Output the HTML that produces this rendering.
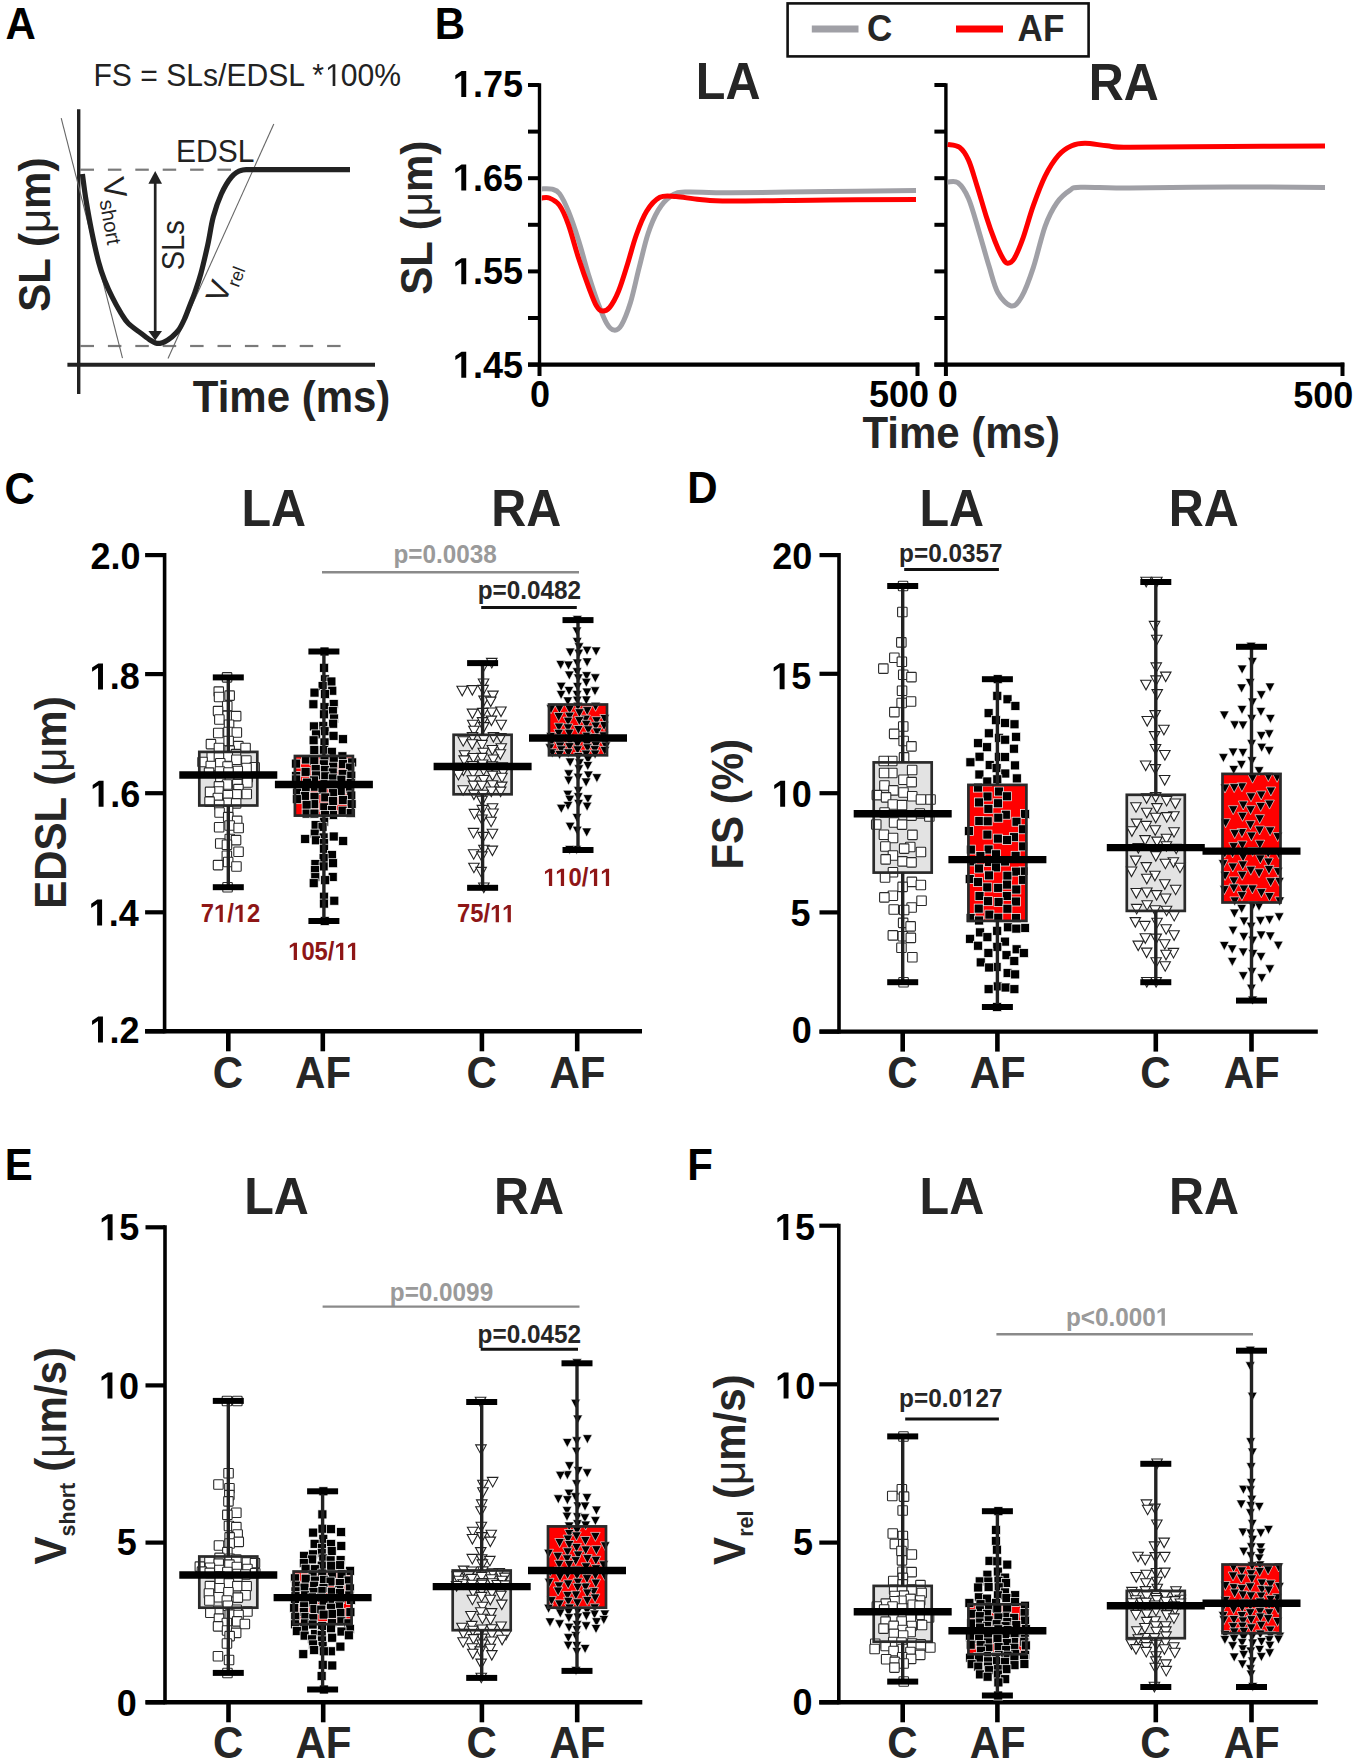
<!DOCTYPE html>
<html><head><meta charset="utf-8"><style>
html,body{margin:0;padding:0;background:#fff;width:1355px;height:1762px;overflow:hidden}
svg{display:block;font-family:"Liberation Sans", sans-serif}
</style></head><body>
<svg width="1355" height="1762" viewBox="0 0 1355 1762">
<g transform="translate(5.45,39.00) scale(1,1.05)"><text font-size="42" font-weight="bold" fill="#000" >A</text></g>
<g transform="translate(434.77,39.30) scale(1,1.05)"><text font-size="42" font-weight="bold" fill="#000" >B</text></g>
<g transform="translate(4.62,503.90) scale(1,1.05)"><text font-size="42" font-weight="bold" fill="#000" >C</text></g>
<g transform="translate(687.27,503.30) scale(1,1.05)"><text font-size="42" font-weight="bold" fill="#000" >D</text></g>
<g transform="translate(4.77,1180.20) scale(1,1.05)"><text font-size="42" font-weight="bold" fill="#000" >E</text></g>
<g transform="translate(687.27,1179.80) scale(1,1.05)"><text font-size="42" font-weight="bold" fill="#000" >F</text></g>
<g transform="translate(93.39,85.90) scale(1,1.05)"><text font-size="30.1" font-weight="normal" fill="#222" >FS = SLs/EDSL * 00%</text><path transform="translate(231.70,0) scale(0.01470,-0.01470)" d="M515 0V1237L197 1010V1180L530 1409H696V0Z" fill="#222"/></g>
<line x1="80.5" y1="169.7" x2="94.0" y2="169.7" stroke="#7a7a7a" stroke-width="2.2" />
<line x1="107.9" y1="169.7" x2="121.4" y2="169.7" stroke="#7a7a7a" stroke-width="2.2" />
<line x1="135.3" y1="169.7" x2="148.8" y2="169.7" stroke="#7a7a7a" stroke-width="2.2" />
<line x1="162.7" y1="169.7" x2="176.2" y2="169.7" stroke="#7a7a7a" stroke-width="2.2" />
<line x1="190.1" y1="169.7" x2="203.6" y2="169.7" stroke="#7a7a7a" stroke-width="2.2" />
<line x1="217.5" y1="169.7" x2="231.0" y2="169.7" stroke="#7a7a7a" stroke-width="2.2" />
<line x1="80.5" y1="346.0" x2="94.0" y2="346.0" stroke="#7a7a7a" stroke-width="2.2" />
<line x1="107.9" y1="346.0" x2="121.4" y2="346.0" stroke="#7a7a7a" stroke-width="2.2" />
<line x1="135.3" y1="346.0" x2="148.8" y2="346.0" stroke="#7a7a7a" stroke-width="2.2" />
<line x1="162.7" y1="346.0" x2="176.2" y2="346.0" stroke="#7a7a7a" stroke-width="2.2" />
<line x1="190.1" y1="346.0" x2="203.6" y2="346.0" stroke="#7a7a7a" stroke-width="2.2" />
<line x1="217.5" y1="346.0" x2="231.0" y2="346.0" stroke="#7a7a7a" stroke-width="2.2" />
<line x1="244.9" y1="346.0" x2="258.4" y2="346.0" stroke="#7a7a7a" stroke-width="2.2" />
<line x1="272.3" y1="346.0" x2="285.8" y2="346.0" stroke="#7a7a7a" stroke-width="2.2" />
<line x1="299.7" y1="346.0" x2="313.2" y2="346.0" stroke="#7a7a7a" stroke-width="2.2" />
<line x1="327.1" y1="346.0" x2="340.6" y2="346.0" stroke="#7a7a7a" stroke-width="2.2" />
<line x1="78.7" y1="109.3" x2="78.7" y2="394.0" stroke="#222" stroke-width="3.4" />
<line x1="67.4" y1="364.8" x2="375.0" y2="364.8" stroke="#222" stroke-width="4" />
<line x1="61.2" y1="118.2" x2="122.5" y2="358.2" stroke="#666" stroke-width="1.1" />
<line x1="273.8" y1="124.0" x2="168.0" y2="358.6" stroke="#666" stroke-width="1.1" />
<path d="M82.4,174.0 C83.0,178.3 84.4,190.3 86.0,200.0 C87.6,209.7 89.7,221.7 91.8,232.0 C93.9,242.3 96.5,254.0 98.6,262.0 C100.7,270.0 102.2,274.2 104.5,280.0 C106.8,285.8 109.3,291.4 112.1,296.9 C114.8,302.4 118.3,308.7 121.0,313.1 C123.7,317.5 125.0,320.1 128.4,323.5 C131.8,326.9 138.0,331.0 141.7,333.8 C145.4,336.6 148.2,338.8 150.5,340.3 C152.8,341.8 153.9,342.4 155.5,342.9 C157.1,343.4 158.5,343.5 160.0,343.3 C161.5,343.1 162.6,342.9 164.5,341.9 C166.4,340.9 168.8,339.5 171.2,337.5 C173.5,335.5 176.4,333.2 178.6,330.1 C180.8,327.0 182.6,323.2 184.5,319.0 C186.4,314.8 188.2,309.5 190.0,305.0 C191.8,300.5 193.2,297.2 195.0,292.0 C196.8,286.8 198.8,281.3 200.9,273.5 C203.0,265.7 205.6,254.5 207.7,245.1 C209.8,235.7 211.0,225.3 213.3,216.8 C215.6,208.3 218.3,200.6 221.3,194.0 C224.3,187.4 228.1,181.0 231.5,177.0 C234.9,173.0 237.0,171.4 241.7,170.2 C246.4,169.0 241.8,169.8 259.9,169.7 C277.9,169.6 335.0,169.7 350.0,169.7" fill="none" stroke="#222" stroke-width="5.2"/>
<line x1="155.2" y1="180.0" x2="155.2" y2="333.0" stroke="#222" stroke-width="2.7" />
<path d="M155.2,171 L148.4,183.8 L162,183.8 Z" fill="#222"/>
<path d="M155.2,340.6 L148.4,331 L162,331 Z" fill="#222"/>
<g transform="translate(176.00,162.40) scale(1,1.05)"><text font-size="30" font-weight="normal" fill="#222" >EDSL</text></g>
<g transform="translate(184.30,270.31) rotate(-90) scale(1,1.05)"><text font-size="29" font-weight="normal" fill="#222">SLs</text></g>
<text transform="translate(102.40,179.42) rotate(80)" font-size="31" fill="#222">V<tspan font-size="20.4" dy="6.5">short</tspan></text>
<text transform="translate(224.75,304.70) rotate(-69)" font-size="30.5" fill="#222">V<tspan font-size="18" dy="7">rel</tspan></text>
<g transform="translate(50.30,311.66) rotate(-90) scale(1,1.05)"><text font-size="42" font-weight="bold" fill="#222">SL (<tspan font-weight="normal">μ</tspan>m)</text></g>
<g transform="translate(192.78,412.30) scale(1,1.05)"><text font-size="42" font-weight="bold" fill="#222" >Time (ms)</text></g>
<rect x="787.6" y="3.4" width="301" height="53" fill="none" stroke="#111" stroke-width="2.6"/>
<line x1="811.8" y1="28.9" x2="858.5" y2="28.9" stroke="#a0a0a6" stroke-width="7" />
<g transform="translate(866.90,41.20) scale(1,1.05)"><text font-size="35" font-weight="bold" fill="#262626" >C</text></g>
<line x1="956.0" y1="28.9" x2="1003.0" y2="28.9" stroke="#ff0000" stroke-width="7" />
<g transform="translate(1017.62,41.20) scale(1,1.05)"><text font-size="35" font-weight="bold" fill="#262626" >AF</text></g>
<line x1="539.5" y1="83.2" x2="539.5" y2="366.1" stroke="#000" stroke-width="3.4" />
<line x1="528.0" y1="364.6" x2="919.2" y2="364.6" stroke="#000" stroke-width="4.2" />
<line x1="528.0" y1="85.0" x2="539.5" y2="85.0" stroke="#000" stroke-width="4" />
<line x1="528.0" y1="131.6" x2="539.5" y2="131.6" stroke="#000" stroke-width="4" />
<line x1="528.0" y1="178.2" x2="539.5" y2="178.2" stroke="#000" stroke-width="4" />
<line x1="528.0" y1="224.8" x2="539.5" y2="224.8" stroke="#000" stroke-width="4" />
<line x1="528.0" y1="271.4" x2="539.5" y2="271.4" stroke="#000" stroke-width="4" />
<line x1="528.0" y1="318.0" x2="539.5" y2="318.0" stroke="#000" stroke-width="4" />
<line x1="528.0" y1="364.6" x2="539.5" y2="364.6" stroke="#000" stroke-width="4" />
<line x1="539.5" y1="364.6" x2="539.5" y2="376.0" stroke="#000" stroke-width="4" />
<line x1="917.5" y1="362.6" x2="917.5" y2="376.0" stroke="#000" stroke-width="4" />
<line x1="945.9" y1="83.2" x2="945.9" y2="366.1" stroke="#000" stroke-width="3.4" />
<line x1="934.4" y1="364.6" x2="1344.2" y2="364.6" stroke="#000" stroke-width="4.2" />
<line x1="934.4" y1="85.0" x2="945.9" y2="85.0" stroke="#000" stroke-width="4" />
<line x1="934.4" y1="131.6" x2="945.9" y2="131.6" stroke="#000" stroke-width="4" />
<line x1="934.4" y1="178.2" x2="945.9" y2="178.2" stroke="#000" stroke-width="4" />
<line x1="934.4" y1="224.8" x2="945.9" y2="224.8" stroke="#000" stroke-width="4" />
<line x1="934.4" y1="271.4" x2="945.9" y2="271.4" stroke="#000" stroke-width="4" />
<line x1="934.4" y1="318.0" x2="945.9" y2="318.0" stroke="#000" stroke-width="4" />
<line x1="934.4" y1="364.6" x2="945.9" y2="364.6" stroke="#000" stroke-width="4" />
<line x1="945.9" y1="364.6" x2="945.9" y2="376.0" stroke="#000" stroke-width="4" />
<line x1="1342.5" y1="362.6" x2="1342.5" y2="376.0" stroke="#000" stroke-width="4" />
<g transform="translate(452.88,97.00) scale(1,1.05)"><text font-size="36" font-weight="bold" fill="#000" > .75</text><path transform="translate(0.00,0) scale(0.01758,-0.01758)" d="M478 0V1170L140 959V1180L493 1409H759V0Z" fill="#000"/></g>
<g transform="translate(452.88,190.60) scale(1,1.05)"><text font-size="36" font-weight="bold" fill="#000" > .65</text><path transform="translate(0.00,0) scale(0.01758,-0.01758)" d="M478 0V1170L140 959V1180L493 1409H759V0Z" fill="#000"/></g>
<g transform="translate(452.88,284.20) scale(1,1.05)"><text font-size="36" font-weight="bold" fill="#000" > .55</text><path transform="translate(0.00,0) scale(0.01758,-0.01758)" d="M478 0V1170L140 959V1180L493 1409H759V0Z" fill="#000"/></g>
<g transform="translate(452.88,377.80) scale(1,1.05)"><text font-size="36" font-weight="bold" fill="#000" > .45</text><path transform="translate(0.00,0) scale(0.01758,-0.01758)" d="M478 0V1170L140 959V1180L493 1409H759V0Z" fill="#000"/></g>
<g transform="translate(530.01,407.00) scale(1,1.05)"><text font-size="36" font-weight="bold" fill="#000" >0</text></g>
<g transform="translate(868.90,407.00) scale(1,1.05)"><text font-size="36" font-weight="bold" fill="#000" >500</text></g>
<g transform="translate(937.71,407.00) scale(1,1.05)"><text font-size="36" font-weight="bold" fill="#000" >0</text></g>
<g transform="translate(1293.20,408.00) scale(1,1.05)"><text font-size="36" font-weight="bold" fill="#000" >500</text></g>
<g transform="translate(695.85,99.20) scale(1,1.05)"><text font-size="48.5" font-weight="bold" fill="#262626" >LA</text></g>
<g transform="translate(1088.85,99.70) scale(1,1.05)"><text font-size="48.5" font-weight="bold" fill="#262626" >RA</text></g>
<g transform="translate(431.70,294.76) rotate(-90) scale(1,1.05)"><text font-size="42" font-weight="bold" fill="#262626">SL (<tspan font-weight="normal">μ</tspan>m)</text></g>
<g transform="translate(862.38,448.10) scale(1,1.05)"><text font-size="42" font-weight="bold" fill="#262626" >Time (ms)</text></g>
<path d="M541.8,188.9 C543.5,188.9 549.1,188.4 552.1,189.2 C555.1,190.0 556.8,189.9 559.5,193.6 C562.2,197.3 565.2,203.4 568.4,211.3 C571.6,219.2 575.3,230.0 578.7,240.8 C582.1,251.6 585.8,266.0 589.0,276.3 C592.2,286.6 594.9,294.9 597.9,302.8 C600.9,310.7 604.1,318.9 606.8,323.5 C609.5,328.1 611.6,329.9 614.1,330.1 C616.6,330.4 618.8,329.6 621.5,325.0 C624.2,320.4 627.4,312.4 630.4,302.8 C633.4,293.2 636.2,278.9 639.2,267.4 C642.2,255.8 644.9,243.1 648.1,233.5 C651.3,223.9 654.7,216.1 658.4,209.9 C662.1,203.8 665.8,199.6 670.2,196.6 C674.6,193.6 675.0,192.7 685.0,192.1 C695.0,191.5 705.8,192.9 730.0,192.8 C754.2,192.7 799.0,191.9 830.0,191.5 C861.0,191.1 901.7,190.7 916.0,190.5" fill="none" stroke="#a0a0a6" stroke-width="5"/>
<path d="M541.8,198.0 C543.0,198.0 546.2,196.8 549.2,198.0 C552.2,199.2 556.3,201.0 559.5,205.4 C562.7,209.8 565.2,215.7 568.4,224.6 C571.6,233.5 575.3,248.0 578.7,258.6 C582.1,269.2 586.0,280.1 589.0,288.0 C592.0,295.9 594.2,302.0 596.4,305.8 C598.6,309.6 600.1,310.8 602.3,311.0 C604.5,311.2 607.0,310.6 609.7,307.3 C612.4,304.0 615.7,298.1 618.6,291.0 C621.5,283.9 624.5,273.8 627.4,264.5 C630.3,255.2 633.1,243.9 636.3,235.0 C639.5,226.1 642.7,217.6 646.6,211.3 C650.5,205.0 655.0,199.8 659.9,197.3 C664.8,194.9 669.5,196.2 676.1,196.6 C682.7,197.0 690.7,198.8 699.7,199.5 C708.7,200.2 708.3,200.9 730.0,201.0 C751.7,201.1 799.0,200.2 830.0,200.0 C861.0,199.8 901.7,199.6 916.0,199.5" fill="none" stroke="#ff0000" stroke-width="5"/>
<path d="M947.7,182.0 C949.4,182.1 954.5,180.0 958.0,182.7 C961.5,185.4 964.9,190.2 968.4,198.2 C971.9,206.2 975.3,219.4 978.7,230.7 C982.1,242.0 985.8,255.8 989.0,266.1 C992.2,276.4 994.2,286.1 997.9,292.7 C1001.6,299.3 1007.3,305.3 1011.2,306.0 C1015.1,306.7 1017.8,303.5 1021.5,297.1 C1025.2,290.7 1029.4,279.4 1033.3,267.6 C1037.2,255.8 1041.2,237.1 1045.1,226.3 C1049.0,215.5 1052.7,208.7 1056.9,202.7 C1061.1,196.7 1066.2,192.7 1070.2,190.1 C1074.2,187.5 1070.6,187.6 1080.6,187.2 C1090.6,186.8 1105.1,187.9 1130.0,187.9 C1154.9,187.9 1197.5,187.1 1230.0,187.0 C1262.5,186.9 1309.2,187.4 1325.0,187.5" fill="none" stroke="#a0a0a6" stroke-width="5"/>
<path d="M947.7,144.4 C949.7,144.9 956.0,144.7 959.5,147.3 C963.0,149.9 965.4,153.4 968.4,159.9 C971.4,166.4 974.2,177.1 977.2,186.4 C980.2,195.7 983.2,206.8 986.1,215.9 C989.0,225.0 992.2,234.1 994.9,241.0 C997.6,247.9 1000.2,253.6 1002.3,257.3 C1004.4,261.0 1005.5,263.0 1007.5,263.2 C1009.5,263.4 1011.5,262.9 1014.1,258.7 C1016.7,254.5 1019.8,246.9 1023.0,238.1 C1026.2,229.2 1029.6,215.9 1033.3,205.6 C1037.0,195.3 1040.9,184.5 1045.1,176.1 C1049.3,167.7 1054.0,160.4 1058.4,155.4 C1062.8,150.4 1067.3,147.8 1071.7,145.8 C1076.1,143.8 1079.1,143.3 1085.0,143.3 C1090.9,143.3 1099.6,145.1 1107.1,145.8 C1114.6,146.5 1109.5,147.2 1130.0,147.3 C1150.5,147.4 1197.5,146.7 1230.0,146.5 C1262.5,146.3 1309.2,146.1 1325.0,146.0" fill="none" stroke="#ff0000" stroke-width="5"/>
<line x1="164.6" y1="553.1" x2="164.6" y2="1033.3" stroke="#000" stroke-width="3.6" />
<line x1="145.1" y1="1031.3" x2="642.0" y2="1031.3" stroke="#000" stroke-width="4.4" />
<line x1="145.1" y1="555.1" x2="164.6" y2="555.1" stroke="#000" stroke-width="4.2" />
<g transform="translate(90.60,569.30) scale(1,1.05)"><text font-size="36" font-weight="bold" fill="#000" >2.0</text></g>
<line x1="145.1" y1="674.1" x2="164.6" y2="674.1" stroke="#000" stroke-width="4.2" />
<g transform="translate(89.64,689.40) scale(1,1.05)"><text font-size="36" font-weight="bold" fill="#000" > .8</text><path transform="translate(0.00,0) scale(0.01758,-0.01758)" d="M478 0V1170L140 959V1180L493 1409H759V0Z" fill="#000"/></g>
<line x1="145.1" y1="793.2" x2="164.6" y2="793.2" stroke="#000" stroke-width="4.2" />
<g transform="translate(90.22,806.80) scale(1,1.05)"><text font-size="36" font-weight="bold" fill="#000" > .6</text><path transform="translate(0.00,0) scale(0.01758,-0.01758)" d="M478 0V1170L140 959V1180L493 1409H759V0Z" fill="#000"/></g>
<line x1="145.1" y1="912.3" x2="164.6" y2="912.3" stroke="#000" stroke-width="4.2" />
<g transform="translate(88.74,925.60) scale(1,1.05)"><text font-size="36" font-weight="bold" fill="#000" > .4</text><path transform="translate(0.00,0) scale(0.01758,-0.01758)" d="M478 0V1170L140 959V1180L493 1409H759V0Z" fill="#000"/></g>
<line x1="145.1" y1="1031.3" x2="164.6" y2="1031.3" stroke="#000" stroke-width="4.2" />
<g transform="translate(89.60,1042.60) scale(1,1.05)"><text font-size="36" font-weight="bold" fill="#000" > .2</text><path transform="translate(0.00,0) scale(0.01758,-0.01758)" d="M478 0V1170L140 959V1180L493 1409H759V0Z" fill="#000"/></g>
<line x1="228.3" y1="1031.3" x2="228.3" y2="1051.3" stroke="#000" stroke-width="4.6" />
<g transform="translate(212.87,1088.30) scale(1,1.05)"><text font-size="42" font-weight="bold" fill="#262626" >C</text></g>
<line x1="322.8" y1="1031.3" x2="322.8" y2="1051.3" stroke="#000" stroke-width="4.6" />
<g transform="translate(295.08,1088.30) scale(1,1.05)"><text font-size="42" font-weight="bold" fill="#262626" >AF</text></g>
<line x1="481.9" y1="1031.3" x2="481.9" y2="1051.3" stroke="#000" stroke-width="4.6" />
<g transform="translate(466.46,1088.30) scale(1,1.05)"><text font-size="42" font-weight="bold" fill="#262626" >C</text></g>
<line x1="577.2" y1="1031.3" x2="577.2" y2="1051.3" stroke="#000" stroke-width="4.6" />
<g transform="translate(549.48,1088.30) scale(1,1.05)"><text font-size="42" font-weight="bold" fill="#262626" >AF</text></g>
<g transform="translate(241.45,525.80) scale(1,1.05)"><text font-size="48.5" font-weight="bold" fill="#262626" >LA</text></g>
<g transform="translate(491.25,525.80) scale(1,1.05)"><text font-size="48.5" font-weight="bold" fill="#262626" >RA</text></g>
<g transform="translate(66.30,908.73) rotate(-90) scale(1,1.05)"><text font-size="42" font-weight="bold" fill="#262626">EDSL (<tspan font-weight="normal">μ</tspan>m)</text></g>
<rect x="199.3" y="751.9" width="58.0" height="53.6" fill="#e3e3e3" stroke="none" stroke-width="0"/>
<rect x="222.8" y="882.5" width="9.5" height="9.5" rx="0.8" fill="#fff" stroke="#2a2a2a" stroke-width="1.1"/>
<rect x="214.0" y="686.9" width="9.5" height="9.5" rx="0.8" fill="#fff" stroke="#2a2a2a" stroke-width="1.1"/>
<rect x="224.9" y="690.9" width="9.5" height="9.5" rx="0.8" fill="#fff" stroke="#2a2a2a" stroke-width="1.1"/>
<rect x="214.3" y="692.2" width="9.5" height="9.5" rx="0.8" fill="#fff" stroke="#2a2a2a" stroke-width="1.1"/>
<rect x="222.5" y="701.2" width="9.5" height="9.5" rx="0.8" fill="#fff" stroke="#2a2a2a" stroke-width="1.1"/>
<rect x="213.3" y="706.4" width="9.5" height="9.5" rx="0.8" fill="#fff" stroke="#2a2a2a" stroke-width="1.1"/>
<rect x="222.9" y="711.1" width="9.5" height="9.5" rx="0.8" fill="#fff" stroke="#2a2a2a" stroke-width="1.1"/>
<rect x="231.4" y="711.4" width="9.5" height="9.5" rx="0.8" fill="#fff" stroke="#2a2a2a" stroke-width="1.1"/>
<rect x="214.6" y="714.8" width="9.5" height="9.5" rx="0.8" fill="#fff" stroke="#2a2a2a" stroke-width="1.1"/>
<rect x="224.3" y="720.0" width="9.5" height="9.5" rx="0.8" fill="#fff" stroke="#2a2a2a" stroke-width="1.1"/>
<rect x="223.7" y="727.3" width="9.5" height="9.5" rx="0.8" fill="#fff" stroke="#2a2a2a" stroke-width="1.1"/>
<rect x="232.1" y="727.7" width="9.5" height="9.5" rx="0.8" fill="#fff" stroke="#2a2a2a" stroke-width="1.1"/>
<rect x="213.5" y="728.2" width="9.5" height="9.5" rx="0.8" fill="#fff" stroke="#2a2a2a" stroke-width="1.1"/>
<rect x="223.9" y="736.3" width="9.5" height="9.5" rx="0.8" fill="#fff" stroke="#2a2a2a" stroke-width="1.1"/>
<rect x="206.2" y="739.4" width="9.5" height="9.5" rx="0.8" fill="#fff" stroke="#2a2a2a" stroke-width="1.1"/>
<rect x="233.6" y="741.4" width="9.5" height="9.5" rx="0.8" fill="#fff" stroke="#2a2a2a" stroke-width="1.1"/>
<rect x="214.2" y="743.2" width="9.5" height="9.5" rx="0.8" fill="#fff" stroke="#2a2a2a" stroke-width="1.1"/>
<rect x="240.8" y="743.3" width="9.5" height="9.5" rx="0.8" fill="#fff" stroke="#2a2a2a" stroke-width="1.1"/>
<rect x="224.9" y="745.9" width="9.5" height="9.5" rx="0.8" fill="#fff" stroke="#2a2a2a" stroke-width="1.1"/>
<rect x="231.2" y="749.4" width="9.5" height="9.5" rx="0.8" fill="#fff" stroke="#2a2a2a" stroke-width="1.1"/>
<rect x="223.0" y="751.9" width="9.5" height="9.5" rx="0.8" fill="#fff" stroke="#2a2a2a" stroke-width="1.1"/>
<rect x="207.0" y="752.1" width="9.5" height="9.5" rx="0.8" fill="#fff" stroke="#2a2a2a" stroke-width="1.1"/>
<rect x="214.2" y="752.6" width="9.5" height="9.5" rx="0.8" fill="#fff" stroke="#2a2a2a" stroke-width="1.1"/>
<rect x="231.6" y="755.0" width="9.5" height="9.5" rx="0.8" fill="#fff" stroke="#2a2a2a" stroke-width="1.1"/>
<rect x="241.6" y="755.7" width="9.5" height="9.5" rx="0.8" fill="#fff" stroke="#2a2a2a" stroke-width="1.1"/>
<rect x="197.8" y="757.2" width="9.5" height="9.5" rx="0.8" fill="#fff" stroke="#2a2a2a" stroke-width="1.1"/>
<rect x="215.5" y="758.5" width="9.5" height="9.5" rx="0.8" fill="#fff" stroke="#2a2a2a" stroke-width="1.1"/>
<rect x="206.0" y="761.2" width="9.5" height="9.5" rx="0.8" fill="#fff" stroke="#2a2a2a" stroke-width="1.1"/>
<rect x="222.8" y="761.8" width="9.5" height="9.5" rx="0.8" fill="#fff" stroke="#2a2a2a" stroke-width="1.1"/>
<rect x="249.9" y="762.5" width="9.5" height="9.5" rx="0.8" fill="#fff" stroke="#2a2a2a" stroke-width="1.1"/>
<rect x="241.8" y="763.3" width="9.5" height="9.5" rx="0.8" fill="#fff" stroke="#2a2a2a" stroke-width="1.1"/>
<rect x="233.0" y="766.2" width="9.5" height="9.5" rx="0.8" fill="#fff" stroke="#2a2a2a" stroke-width="1.1"/>
<rect x="215.2" y="766.7" width="9.5" height="9.5" rx="0.8" fill="#fff" stroke="#2a2a2a" stroke-width="1.1"/>
<rect x="223.7" y="767.7" width="9.5" height="9.5" rx="0.8" fill="#fff" stroke="#2a2a2a" stroke-width="1.1"/>
<rect x="204.3" y="767.9" width="9.5" height="9.5" rx="0.8" fill="#fff" stroke="#2a2a2a" stroke-width="1.1"/>
<rect x="243.0" y="772.5" width="9.5" height="9.5" rx="0.8" fill="#fff" stroke="#2a2a2a" stroke-width="1.1"/>
<rect x="232.8" y="772.8" width="9.5" height="9.5" rx="0.8" fill="#fff" stroke="#2a2a2a" stroke-width="1.1"/>
<rect x="224.4" y="773.5" width="9.5" height="9.5" rx="0.8" fill="#fff" stroke="#2a2a2a" stroke-width="1.1"/>
<rect x="215.6" y="776.2" width="9.5" height="9.5" rx="0.8" fill="#fff" stroke="#2a2a2a" stroke-width="1.1"/>
<rect x="242.6" y="777.8" width="9.5" height="9.5" rx="0.8" fill="#fff" stroke="#2a2a2a" stroke-width="1.1"/>
<rect x="232.6" y="779.4" width="9.5" height="9.5" rx="0.8" fill="#fff" stroke="#2a2a2a" stroke-width="1.1"/>
<rect x="222.3" y="779.7" width="9.5" height="9.5" rx="0.8" fill="#fff" stroke="#2a2a2a" stroke-width="1.1"/>
<rect x="214.2" y="781.6" width="9.5" height="9.5" rx="0.8" fill="#fff" stroke="#2a2a2a" stroke-width="1.1"/>
<rect x="233.7" y="784.4" width="9.5" height="9.5" rx="0.8" fill="#fff" stroke="#2a2a2a" stroke-width="1.1"/>
<rect x="213.7" y="786.8" width="9.5" height="9.5" rx="0.8" fill="#fff" stroke="#2a2a2a" stroke-width="1.1"/>
<rect x="205.3" y="787.1" width="9.5" height="9.5" rx="0.8" fill="#fff" stroke="#2a2a2a" stroke-width="1.1"/>
<rect x="242.0" y="789.3" width="9.5" height="9.5" rx="0.8" fill="#fff" stroke="#2a2a2a" stroke-width="1.1"/>
<rect x="231.9" y="789.6" width="9.5" height="9.5" rx="0.8" fill="#fff" stroke="#2a2a2a" stroke-width="1.1"/>
<rect x="223.1" y="790.5" width="9.5" height="9.5" rx="0.8" fill="#fff" stroke="#2a2a2a" stroke-width="1.1"/>
<rect x="213.1" y="793.3" width="9.5" height="9.5" rx="0.8" fill="#fff" stroke="#2a2a2a" stroke-width="1.1"/>
<rect x="204.8" y="796.9" width="9.5" height="9.5" rx="0.8" fill="#fff" stroke="#2a2a2a" stroke-width="1.1"/>
<rect x="223.4" y="798.1" width="9.5" height="9.5" rx="0.8" fill="#fff" stroke="#2a2a2a" stroke-width="1.1"/>
<rect x="231.4" y="798.6" width="9.5" height="9.5" rx="0.8" fill="#fff" stroke="#2a2a2a" stroke-width="1.1"/>
<rect x="214.5" y="800.1" width="9.5" height="9.5" rx="0.8" fill="#fff" stroke="#2a2a2a" stroke-width="1.1"/>
<rect x="223.3" y="806.1" width="9.5" height="9.5" rx="0.8" fill="#fff" stroke="#2a2a2a" stroke-width="1.1"/>
<rect x="214.8" y="807.7" width="9.5" height="9.5" rx="0.8" fill="#fff" stroke="#2a2a2a" stroke-width="1.1"/>
<rect x="223.5" y="812.4" width="9.5" height="9.5" rx="0.8" fill="#fff" stroke="#2a2a2a" stroke-width="1.1"/>
<rect x="232.4" y="816.1" width="9.5" height="9.5" rx="0.8" fill="#fff" stroke="#2a2a2a" stroke-width="1.1"/>
<rect x="224.9" y="820.7" width="9.5" height="9.5" rx="0.8" fill="#fff" stroke="#2a2a2a" stroke-width="1.1"/>
<rect x="214.4" y="822.5" width="9.5" height="9.5" rx="0.8" fill="#fff" stroke="#2a2a2a" stroke-width="1.1"/>
<rect x="233.9" y="823.2" width="9.5" height="9.5" rx="0.8" fill="#fff" stroke="#2a2a2a" stroke-width="1.1"/>
<rect x="225.0" y="834.3" width="9.5" height="9.5" rx="0.8" fill="#fff" stroke="#2a2a2a" stroke-width="1.1"/>
<rect x="231.3" y="835.4" width="9.5" height="9.5" rx="0.8" fill="#fff" stroke="#2a2a2a" stroke-width="1.1"/>
<rect x="215.5" y="838.7" width="9.5" height="9.5" rx="0.8" fill="#fff" stroke="#2a2a2a" stroke-width="1.1"/>
<rect x="222.2" y="840.0" width="9.5" height="9.5" rx="0.8" fill="#fff" stroke="#2a2a2a" stroke-width="1.1"/>
<rect x="233.8" y="847.0" width="9.5" height="9.5" rx="0.8" fill="#fff" stroke="#2a2a2a" stroke-width="1.1"/>
<rect x="222.1" y="851.0" width="9.5" height="9.5" rx="0.8" fill="#fff" stroke="#2a2a2a" stroke-width="1.1"/>
<rect x="223.4" y="857.3" width="9.5" height="9.5" rx="0.8" fill="#fff" stroke="#2a2a2a" stroke-width="1.1"/>
<rect x="213.3" y="860.4" width="9.5" height="9.5" rx="0.8" fill="#fff" stroke="#2a2a2a" stroke-width="1.1"/>
<rect x="231.7" y="861.8" width="9.5" height="9.5" rx="0.8" fill="#fff" stroke="#2a2a2a" stroke-width="1.1"/>
<rect x="222.3" y="672.6" width="9.5" height="9.5" rx="0.8" fill="#fff" stroke="#2a2a2a" stroke-width="1.1"/>
<rect x="199.3" y="751.9" width="58.0" height="53.6" fill="none" stroke="#2a2a2a" stroke-width="2.7"/>
<line x1="228.3" y1="677.4" x2="228.3" y2="751.9" stroke="#222" stroke-width="3.4" />
<line x1="228.3" y1="805.5" x2="228.3" y2="887.2" stroke="#222" stroke-width="3.4" />
<line x1="212.8" y1="677.4" x2="243.8" y2="677.4" stroke="#000" stroke-width="6" />
<line x1="212.8" y1="887.2" x2="243.8" y2="887.2" stroke="#000" stroke-width="6" />
<line x1="179.3" y1="775.0" x2="277.3" y2="775.0" stroke="#000" stroke-width="7.4" />
<rect x="294.9" y="756.0" width="58.0" height="59.6" fill="#ff0000" stroke="none" stroke-width="0"/>
<rect x="320.2" y="916.5" width="9.0" height="9.0" fill="#000" stroke="#fff" stroke-width="0.7"/>
<rect x="319.6" y="663.3" width="9.0" height="9.0" fill="#000" stroke="#fff" stroke-width="0.7"/>
<rect x="320.4" y="674.8" width="9.0" height="9.0" fill="#000" stroke="#fff" stroke-width="0.7"/>
<rect x="326.9" y="677.0" width="9.0" height="9.0" fill="#000" stroke="#fff" stroke-width="0.7"/>
<rect x="318.1" y="681.6" width="9.0" height="9.0" fill="#000" stroke="#fff" stroke-width="0.7"/>
<rect x="327.8" y="686.2" width="9.0" height="9.0" fill="#000" stroke="#fff" stroke-width="0.7"/>
<rect x="310.0" y="688.1" width="9.0" height="9.0" fill="#000" stroke="#fff" stroke-width="0.7"/>
<rect x="320.4" y="689.6" width="9.0" height="9.0" fill="#000" stroke="#fff" stroke-width="0.7"/>
<rect x="329.2" y="699.5" width="9.0" height="9.0" fill="#000" stroke="#fff" stroke-width="0.7"/>
<rect x="308.9" y="699.8" width="9.0" height="9.0" fill="#000" stroke="#fff" stroke-width="0.7"/>
<rect x="320.0" y="702.7" width="9.0" height="9.0" fill="#000" stroke="#fff" stroke-width="0.7"/>
<rect x="328.3" y="706.6" width="9.0" height="9.0" fill="#000" stroke="#fff" stroke-width="0.7"/>
<rect x="319.5" y="709.8" width="9.0" height="9.0" fill="#000" stroke="#fff" stroke-width="0.7"/>
<rect x="329.5" y="714.0" width="9.0" height="9.0" fill="#000" stroke="#fff" stroke-width="0.7"/>
<rect x="328.7" y="719.2" width="9.0" height="9.0" fill="#000" stroke="#fff" stroke-width="0.7"/>
<rect x="318.8" y="721.4" width="9.0" height="9.0" fill="#000" stroke="#fff" stroke-width="0.7"/>
<rect x="309.4" y="721.9" width="9.0" height="9.0" fill="#000" stroke="#fff" stroke-width="0.7"/>
<rect x="320.1" y="726.7" width="9.0" height="9.0" fill="#000" stroke="#fff" stroke-width="0.7"/>
<rect x="311.6" y="729.9" width="9.0" height="9.0" fill="#000" stroke="#fff" stroke-width="0.7"/>
<rect x="329.0" y="731.3" width="9.0" height="9.0" fill="#000" stroke="#fff" stroke-width="0.7"/>
<rect x="338.4" y="734.7" width="9.0" height="9.0" fill="#000" stroke="#fff" stroke-width="0.7"/>
<rect x="309.1" y="735.8" width="9.0" height="9.0" fill="#000" stroke="#fff" stroke-width="0.7"/>
<rect x="320.0" y="737.9" width="9.0" height="9.0" fill="#000" stroke="#fff" stroke-width="0.7"/>
<rect x="309.8" y="745.4" width="9.0" height="9.0" fill="#000" stroke="#fff" stroke-width="0.7"/>
<rect x="319.4" y="745.6" width="9.0" height="9.0" fill="#000" stroke="#fff" stroke-width="0.7"/>
<rect x="327.3" y="747.3" width="9.0" height="9.0" fill="#000" stroke="#fff" stroke-width="0.7"/>
<rect x="337.9" y="751.8" width="9.0" height="9.0" fill="#000" stroke="#fff" stroke-width="0.7"/>
<rect x="320.0" y="754.2" width="9.0" height="9.0" fill="#000" stroke="#fff" stroke-width="0.7"/>
<rect x="301.5" y="755.0" width="9.0" height="9.0" fill="#000" stroke="#fff" stroke-width="0.7"/>
<rect x="329.2" y="755.2" width="9.0" height="9.0" fill="#000" stroke="#fff" stroke-width="0.7"/>
<rect x="309.8" y="756.2" width="9.0" height="9.0" fill="#000" stroke="#fff" stroke-width="0.7"/>
<rect x="347.7" y="757.9" width="9.0" height="9.0" fill="#000" stroke="#fff" stroke-width="0.7"/>
<rect x="291.4" y="759.1" width="9.0" height="9.0" fill="#000" stroke="#fff" stroke-width="0.7"/>
<rect x="338.4" y="759.5" width="9.0" height="9.0" fill="#000" stroke="#fff" stroke-width="0.7"/>
<rect x="319.3" y="759.8" width="9.0" height="9.0" fill="#000" stroke="#fff" stroke-width="0.7"/>
<rect x="328.7" y="762.2" width="9.0" height="9.0" fill="#000" stroke="#fff" stroke-width="0.7"/>
<rect x="345.7" y="763.1" width="9.0" height="9.0" fill="#000" stroke="#fff" stroke-width="0.7"/>
<rect x="311.2" y="764.5" width="9.0" height="9.0" fill="#000" stroke="#fff" stroke-width="0.7"/>
<rect x="320.5" y="765.5" width="9.0" height="9.0" fill="#000" stroke="#fff" stroke-width="0.7"/>
<rect x="301.1" y="767.3" width="9.0" height="9.0" fill="#000" stroke="#fff" stroke-width="0.7"/>
<rect x="328.2" y="767.9" width="9.0" height="9.0" fill="#000" stroke="#fff" stroke-width="0.7"/>
<rect x="338.2" y="769.5" width="9.0" height="9.0" fill="#000" stroke="#fff" stroke-width="0.7"/>
<rect x="311.6" y="770.9" width="9.0" height="9.0" fill="#000" stroke="#fff" stroke-width="0.7"/>
<rect x="346.8" y="771.1" width="9.0" height="9.0" fill="#000" stroke="#fff" stroke-width="0.7"/>
<rect x="291.6" y="771.4" width="9.0" height="9.0" fill="#000" stroke="#fff" stroke-width="0.7"/>
<rect x="320.8" y="771.8" width="9.0" height="9.0" fill="#000" stroke="#fff" stroke-width="0.7"/>
<rect x="328.3" y="773.9" width="9.0" height="9.0" fill="#000" stroke="#fff" stroke-width="0.7"/>
<rect x="291.7" y="774.9" width="9.0" height="9.0" fill="#000" stroke="#fff" stroke-width="0.7"/>
<rect x="336.9" y="775.2" width="9.0" height="9.0" fill="#000" stroke="#fff" stroke-width="0.7"/>
<rect x="309.4" y="775.9" width="9.0" height="9.0" fill="#000" stroke="#fff" stroke-width="0.7"/>
<rect x="302.4" y="778.1" width="9.0" height="9.0" fill="#000" stroke="#fff" stroke-width="0.7"/>
<rect x="346.2" y="778.5" width="9.0" height="9.0" fill="#000" stroke="#fff" stroke-width="0.7"/>
<rect x="320.0" y="779.7" width="9.0" height="9.0" fill="#000" stroke="#fff" stroke-width="0.7"/>
<rect x="328.0" y="780.0" width="9.0" height="9.0" fill="#000" stroke="#fff" stroke-width="0.7"/>
<rect x="310.4" y="782.2" width="9.0" height="9.0" fill="#000" stroke="#fff" stroke-width="0.7"/>
<rect x="293.0" y="783.1" width="9.0" height="9.0" fill="#000" stroke="#fff" stroke-width="0.7"/>
<rect x="301.1" y="784.4" width="9.0" height="9.0" fill="#000" stroke="#fff" stroke-width="0.7"/>
<rect x="345.6" y="784.6" width="9.0" height="9.0" fill="#000" stroke="#fff" stroke-width="0.7"/>
<rect x="318.0" y="785.6" width="9.0" height="9.0" fill="#000" stroke="#fff" stroke-width="0.7"/>
<rect x="336.2" y="787.1" width="9.0" height="9.0" fill="#000" stroke="#fff" stroke-width="0.7"/>
<rect x="292.5" y="788.2" width="9.0" height="9.0" fill="#000" stroke="#fff" stroke-width="0.7"/>
<rect x="328.6" y="788.7" width="9.0" height="9.0" fill="#000" stroke="#fff" stroke-width="0.7"/>
<rect x="346.8" y="791.0" width="9.0" height="9.0" fill="#000" stroke="#fff" stroke-width="0.7"/>
<rect x="300.5" y="791.4" width="9.0" height="9.0" fill="#000" stroke="#fff" stroke-width="0.7"/>
<rect x="310.0" y="792.3" width="9.0" height="9.0" fill="#000" stroke="#fff" stroke-width="0.7"/>
<rect x="320.8" y="792.9" width="9.0" height="9.0" fill="#000" stroke="#fff" stroke-width="0.7"/>
<rect x="292.3" y="794.7" width="9.0" height="9.0" fill="#000" stroke="#fff" stroke-width="0.7"/>
<rect x="338.5" y="795.6" width="9.0" height="9.0" fill="#000" stroke="#fff" stroke-width="0.7"/>
<rect x="328.5" y="796.5" width="9.0" height="9.0" fill="#000" stroke="#fff" stroke-width="0.7"/>
<rect x="309.7" y="799.7" width="9.0" height="9.0" fill="#000" stroke="#fff" stroke-width="0.7"/>
<rect x="347.1" y="799.7" width="9.0" height="9.0" fill="#000" stroke="#fff" stroke-width="0.7"/>
<rect x="302.1" y="800.3" width="9.0" height="9.0" fill="#000" stroke="#fff" stroke-width="0.7"/>
<rect x="319.8" y="802.8" width="9.0" height="9.0" fill="#000" stroke="#fff" stroke-width="0.7"/>
<rect x="327.5" y="805.5" width="9.0" height="9.0" fill="#000" stroke="#fff" stroke-width="0.7"/>
<rect x="338.1" y="806.1" width="9.0" height="9.0" fill="#000" stroke="#fff" stroke-width="0.7"/>
<rect x="346.2" y="808.6" width="9.0" height="9.0" fill="#000" stroke="#fff" stroke-width="0.7"/>
<rect x="302.1" y="809.1" width="9.0" height="9.0" fill="#000" stroke="#fff" stroke-width="0.7"/>
<rect x="309.9" y="809.1" width="9.0" height="9.0" fill="#000" stroke="#fff" stroke-width="0.7"/>
<rect x="328.5" y="810.5" width="9.0" height="9.0" fill="#000" stroke="#fff" stroke-width="0.7"/>
<rect x="320.5" y="810.6" width="9.0" height="9.0" fill="#000" stroke="#fff" stroke-width="0.7"/>
<rect x="319.7" y="817.2" width="9.0" height="9.0" fill="#000" stroke="#fff" stroke-width="0.7"/>
<rect x="311.1" y="820.6" width="9.0" height="9.0" fill="#000" stroke="#fff" stroke-width="0.7"/>
<rect x="318.0" y="822.3" width="9.0" height="9.0" fill="#000" stroke="#fff" stroke-width="0.7"/>
<rect x="310.2" y="829.1" width="9.0" height="9.0" fill="#000" stroke="#fff" stroke-width="0.7"/>
<rect x="329.2" y="832.0" width="9.0" height="9.0" fill="#000" stroke="#fff" stroke-width="0.7"/>
<rect x="319.1" y="832.9" width="9.0" height="9.0" fill="#000" stroke="#fff" stroke-width="0.7"/>
<rect x="300.7" y="834.4" width="9.0" height="9.0" fill="#000" stroke="#fff" stroke-width="0.7"/>
<rect x="311.4" y="835.8" width="9.0" height="9.0" fill="#000" stroke="#fff" stroke-width="0.7"/>
<rect x="338.7" y="836.5" width="9.0" height="9.0" fill="#000" stroke="#fff" stroke-width="0.7"/>
<rect x="319.5" y="838.5" width="9.0" height="9.0" fill="#000" stroke="#fff" stroke-width="0.7"/>
<rect x="319.4" y="844.2" width="9.0" height="9.0" fill="#000" stroke="#fff" stroke-width="0.7"/>
<rect x="327.4" y="850.5" width="9.0" height="9.0" fill="#000" stroke="#fff" stroke-width="0.7"/>
<rect x="319.1" y="853.5" width="9.0" height="9.0" fill="#000" stroke="#fff" stroke-width="0.7"/>
<rect x="328.5" y="858.7" width="9.0" height="9.0" fill="#000" stroke="#fff" stroke-width="0.7"/>
<rect x="310.9" y="859.6" width="9.0" height="9.0" fill="#000" stroke="#fff" stroke-width="0.7"/>
<rect x="319.1" y="861.9" width="9.0" height="9.0" fill="#000" stroke="#fff" stroke-width="0.7"/>
<rect x="310.5" y="865.5" width="9.0" height="9.0" fill="#000" stroke="#fff" stroke-width="0.7"/>
<rect x="328.2" y="872.4" width="9.0" height="9.0" fill="#000" stroke="#fff" stroke-width="0.7"/>
<rect x="310.8" y="872.7" width="9.0" height="9.0" fill="#000" stroke="#fff" stroke-width="0.7"/>
<rect x="320.7" y="875.7" width="9.0" height="9.0" fill="#000" stroke="#fff" stroke-width="0.7"/>
<rect x="309.2" y="878.7" width="9.0" height="9.0" fill="#000" stroke="#fff" stroke-width="0.7"/>
<rect x="319.5" y="892.2" width="9.0" height="9.0" fill="#000" stroke="#fff" stroke-width="0.7"/>
<rect x="329.8" y="896.2" width="9.0" height="9.0" fill="#000" stroke="#fff" stroke-width="0.7"/>
<rect x="319.4" y="899.1" width="9.0" height="9.0" fill="#000" stroke="#fff" stroke-width="0.7"/>
<rect x="320.0" y="647.0" width="9.0" height="9.0" fill="#000" stroke="#fff" stroke-width="0.7"/>
<rect x="294.9" y="756.0" width="58.0" height="59.6" fill="none" stroke="#2a2a2a" stroke-width="2.7"/>
<line x1="323.9" y1="651.5" x2="323.9" y2="756.0" stroke="#222" stroke-width="3.4" />
<line x1="323.9" y1="815.6" x2="323.9" y2="921.0" stroke="#222" stroke-width="3.4" />
<line x1="308.4" y1="651.5" x2="339.4" y2="651.5" stroke="#000" stroke-width="6" />
<line x1="308.4" y1="921.0" x2="339.4" y2="921.0" stroke="#000" stroke-width="6" />
<line x1="274.9" y1="784.5" x2="372.9" y2="784.5" stroke="#000" stroke-width="7.4" />
<rect x="453.6" y="734.8" width="58.0" height="59.5" fill="#e3e3e3" stroke="none" stroke-width="0"/>
<path d="M478.6,883.0H489.1L483.8,892.5Z" fill="#fff" stroke="#222" stroke-width="1.1" stroke-linejoin="miter"/>
<path d="M478.6,661.4H489.1L483.9,670.9Z" fill="#fff" stroke="#222" stroke-width="1.1" stroke-linejoin="miter"/>
<path d="M478.3,679.0H488.8L483.5,688.5Z" fill="#fff" stroke="#222" stroke-width="1.1" stroke-linejoin="miter"/>
<path d="M477.9,685.4H488.4L483.2,694.9Z" fill="#fff" stroke="#222" stroke-width="1.1" stroke-linejoin="miter"/>
<path d="M467.1,685.6H477.6L472.3,695.1Z" fill="#fff" stroke="#222" stroke-width="1.1" stroke-linejoin="miter"/>
<path d="M456.9,686.3H467.4L462.2,695.8Z" fill="#fff" stroke="#222" stroke-width="1.1" stroke-linejoin="miter"/>
<path d="M487.7,691.1H498.2L493.0,700.6Z" fill="#fff" stroke="#222" stroke-width="1.1" stroke-linejoin="miter"/>
<path d="M478.8,696.1H489.3L484.0,705.6Z" fill="#fff" stroke="#222" stroke-width="1.1" stroke-linejoin="miter"/>
<path d="M485.5,697.1H496.0L490.7,706.6Z" fill="#fff" stroke="#222" stroke-width="1.1" stroke-linejoin="miter"/>
<path d="M495.7,707.0H506.2L501.0,716.5Z" fill="#fff" stroke="#222" stroke-width="1.1" stroke-linejoin="miter"/>
<path d="M486.3,708.0H496.8L491.6,717.5Z" fill="#fff" stroke="#222" stroke-width="1.1" stroke-linejoin="miter"/>
<path d="M477.6,708.4H488.1L482.8,717.9Z" fill="#fff" stroke="#222" stroke-width="1.1" stroke-linejoin="miter"/>
<path d="M467.2,709.1H477.7L472.4,718.6Z" fill="#fff" stroke="#222" stroke-width="1.1" stroke-linejoin="miter"/>
<path d="M486.2,716.1H496.7L491.4,725.6Z" fill="#fff" stroke="#222" stroke-width="1.1" stroke-linejoin="miter"/>
<path d="M477.3,717.6H487.8L482.5,727.1Z" fill="#fff" stroke="#222" stroke-width="1.1" stroke-linejoin="miter"/>
<path d="M467.5,720.3H478.0L472.7,729.8Z" fill="#fff" stroke="#222" stroke-width="1.1" stroke-linejoin="miter"/>
<path d="M496.0,720.3H506.5L501.2,729.8Z" fill="#fff" stroke="#222" stroke-width="1.1" stroke-linejoin="miter"/>
<path d="M478.5,722.6H489.0L483.8,732.1Z" fill="#fff" stroke="#222" stroke-width="1.1" stroke-linejoin="miter"/>
<path d="M468.7,726.3H479.2L473.9,735.8Z" fill="#fff" stroke="#222" stroke-width="1.1" stroke-linejoin="miter"/>
<path d="M488.2,732.5H498.7L493.4,742.0Z" fill="#fff" stroke="#222" stroke-width="1.1" stroke-linejoin="miter"/>
<path d="M467.3,732.6H477.8L472.6,742.1Z" fill="#fff" stroke="#222" stroke-width="1.1" stroke-linejoin="miter"/>
<path d="M495.6,733.5H506.1L500.9,743.0Z" fill="#fff" stroke="#222" stroke-width="1.1" stroke-linejoin="miter"/>
<path d="M478.5,735.2H489.0L483.8,744.7Z" fill="#fff" stroke="#222" stroke-width="1.1" stroke-linejoin="miter"/>
<path d="M458.0,736.7H468.5L463.2,746.2Z" fill="#fff" stroke="#222" stroke-width="1.1" stroke-linejoin="miter"/>
<path d="M466.9,739.8H477.4L472.1,749.3Z" fill="#fff" stroke="#222" stroke-width="1.1" stroke-linejoin="miter"/>
<path d="M476.8,740.4H487.3L482.1,749.9Z" fill="#fff" stroke="#222" stroke-width="1.1" stroke-linejoin="miter"/>
<path d="M496.0,743.8H506.5L501.3,753.3Z" fill="#fff" stroke="#222" stroke-width="1.1" stroke-linejoin="miter"/>
<path d="M487.1,745.5H497.6L492.3,755.0Z" fill="#fff" stroke="#222" stroke-width="1.1" stroke-linejoin="miter"/>
<path d="M478.0,748.3H488.5L483.3,757.8Z" fill="#fff" stroke="#222" stroke-width="1.1" stroke-linejoin="miter"/>
<path d="M495.1,749.8H505.6L500.3,759.3Z" fill="#fff" stroke="#222" stroke-width="1.1" stroke-linejoin="miter"/>
<path d="M459.3,750.8H469.8L464.5,760.3Z" fill="#fff" stroke="#222" stroke-width="1.1" stroke-linejoin="miter"/>
<path d="M476.7,753.4H487.2L482.0,762.9Z" fill="#fff" stroke="#222" stroke-width="1.1" stroke-linejoin="miter"/>
<path d="M468.1,753.5H478.6L473.4,763.0Z" fill="#fff" stroke="#222" stroke-width="1.1" stroke-linejoin="miter"/>
<path d="M488.0,755.0H498.5L493.2,764.5Z" fill="#fff" stroke="#222" stroke-width="1.1" stroke-linejoin="miter"/>
<path d="M458.9,755.9H469.4L464.1,765.4Z" fill="#fff" stroke="#222" stroke-width="1.1" stroke-linejoin="miter"/>
<path d="M477.4,760.0H487.9L482.6,769.5Z" fill="#fff" stroke="#222" stroke-width="1.1" stroke-linejoin="miter"/>
<path d="M467.5,761.5H478.0L472.8,771.0Z" fill="#fff" stroke="#222" stroke-width="1.1" stroke-linejoin="miter"/>
<path d="M487.0,761.9H497.5L492.2,771.4Z" fill="#fff" stroke="#222" stroke-width="1.1" stroke-linejoin="miter"/>
<path d="M496.9,762.7H507.4L502.1,772.2Z" fill="#fff" stroke="#222" stroke-width="1.1" stroke-linejoin="miter"/>
<path d="M454.1,763.3H464.6L459.4,772.8Z" fill="#fff" stroke="#222" stroke-width="1.1" stroke-linejoin="miter"/>
<path d="M478.4,765.9H488.9L483.6,775.4Z" fill="#fff" stroke="#222" stroke-width="1.1" stroke-linejoin="miter"/>
<path d="M458.1,766.0H468.6L463.4,775.5Z" fill="#fff" stroke="#222" stroke-width="1.1" stroke-linejoin="miter"/>
<path d="M497.8,768.1H508.3L503.1,777.6Z" fill="#fff" stroke="#222" stroke-width="1.1" stroke-linejoin="miter"/>
<path d="M467.9,768.9H478.4L473.1,778.4Z" fill="#fff" stroke="#222" stroke-width="1.1" stroke-linejoin="miter"/>
<path d="M453.1,770.4H463.6L458.4,779.9Z" fill="#fff" stroke="#222" stroke-width="1.1" stroke-linejoin="miter"/>
<path d="M487.3,771.1H497.8L492.6,780.6Z" fill="#fff" stroke="#222" stroke-width="1.1" stroke-linejoin="miter"/>
<path d="M496.7,773.2H507.2L502.0,782.7Z" fill="#fff" stroke="#222" stroke-width="1.1" stroke-linejoin="miter"/>
<path d="M478.4,775.5H488.9L483.6,785.0Z" fill="#fff" stroke="#222" stroke-width="1.1" stroke-linejoin="miter"/>
<path d="M467.0,775.7H477.5L472.3,785.2Z" fill="#fff" stroke="#222" stroke-width="1.1" stroke-linejoin="miter"/>
<path d="M487.2,780.8H497.7L492.5,790.3Z" fill="#fff" stroke="#222" stroke-width="1.1" stroke-linejoin="miter"/>
<path d="M468.3,781.1H478.8L473.5,790.6Z" fill="#fff" stroke="#222" stroke-width="1.1" stroke-linejoin="miter"/>
<path d="M476.5,781.3H487.0L481.8,790.8Z" fill="#fff" stroke="#222" stroke-width="1.1" stroke-linejoin="miter"/>
<path d="M496.5,782.1H507.0L501.7,791.6Z" fill="#fff" stroke="#222" stroke-width="1.1" stroke-linejoin="miter"/>
<path d="M457.9,785.7H468.4L463.1,795.2Z" fill="#fff" stroke="#222" stroke-width="1.1" stroke-linejoin="miter"/>
<path d="M486.1,787.0H496.6L491.3,796.5Z" fill="#fff" stroke="#222" stroke-width="1.1" stroke-linejoin="miter"/>
<path d="M495.4,787.1H505.9L500.6,796.6Z" fill="#fff" stroke="#222" stroke-width="1.1" stroke-linejoin="miter"/>
<path d="M468.6,790.1H479.1L473.9,799.6Z" fill="#fff" stroke="#222" stroke-width="1.1" stroke-linejoin="miter"/>
<path d="M478.0,790.2H488.5L483.3,799.7Z" fill="#fff" stroke="#222" stroke-width="1.1" stroke-linejoin="miter"/>
<path d="M476.8,796.3H487.3L482.0,805.8Z" fill="#fff" stroke="#222" stroke-width="1.1" stroke-linejoin="miter"/>
<path d="M487.3,803.7H497.8L492.6,813.2Z" fill="#fff" stroke="#222" stroke-width="1.1" stroke-linejoin="miter"/>
<path d="M477.1,805.4H487.6L482.4,814.9Z" fill="#fff" stroke="#222" stroke-width="1.1" stroke-linejoin="miter"/>
<path d="M487.8,809.0H498.3L493.0,818.5Z" fill="#fff" stroke="#222" stroke-width="1.1" stroke-linejoin="miter"/>
<path d="M469.2,809.4H479.7L474.4,818.9Z" fill="#fff" stroke="#222" stroke-width="1.1" stroke-linejoin="miter"/>
<path d="M476.7,815.0H487.2L482.0,824.5Z" fill="#fff" stroke="#222" stroke-width="1.1" stroke-linejoin="miter"/>
<path d="M485.8,817.2H496.3L491.1,826.7Z" fill="#fff" stroke="#222" stroke-width="1.1" stroke-linejoin="miter"/>
<path d="M468.3,828.4H478.8L473.5,837.9Z" fill="#fff" stroke="#222" stroke-width="1.1" stroke-linejoin="miter"/>
<path d="M487.2,829.2H497.7L492.5,838.7Z" fill="#fff" stroke="#222" stroke-width="1.1" stroke-linejoin="miter"/>
<path d="M477.9,832.4H488.4L483.1,841.9Z" fill="#fff" stroke="#222" stroke-width="1.1" stroke-linejoin="miter"/>
<path d="M478.7,845.3H489.2L483.9,854.8Z" fill="#fff" stroke="#222" stroke-width="1.1" stroke-linejoin="miter"/>
<path d="M487.1,846.1H497.6L492.4,855.6Z" fill="#fff" stroke="#222" stroke-width="1.1" stroke-linejoin="miter"/>
<path d="M468.4,849.7H478.9L473.7,859.2Z" fill="#fff" stroke="#222" stroke-width="1.1" stroke-linejoin="miter"/>
<path d="M476.6,851.9H487.1L481.8,861.4Z" fill="#fff" stroke="#222" stroke-width="1.1" stroke-linejoin="miter"/>
<path d="M468.7,863.2H479.2L473.9,872.7Z" fill="#fff" stroke="#222" stroke-width="1.1" stroke-linejoin="miter"/>
<path d="M475.9,867.4H486.4L481.2,876.9Z" fill="#fff" stroke="#222" stroke-width="1.1" stroke-linejoin="miter"/>
<path d="M486.5,658.4H497.0L491.8,667.9Z" fill="#fff" stroke="#222" stroke-width="1.1" stroke-linejoin="miter"/>
<rect x="453.6" y="734.8" width="58.0" height="59.5" fill="none" stroke="#2a2a2a" stroke-width="2.7"/>
<line x1="482.6" y1="663.1" x2="482.6" y2="734.8" stroke="#222" stroke-width="3.4" />
<line x1="482.6" y1="794.3" x2="482.6" y2="887.8" stroke="#222" stroke-width="3.4" />
<line x1="467.1" y1="663.1" x2="498.1" y2="663.1" stroke="#000" stroke-width="6" />
<line x1="467.1" y1="887.8" x2="498.1" y2="887.8" stroke="#000" stroke-width="6" />
<line x1="433.6" y1="766.5" x2="531.6" y2="766.5" stroke="#000" stroke-width="7.4" />
<rect x="549.0" y="704.5" width="58.0" height="50.8" fill="#ff0000" stroke="none" stroke-width="0"/>
<path d="M571.8,845.5H581.4L576.6,854.5Z" fill="#000" stroke="#fff" stroke-width="0.6"/>
<path d="M572.1,627.1H581.7L576.9,636.1Z" fill="#000" stroke="#fff" stroke-width="0.6"/>
<path d="M572.4,637.6H582.0L577.2,646.6Z" fill="#000" stroke="#fff" stroke-width="0.6"/>
<path d="M574.2,642.8H583.8L579.0,651.8Z" fill="#000" stroke="#fff" stroke-width="0.6"/>
<path d="M582.2,646.3H591.8L587.0,655.3Z" fill="#000" stroke="#fff" stroke-width="0.6"/>
<path d="M591.3,647.0H600.9L596.1,656.0Z" fill="#000" stroke="#fff" stroke-width="0.6"/>
<path d="M565.4,648.1H575.0L570.2,657.1Z" fill="#000" stroke="#fff" stroke-width="0.6"/>
<path d="M574.0,649.2H583.6L578.8,658.2Z" fill="#000" stroke="#fff" stroke-width="0.6"/>
<path d="M582.3,657.9H591.9L587.1,666.9Z" fill="#000" stroke="#fff" stroke-width="0.6"/>
<path d="M572.5,659.0H582.1L577.3,668.0Z" fill="#000" stroke="#fff" stroke-width="0.6"/>
<path d="M555.9,660.4H565.5L560.7,669.4Z" fill="#000" stroke="#fff" stroke-width="0.6"/>
<path d="M563.7,661.1H573.3L568.5,670.1Z" fill="#000" stroke="#fff" stroke-width="0.6"/>
<path d="M572.3,667.7H581.9L577.1,676.7Z" fill="#000" stroke="#fff" stroke-width="0.6"/>
<path d="M564.5,671.1H574.1L569.3,680.1Z" fill="#000" stroke="#fff" stroke-width="0.6"/>
<path d="M581.8,671.7H591.4L586.6,680.7Z" fill="#000" stroke="#fff" stroke-width="0.6"/>
<path d="M590.5,673.8H600.1L595.3,682.8Z" fill="#000" stroke="#fff" stroke-width="0.6"/>
<path d="M573.5,673.9H583.1L578.3,682.9Z" fill="#000" stroke="#fff" stroke-width="0.6"/>
<path d="M581.5,678.3H591.1L586.3,687.3Z" fill="#000" stroke="#fff" stroke-width="0.6"/>
<path d="M556.4,682.3H566.0L561.2,691.3Z" fill="#000" stroke="#fff" stroke-width="0.6"/>
<path d="M572.7,682.5H582.3L577.5,691.5Z" fill="#000" stroke="#fff" stroke-width="0.6"/>
<path d="M564.2,686.5H573.8L569.0,695.5Z" fill="#000" stroke="#fff" stroke-width="0.6"/>
<path d="M590.2,686.8H599.8L595.0,695.8Z" fill="#000" stroke="#fff" stroke-width="0.6"/>
<path d="M582.1,688.1H591.7L586.9,697.1Z" fill="#000" stroke="#fff" stroke-width="0.6"/>
<path d="M572.3,690.4H581.9L577.1,699.4Z" fill="#000" stroke="#fff" stroke-width="0.6"/>
<path d="M556.3,690.4H565.9L561.1,699.4Z" fill="#000" stroke="#fff" stroke-width="0.6"/>
<path d="M581.5,696.0H591.1L586.3,705.0Z" fill="#000" stroke="#fff" stroke-width="0.6"/>
<path d="M572.5,696.2H582.1L577.3,705.2Z" fill="#000" stroke="#fff" stroke-width="0.6"/>
<path d="M563.0,696.9H572.6L567.8,705.9Z" fill="#000" stroke="#fff" stroke-width="0.6"/>
<path d="M590.8,702.3H600.4L595.6,711.3Z" fill="#000" stroke="#fff" stroke-width="0.6"/>
<path d="M573.1,702.3H582.7L577.9,711.3Z" fill="#000" stroke="#fff" stroke-width="0.6"/>
<path d="M554.6,704.6H564.2L559.4,713.6Z" fill="#000" stroke="#fff" stroke-width="0.6"/>
<path d="M546.2,704.8H555.8L551.0,713.8Z" fill="#000" stroke="#fff" stroke-width="0.6"/>
<path d="M564.8,705.1H574.4L569.6,714.1Z" fill="#000" stroke="#fff" stroke-width="0.6"/>
<path d="M582.4,706.6H592.0L587.2,715.6Z" fill="#000" stroke="#fff" stroke-width="0.6"/>
<path d="M574.6,708.7H584.2L579.4,717.7Z" fill="#000" stroke="#fff" stroke-width="0.6"/>
<path d="M564.7,712.2H574.3L569.5,721.2Z" fill="#000" stroke="#fff" stroke-width="0.6"/>
<path d="M553.9,712.5H563.5L558.7,721.5Z" fill="#000" stroke="#fff" stroke-width="0.6"/>
<path d="M599.8,714.5H609.4L604.6,723.5Z" fill="#000" stroke="#fff" stroke-width="0.6"/>
<path d="M580.8,715.2H590.4L585.6,724.2Z" fill="#000" stroke="#fff" stroke-width="0.6"/>
<path d="M574.5,716.6H584.1L579.3,725.6Z" fill="#000" stroke="#fff" stroke-width="0.6"/>
<path d="M591.7,716.7H601.3L596.5,725.7Z" fill="#000" stroke="#fff" stroke-width="0.6"/>
<path d="M563.3,717.2H572.9L568.1,726.2Z" fill="#000" stroke="#fff" stroke-width="0.6"/>
<path d="M581.4,720.3H591.0L586.2,729.3Z" fill="#000" stroke="#fff" stroke-width="0.6"/>
<path d="M599.3,721.5H608.9L604.1,730.5Z" fill="#000" stroke="#fff" stroke-width="0.6"/>
<path d="M590.9,722.1H600.5L595.7,731.1Z" fill="#000" stroke="#fff" stroke-width="0.6"/>
<path d="M554.1,723.1H563.7L558.9,732.1Z" fill="#000" stroke="#fff" stroke-width="0.6"/>
<path d="M563.2,723.8H572.8L568.0,732.8Z" fill="#000" stroke="#fff" stroke-width="0.6"/>
<path d="M573.6,725.5H583.2L578.4,734.5Z" fill="#000" stroke="#fff" stroke-width="0.6"/>
<path d="M583.5,725.8H593.1L588.3,734.8Z" fill="#000" stroke="#fff" stroke-width="0.6"/>
<path d="M592.3,727.9H601.9L597.1,736.9Z" fill="#000" stroke="#fff" stroke-width="0.6"/>
<path d="M564.4,729.2H574.0L569.2,738.2Z" fill="#000" stroke="#fff" stroke-width="0.6"/>
<path d="M553.9,729.3H563.5L558.7,738.3Z" fill="#000" stroke="#fff" stroke-width="0.6"/>
<path d="M598.9,731.8H608.5L603.7,740.8Z" fill="#000" stroke="#fff" stroke-width="0.6"/>
<path d="M582.0,732.2H591.6L586.8,741.2Z" fill="#000" stroke="#fff" stroke-width="0.6"/>
<path d="M545.9,732.4H555.5L550.7,741.4Z" fill="#000" stroke="#fff" stroke-width="0.6"/>
<path d="M589.8,733.7H599.4L594.6,742.7Z" fill="#000" stroke="#fff" stroke-width="0.6"/>
<path d="M555.1,734.6H564.7L559.9,743.6Z" fill="#000" stroke="#fff" stroke-width="0.6"/>
<path d="M574.2,735.0H583.8L579.0,744.0Z" fill="#000" stroke="#fff" stroke-width="0.6"/>
<path d="M601.0,735.4H610.6L605.8,744.4Z" fill="#000" stroke="#fff" stroke-width="0.6"/>
<path d="M564.3,736.4H573.9L569.1,745.4Z" fill="#000" stroke="#fff" stroke-width="0.6"/>
<path d="M583.6,736.4H593.2L588.4,745.4Z" fill="#000" stroke="#fff" stroke-width="0.6"/>
<path d="M599.3,737.8H608.9L604.1,746.8Z" fill="#000" stroke="#fff" stroke-width="0.6"/>
<path d="M565.1,738.0H574.7L569.9,747.0Z" fill="#000" stroke="#fff" stroke-width="0.6"/>
<path d="M546.4,738.6H556.0L551.2,747.6Z" fill="#000" stroke="#fff" stroke-width="0.6"/>
<path d="M591.6,739.3H601.2L596.4,748.3Z" fill="#000" stroke="#fff" stroke-width="0.6"/>
<path d="M554.4,740.2H564.0L559.2,749.2Z" fill="#000" stroke="#fff" stroke-width="0.6"/>
<path d="M572.6,740.3H582.2L577.4,749.3Z" fill="#000" stroke="#fff" stroke-width="0.6"/>
<path d="M582.1,740.6H591.7L586.9,749.6Z" fill="#000" stroke="#fff" stroke-width="0.6"/>
<path d="M591.0,741.6H600.6L595.8,750.6Z" fill="#000" stroke="#fff" stroke-width="0.6"/>
<path d="M555.2,742.0H564.8L560.0,751.0Z" fill="#000" stroke="#fff" stroke-width="0.6"/>
<path d="M601.0,742.0H610.6L605.8,751.0Z" fill="#000" stroke="#fff" stroke-width="0.6"/>
<path d="M564.7,742.6H574.3L569.5,751.6Z" fill="#000" stroke="#fff" stroke-width="0.6"/>
<path d="M582.7,743.8H592.3L587.5,752.8Z" fill="#000" stroke="#fff" stroke-width="0.6"/>
<path d="M545.2,743.8H554.8L550.0,752.8Z" fill="#000" stroke="#fff" stroke-width="0.6"/>
<path d="M590.0,745.6H599.6L594.8,754.6Z" fill="#000" stroke="#fff" stroke-width="0.6"/>
<path d="M556.5,745.8H566.1L561.3,754.8Z" fill="#000" stroke="#fff" stroke-width="0.6"/>
<path d="M572.8,745.8H582.4L577.6,754.8Z" fill="#000" stroke="#fff" stroke-width="0.6"/>
<path d="M600.0,746.4H609.6L604.8,755.4Z" fill="#000" stroke="#fff" stroke-width="0.6"/>
<path d="M563.5,748.7H573.1L568.3,757.7Z" fill="#000" stroke="#fff" stroke-width="0.6"/>
<path d="M547.5,748.8H557.1L552.3,757.8Z" fill="#000" stroke="#fff" stroke-width="0.6"/>
<path d="M590.3,750.0H599.9L595.1,759.0Z" fill="#000" stroke="#fff" stroke-width="0.6"/>
<path d="M581.2,750.1H590.8L586.0,759.1Z" fill="#000" stroke="#fff" stroke-width="0.6"/>
<path d="M554.8,750.4H564.4L559.6,759.4Z" fill="#000" stroke="#fff" stroke-width="0.6"/>
<path d="M573.5,752.5H583.1L578.3,761.5Z" fill="#000" stroke="#fff" stroke-width="0.6"/>
<path d="M583.2,755.4H592.8L588.0,764.4Z" fill="#000" stroke="#fff" stroke-width="0.6"/>
<path d="M565.3,758.0H574.9L570.1,767.0Z" fill="#000" stroke="#fff" stroke-width="0.6"/>
<path d="M574.7,758.8H584.3L579.5,767.8Z" fill="#000" stroke="#fff" stroke-width="0.6"/>
<path d="M583.0,761.5H592.6L587.8,770.5Z" fill="#000" stroke="#fff" stroke-width="0.6"/>
<path d="M574.1,764.8H583.7L578.9,773.8Z" fill="#000" stroke="#fff" stroke-width="0.6"/>
<path d="M563.9,769.8H573.5L568.7,778.8Z" fill="#000" stroke="#fff" stroke-width="0.6"/>
<path d="M583.6,771.1H593.2L588.4,780.1Z" fill="#000" stroke="#fff" stroke-width="0.6"/>
<path d="M573.4,773.3H583.0L578.2,782.3Z" fill="#000" stroke="#fff" stroke-width="0.6"/>
<path d="M592.1,773.7H601.7L596.9,782.7Z" fill="#000" stroke="#fff" stroke-width="0.6"/>
<path d="M563.8,776.2H573.4L568.6,785.2Z" fill="#000" stroke="#fff" stroke-width="0.6"/>
<path d="M581.3,778.0H590.9L586.1,787.0Z" fill="#000" stroke="#fff" stroke-width="0.6"/>
<path d="M573.6,786.6H583.2L578.4,795.6Z" fill="#000" stroke="#fff" stroke-width="0.6"/>
<path d="M563.0,790.3H572.6L567.8,799.3Z" fill="#000" stroke="#fff" stroke-width="0.6"/>
<path d="M573.5,792.7H583.1L578.3,801.7Z" fill="#000" stroke="#fff" stroke-width="0.6"/>
<path d="M583.1,794.7H592.7L587.9,803.7Z" fill="#000" stroke="#fff" stroke-width="0.6"/>
<path d="M564.9,795.3H574.5L569.7,804.3Z" fill="#000" stroke="#fff" stroke-width="0.6"/>
<path d="M573.8,799.4H583.4L578.6,808.4Z" fill="#000" stroke="#fff" stroke-width="0.6"/>
<path d="M563.2,801.4H572.8L568.0,810.4Z" fill="#000" stroke="#fff" stroke-width="0.6"/>
<path d="M582.3,802.2H591.9L587.1,811.2Z" fill="#000" stroke="#fff" stroke-width="0.6"/>
<path d="M556.5,804.3H566.1L561.3,813.3Z" fill="#000" stroke="#fff" stroke-width="0.6"/>
<path d="M572.2,813.5H581.8L577.0,822.5Z" fill="#000" stroke="#fff" stroke-width="0.6"/>
<path d="M565.3,822.3H574.9L570.1,831.3Z" fill="#000" stroke="#fff" stroke-width="0.6"/>
<path d="M572.4,826.3H582.0L577.2,835.3Z" fill="#000" stroke="#fff" stroke-width="0.6"/>
<path d="M581.9,828.0H591.5L586.7,837.0Z" fill="#000" stroke="#fff" stroke-width="0.6"/>
<path d="M564.8,845.5H574.4L569.6,854.5Z" fill="#000" stroke="#fff" stroke-width="0.6"/>
<path d="M572.6,615.6H582.2L577.4,624.6Z" fill="#000" stroke="#fff" stroke-width="0.6"/>
<rect x="549.0" y="704.5" width="58.0" height="50.8" fill="none" stroke="#2a2a2a" stroke-width="2.7"/>
<line x1="578.0" y1="620.1" x2="578.0" y2="704.5" stroke="#222" stroke-width="3.4" />
<line x1="578.0" y1="755.3" x2="578.0" y2="850.0" stroke="#222" stroke-width="3.4" />
<line x1="562.5" y1="620.1" x2="593.5" y2="620.1" stroke="#000" stroke-width="6" />
<line x1="562.5" y1="850.0" x2="593.5" y2="850.0" stroke="#000" stroke-width="6" />
<line x1="529.0" y1="738.0" x2="627.0" y2="738.0" stroke="#000" stroke-width="7.4" />
<g transform="translate(200.73,922.00) scale(1,1.05)"><text font-size="23.8" font-weight="bold" fill="#8e1616" >7 / 2</text><path transform="translate(13.24,0) scale(0.01162,-0.01162)" d="M478 0V1170L140 959V1180L493 1409H759V0Z" fill="#8e1616"/><path transform="translate(33.09,0) scale(0.01162,-0.01162)" d="M478 0V1170L140 959V1180L493 1409H759V0Z" fill="#8e1616"/></g>
<g transform="translate(288.15,960.00) scale(1,1.05)"><text font-size="23.8" font-weight="bold" fill="#8e1616" > 05/ <tspan dx="-1.313"> </tspan></text><path transform="translate(0.00,0) scale(0.01162,-0.01162)" d="M478 0V1170L140 959V1180L493 1409H759V0Z" fill="#8e1616"/><path transform="translate(46.32,0) scale(0.01162,-0.01162)" d="M478 0V1170L140 959V1180L493 1409H759V0Z" fill="#8e1616"/><path transform="translate(58.24,0) scale(0.01162,-0.01162)" d="M478 0V1170L140 959V1180L493 1409H759V0Z" fill="#8e1616"/></g>
<g transform="translate(457.03,922.30) scale(1,1.05)"><text font-size="23.8" font-weight="bold" fill="#8e1616" >75/ <tspan dx="-1.313"> </tspan></text><path transform="translate(33.09,0) scale(0.01162,-0.01162)" d="M478 0V1170L140 959V1180L493 1409H759V0Z" fill="#8e1616"/><path transform="translate(45.01,0) scale(0.01162,-0.01162)" d="M478 0V1170L140 959V1180L493 1409H759V0Z" fill="#8e1616"/></g>
<g transform="translate(543.35,886.00) scale(1,1.05)"><text font-size="23.8" font-weight="bold" fill="#8e1616" > <tspan dx="-1.313"> </tspan>0/ <tspan dx="-1.313"> </tspan></text><path transform="translate(0.00,0) scale(0.01162,-0.01162)" d="M478 0V1170L140 959V1180L493 1409H759V0Z" fill="#8e1616"/><path transform="translate(11.92,0) scale(0.01162,-0.01162)" d="M478 0V1170L140 959V1180L493 1409H759V0Z" fill="#8e1616"/><path transform="translate(45.01,0) scale(0.01162,-0.01162)" d="M478 0V1170L140 959V1180L493 1409H759V0Z" fill="#8e1616"/><path transform="translate(56.93,0) scale(0.01162,-0.01162)" d="M478 0V1170L140 959V1180L493 1409H759V0Z" fill="#8e1616"/></g>
<g transform="translate(393.52,563.00) scale(1,1.05)"><text font-size="24.3" font-weight="bold" fill="#9a9a9a" >p=0.0038</text></g>
<line x1="322.0" y1="572.3" x2="579.0" y2="572.3" stroke="#8a8a8a" stroke-width="2.4" />
<g transform="translate(477.72,599.40) scale(1,1.05)"><text font-size="24.3" font-weight="bold" fill="#262626" >p=0.0482</text></g>
<line x1="481.2" y1="607.6" x2="576.8" y2="607.6" stroke="#111" stroke-width="3" />
<line x1="839.0" y1="553.1" x2="839.0" y2="1033.6" stroke="#000" stroke-width="3.6" />
<line x1="819.5" y1="1031.6" x2="1317.8" y2="1031.6" stroke="#000" stroke-width="4.4" />
<line x1="819.5" y1="555.1" x2="839.0" y2="555.1" stroke="#000" stroke-width="4.2" />
<g transform="translate(772.28,568.90) scale(1,1.05)"><text font-size="36" font-weight="bold" fill="#000" >20</text></g>
<line x1="819.5" y1="673.8" x2="839.0" y2="673.8" stroke="#000" stroke-width="4.2" />
<g transform="translate(771.24,689.20) scale(1,1.05)"><text font-size="36" font-weight="bold" fill="#000" > 5</text><path transform="translate(0.00,0) scale(0.01758,-0.01758)" d="M478 0V1170L140 959V1180L493 1409H759V0Z" fill="#000"/></g>
<line x1="819.5" y1="793.2" x2="839.0" y2="793.2" stroke="#000" stroke-width="4.2" />
<g transform="translate(771.78,806.80) scale(1,1.05)"><text font-size="36" font-weight="bold" fill="#000" > 0</text><path transform="translate(0.00,0) scale(0.01758,-0.01758)" d="M478 0V1170L140 959V1180L493 1409H759V0Z" fill="#000"/></g>
<line x1="819.5" y1="912.4" x2="839.0" y2="912.4" stroke="#000" stroke-width="4.2" />
<g transform="translate(790.42,925.50) scale(1,1.05)"><text font-size="36" font-weight="bold" fill="#000" >5</text></g>
<line x1="819.5" y1="1031.6" x2="839.0" y2="1031.6" stroke="#000" stroke-width="4.2" />
<g transform="translate(791.66,1042.50) scale(1,1.05)"><text font-size="36" font-weight="bold" fill="#000" >0</text></g>
<line x1="902.7" y1="1031.6" x2="902.7" y2="1051.6" stroke="#000" stroke-width="4.6" />
<g transform="translate(887.27,1088.30) scale(1,1.05)"><text font-size="42" font-weight="bold" fill="#262626" >C</text></g>
<line x1="997.4" y1="1031.6" x2="997.4" y2="1051.6" stroke="#000" stroke-width="4.6" />
<g transform="translate(969.68,1088.30) scale(1,1.05)"><text font-size="42" font-weight="bold" fill="#262626" >AF</text></g>
<line x1="1155.8" y1="1031.6" x2="1155.8" y2="1051.6" stroke="#000" stroke-width="4.6" />
<g transform="translate(1140.37,1088.30) scale(1,1.05)"><text font-size="42" font-weight="bold" fill="#262626" >C</text></g>
<line x1="1251.5" y1="1031.6" x2="1251.5" y2="1051.6" stroke="#000" stroke-width="4.6" />
<g transform="translate(1223.78,1088.30) scale(1,1.05)"><text font-size="42" font-weight="bold" fill="#262626" >AF</text></g>
<g transform="translate(919.45,526.20) scale(1,1.05)"><text font-size="48.5" font-weight="bold" fill="#262626" >LA</text></g>
<g transform="translate(1168.85,525.80) scale(1,1.05)"><text font-size="48.5" font-weight="bold" fill="#262626" >RA</text></g>
<g transform="translate(742.60,869.53) rotate(-90) scale(1,1.05)"><text font-size="42" font-weight="bold" fill="#262626">FS  (%)</text></g>
<rect x="873.7" y="762.4" width="58.0" height="110.2" fill="#e3e3e3" stroke="none" stroke-width="0"/>
<rect x="898.8" y="977.5" width="9.5" height="9.5" rx="0.8" fill="#fff" stroke="#2a2a2a" stroke-width="1.1"/>
<rect x="897.6" y="607.3" width="9.5" height="9.5" rx="0.8" fill="#fff" stroke="#2a2a2a" stroke-width="1.1"/>
<rect x="896.6" y="637.6" width="9.5" height="9.5" rx="0.8" fill="#fff" stroke="#2a2a2a" stroke-width="1.1"/>
<rect x="889.6" y="653.0" width="9.5" height="9.5" rx="0.8" fill="#fff" stroke="#2a2a2a" stroke-width="1.1"/>
<rect x="897.1" y="657.0" width="9.5" height="9.5" rx="0.8" fill="#fff" stroke="#2a2a2a" stroke-width="1.1"/>
<rect x="878.6" y="663.9" width="9.5" height="9.5" rx="0.8" fill="#fff" stroke="#2a2a2a" stroke-width="1.1"/>
<rect x="898.5" y="670.0" width="9.5" height="9.5" rx="0.8" fill="#fff" stroke="#2a2a2a" stroke-width="1.1"/>
<rect x="906.7" y="672.4" width="9.5" height="9.5" rx="0.8" fill="#fff" stroke="#2a2a2a" stroke-width="1.1"/>
<rect x="897.3" y="686.0" width="9.5" height="9.5" rx="0.8" fill="#fff" stroke="#2a2a2a" stroke-width="1.1"/>
<rect x="906.3" y="696.7" width="9.5" height="9.5" rx="0.8" fill="#fff" stroke="#2a2a2a" stroke-width="1.1"/>
<rect x="896.9" y="698.3" width="9.5" height="9.5" rx="0.8" fill="#fff" stroke="#2a2a2a" stroke-width="1.1"/>
<rect x="889.6" y="707.4" width="9.5" height="9.5" rx="0.8" fill="#fff" stroke="#2a2a2a" stroke-width="1.1"/>
<rect x="898.5" y="721.8" width="9.5" height="9.5" rx="0.8" fill="#fff" stroke="#2a2a2a" stroke-width="1.1"/>
<rect x="889.4" y="729.1" width="9.5" height="9.5" rx="0.8" fill="#fff" stroke="#2a2a2a" stroke-width="1.1"/>
<rect x="898.9" y="736.2" width="9.5" height="9.5" rx="0.8" fill="#fff" stroke="#2a2a2a" stroke-width="1.1"/>
<rect x="906.7" y="741.6" width="9.5" height="9.5" rx="0.8" fill="#fff" stroke="#2a2a2a" stroke-width="1.1"/>
<rect x="899.3" y="752.6" width="9.5" height="9.5" rx="0.8" fill="#fff" stroke="#2a2a2a" stroke-width="1.1"/>
<rect x="887.5" y="756.2" width="9.5" height="9.5" rx="0.8" fill="#fff" stroke="#2a2a2a" stroke-width="1.1"/>
<rect x="879.0" y="756.3" width="9.5" height="9.5" rx="0.8" fill="#fff" stroke="#2a2a2a" stroke-width="1.1"/>
<rect x="907.4" y="765.3" width="9.5" height="9.5" rx="0.8" fill="#fff" stroke="#2a2a2a" stroke-width="1.1"/>
<rect x="887.6" y="768.2" width="9.5" height="9.5" rx="0.8" fill="#fff" stroke="#2a2a2a" stroke-width="1.1"/>
<rect x="879.3" y="768.2" width="9.5" height="9.5" rx="0.8" fill="#fff" stroke="#2a2a2a" stroke-width="1.1"/>
<rect x="898.7" y="775.0" width="9.5" height="9.5" rx="0.8" fill="#fff" stroke="#2a2a2a" stroke-width="1.1"/>
<rect x="906.9" y="777.4" width="9.5" height="9.5" rx="0.8" fill="#fff" stroke="#2a2a2a" stroke-width="1.1"/>
<rect x="879.7" y="780.7" width="9.5" height="9.5" rx="0.8" fill="#fff" stroke="#2a2a2a" stroke-width="1.1"/>
<rect x="888.7" y="785.6" width="9.5" height="9.5" rx="0.8" fill="#fff" stroke="#2a2a2a" stroke-width="1.1"/>
<rect x="898.7" y="787.8" width="9.5" height="9.5" rx="0.8" fill="#fff" stroke="#2a2a2a" stroke-width="1.1"/>
<rect x="872.1" y="790.4" width="9.5" height="9.5" rx="0.8" fill="#fff" stroke="#2a2a2a" stroke-width="1.1"/>
<rect x="907.5" y="791.5" width="9.5" height="9.5" rx="0.8" fill="#fff" stroke="#2a2a2a" stroke-width="1.1"/>
<rect x="881.3" y="792.6" width="9.5" height="9.5" rx="0.8" fill="#fff" stroke="#2a2a2a" stroke-width="1.1"/>
<rect x="916.2" y="794.8" width="9.5" height="9.5" rx="0.8" fill="#fff" stroke="#2a2a2a" stroke-width="1.1"/>
<rect x="925.8" y="794.8" width="9.5" height="9.5" rx="0.8" fill="#fff" stroke="#2a2a2a" stroke-width="1.1"/>
<rect x="888.0" y="799.7" width="9.5" height="9.5" rx="0.8" fill="#fff" stroke="#2a2a2a" stroke-width="1.1"/>
<rect x="897.3" y="800.4" width="9.5" height="9.5" rx="0.8" fill="#fff" stroke="#2a2a2a" stroke-width="1.1"/>
<rect x="879.8" y="807.7" width="9.5" height="9.5" rx="0.8" fill="#fff" stroke="#2a2a2a" stroke-width="1.1"/>
<rect x="915.1" y="808.8" width="9.5" height="9.5" rx="0.8" fill="#fff" stroke="#2a2a2a" stroke-width="1.1"/>
<rect x="906.8" y="810.9" width="9.5" height="9.5" rx="0.8" fill="#fff" stroke="#2a2a2a" stroke-width="1.1"/>
<rect x="924.6" y="811.7" width="9.5" height="9.5" rx="0.8" fill="#fff" stroke="#2a2a2a" stroke-width="1.1"/>
<rect x="889.3" y="817.7" width="9.5" height="9.5" rx="0.8" fill="#fff" stroke="#2a2a2a" stroke-width="1.1"/>
<rect x="871.5" y="819.7" width="9.5" height="9.5" rx="0.8" fill="#fff" stroke="#2a2a2a" stroke-width="1.1"/>
<rect x="897.3" y="819.9" width="9.5" height="9.5" rx="0.8" fill="#fff" stroke="#2a2a2a" stroke-width="1.1"/>
<rect x="879.2" y="830.0" width="9.5" height="9.5" rx="0.8" fill="#fff" stroke="#2a2a2a" stroke-width="1.1"/>
<rect x="907.7" y="830.1" width="9.5" height="9.5" rx="0.8" fill="#fff" stroke="#2a2a2a" stroke-width="1.1"/>
<rect x="888.3" y="833.2" width="9.5" height="9.5" rx="0.8" fill="#fff" stroke="#2a2a2a" stroke-width="1.1"/>
<rect x="880.6" y="841.8" width="9.5" height="9.5" rx="0.8" fill="#fff" stroke="#2a2a2a" stroke-width="1.1"/>
<rect x="905.5" y="842.3" width="9.5" height="9.5" rx="0.8" fill="#fff" stroke="#2a2a2a" stroke-width="1.1"/>
<rect x="899.4" y="843.9" width="9.5" height="9.5" rx="0.8" fill="#fff" stroke="#2a2a2a" stroke-width="1.1"/>
<rect x="916.2" y="847.3" width="9.5" height="9.5" rx="0.8" fill="#fff" stroke="#2a2a2a" stroke-width="1.1"/>
<rect x="888.2" y="850.7" width="9.5" height="9.5" rx="0.8" fill="#fff" stroke="#2a2a2a" stroke-width="1.1"/>
<rect x="880.9" y="854.6" width="9.5" height="9.5" rx="0.8" fill="#fff" stroke="#2a2a2a" stroke-width="1.1"/>
<rect x="897.8" y="856.6" width="9.5" height="9.5" rx="0.8" fill="#fff" stroke="#2a2a2a" stroke-width="1.1"/>
<rect x="906.8" y="857.6" width="9.5" height="9.5" rx="0.8" fill="#fff" stroke="#2a2a2a" stroke-width="1.1"/>
<rect x="888.2" y="867.5" width="9.5" height="9.5" rx="0.8" fill="#fff" stroke="#2a2a2a" stroke-width="1.1"/>
<rect x="880.3" y="872.8" width="9.5" height="9.5" rx="0.8" fill="#fff" stroke="#2a2a2a" stroke-width="1.1"/>
<rect x="907.1" y="877.1" width="9.5" height="9.5" rx="0.8" fill="#fff" stroke="#2a2a2a" stroke-width="1.1"/>
<rect x="916.1" y="880.2" width="9.5" height="9.5" rx="0.8" fill="#fff" stroke="#2a2a2a" stroke-width="1.1"/>
<rect x="897.9" y="882.1" width="9.5" height="9.5" rx="0.8" fill="#fff" stroke="#2a2a2a" stroke-width="1.1"/>
<rect x="888.1" y="891.0" width="9.5" height="9.5" rx="0.8" fill="#fff" stroke="#2a2a2a" stroke-width="1.1"/>
<rect x="879.6" y="892.6" width="9.5" height="9.5" rx="0.8" fill="#fff" stroke="#2a2a2a" stroke-width="1.1"/>
<rect x="916.8" y="896.0" width="9.5" height="9.5" rx="0.8" fill="#fff" stroke="#2a2a2a" stroke-width="1.1"/>
<rect x="906.9" y="902.7" width="9.5" height="9.5" rx="0.8" fill="#fff" stroke="#2a2a2a" stroke-width="1.1"/>
<rect x="889.0" y="904.7" width="9.5" height="9.5" rx="0.8" fill="#fff" stroke="#2a2a2a" stroke-width="1.1"/>
<rect x="899.4" y="905.3" width="9.5" height="9.5" rx="0.8" fill="#fff" stroke="#2a2a2a" stroke-width="1.1"/>
<rect x="898.4" y="918.1" width="9.5" height="9.5" rx="0.8" fill="#fff" stroke="#2a2a2a" stroke-width="1.1"/>
<rect x="905.9" y="921.6" width="9.5" height="9.5" rx="0.8" fill="#fff" stroke="#2a2a2a" stroke-width="1.1"/>
<rect x="888.1" y="930.6" width="9.5" height="9.5" rx="0.8" fill="#fff" stroke="#2a2a2a" stroke-width="1.1"/>
<rect x="898.1" y="931.5" width="9.5" height="9.5" rx="0.8" fill="#fff" stroke="#2a2a2a" stroke-width="1.1"/>
<rect x="906.1" y="933.1" width="9.5" height="9.5" rx="0.8" fill="#fff" stroke="#2a2a2a" stroke-width="1.1"/>
<rect x="896.7" y="943.0" width="9.5" height="9.5" rx="0.8" fill="#fff" stroke="#2a2a2a" stroke-width="1.1"/>
<rect x="907.6" y="952.5" width="9.5" height="9.5" rx="0.8" fill="#fff" stroke="#2a2a2a" stroke-width="1.1"/>
<rect x="898.3" y="581.2" width="9.5" height="9.5" rx="0.8" fill="#fff" stroke="#2a2a2a" stroke-width="1.1"/>
<rect x="873.7" y="762.4" width="58.0" height="110.2" fill="none" stroke="#2a2a2a" stroke-width="2.7"/>
<line x1="902.7" y1="586.0" x2="902.7" y2="762.4" stroke="#222" stroke-width="3.4" />
<line x1="902.7" y1="872.6" x2="902.7" y2="982.2" stroke="#222" stroke-width="3.4" />
<line x1="887.2" y1="586.0" x2="918.2" y2="586.0" stroke="#000" stroke-width="6" />
<line x1="887.2" y1="982.2" x2="918.2" y2="982.2" stroke="#000" stroke-width="6" />
<line x1="853.7" y1="813.8" x2="951.7" y2="813.8" stroke="#000" stroke-width="7.4" />
<rect x="968.4" y="784.9" width="58.0" height="136.0" fill="#ff0000" stroke="none" stroke-width="0"/>
<rect x="992.6" y="1002.5" width="9.0" height="9.0" fill="#000" stroke="#fff" stroke-width="0.7"/>
<rect x="992.8" y="691.3" width="9.0" height="9.0" fill="#000" stroke="#fff" stroke-width="0.7"/>
<rect x="1003.0" y="694.8" width="9.0" height="9.0" fill="#000" stroke="#fff" stroke-width="0.7"/>
<rect x="1010.9" y="701.4" width="9.0" height="9.0" fill="#000" stroke="#fff" stroke-width="0.7"/>
<rect x="984.1" y="708.7" width="9.0" height="9.0" fill="#000" stroke="#fff" stroke-width="0.7"/>
<rect x="991.5" y="715.7" width="9.0" height="9.0" fill="#000" stroke="#fff" stroke-width="0.7"/>
<rect x="1000.6" y="718.5" width="9.0" height="9.0" fill="#000" stroke="#fff" stroke-width="0.7"/>
<rect x="1010.0" y="719.8" width="9.0" height="9.0" fill="#000" stroke="#fff" stroke-width="0.7"/>
<rect x="984.3" y="728.8" width="9.0" height="9.0" fill="#000" stroke="#fff" stroke-width="0.7"/>
<rect x="1011.6" y="732.3" width="9.0" height="9.0" fill="#000" stroke="#fff" stroke-width="0.7"/>
<rect x="994.4" y="733.3" width="9.0" height="9.0" fill="#000" stroke="#fff" stroke-width="0.7"/>
<rect x="1000.7" y="735.2" width="9.0" height="9.0" fill="#000" stroke="#fff" stroke-width="0.7"/>
<rect x="973.6" y="738.7" width="9.0" height="9.0" fill="#000" stroke="#fff" stroke-width="0.7"/>
<rect x="982.5" y="742.7" width="9.0" height="9.0" fill="#000" stroke="#fff" stroke-width="0.7"/>
<rect x="1009.4" y="744.2" width="9.0" height="9.0" fill="#000" stroke="#fff" stroke-width="0.7"/>
<rect x="975.0" y="752.2" width="9.0" height="9.0" fill="#000" stroke="#fff" stroke-width="0.7"/>
<rect x="994.3" y="752.3" width="9.0" height="9.0" fill="#000" stroke="#fff" stroke-width="0.7"/>
<rect x="1000.5" y="752.6" width="9.0" height="9.0" fill="#000" stroke="#fff" stroke-width="0.7"/>
<rect x="965.9" y="757.8" width="9.0" height="9.0" fill="#000" stroke="#fff" stroke-width="0.7"/>
<rect x="985.2" y="760.5" width="9.0" height="9.0" fill="#000" stroke="#fff" stroke-width="0.7"/>
<rect x="1010.5" y="760.9" width="9.0" height="9.0" fill="#000" stroke="#fff" stroke-width="0.7"/>
<rect x="992.1" y="763.6" width="9.0" height="9.0" fill="#000" stroke="#fff" stroke-width="0.7"/>
<rect x="1000.8" y="769.0" width="9.0" height="9.0" fill="#000" stroke="#fff" stroke-width="0.7"/>
<rect x="974.9" y="770.0" width="9.0" height="9.0" fill="#000" stroke="#fff" stroke-width="0.7"/>
<rect x="1012.3" y="773.9" width="9.0" height="9.0" fill="#000" stroke="#fff" stroke-width="0.7"/>
<rect x="992.8" y="774.8" width="9.0" height="9.0" fill="#000" stroke="#fff" stroke-width="0.7"/>
<rect x="982.8" y="777.0" width="9.0" height="9.0" fill="#000" stroke="#fff" stroke-width="0.7"/>
<rect x="973.6" y="783.1" width="9.0" height="9.0" fill="#000" stroke="#fff" stroke-width="0.7"/>
<rect x="994.4" y="787.0" width="9.0" height="9.0" fill="#000" stroke="#fff" stroke-width="0.7"/>
<rect x="1002.5" y="791.8" width="9.0" height="9.0" fill="#000" stroke="#fff" stroke-width="0.7"/>
<rect x="983.0" y="792.0" width="9.0" height="9.0" fill="#000" stroke="#fff" stroke-width="0.7"/>
<rect x="974.6" y="797.9" width="9.0" height="9.0" fill="#000" stroke="#fff" stroke-width="0.7"/>
<rect x="993.5" y="798.8" width="9.0" height="9.0" fill="#000" stroke="#fff" stroke-width="0.7"/>
<rect x="983.9" y="804.3" width="9.0" height="9.0" fill="#000" stroke="#fff" stroke-width="0.7"/>
<rect x="1020.6" y="809.6" width="9.0" height="9.0" fill="#000" stroke="#fff" stroke-width="0.7"/>
<rect x="1001.3" y="810.2" width="9.0" height="9.0" fill="#000" stroke="#fff" stroke-width="0.7"/>
<rect x="993.8" y="813.2" width="9.0" height="9.0" fill="#000" stroke="#fff" stroke-width="0.7"/>
<rect x="974.8" y="816.6" width="9.0" height="9.0" fill="#000" stroke="#fff" stroke-width="0.7"/>
<rect x="983.2" y="816.8" width="9.0" height="9.0" fill="#000" stroke="#fff" stroke-width="0.7"/>
<rect x="1012.0" y="817.2" width="9.0" height="9.0" fill="#000" stroke="#fff" stroke-width="0.7"/>
<rect x="1018.5" y="824.8" width="9.0" height="9.0" fill="#000" stroke="#fff" stroke-width="0.7"/>
<rect x="964.4" y="826.6" width="9.0" height="9.0" fill="#000" stroke="#fff" stroke-width="0.7"/>
<rect x="982.9" y="830.1" width="9.0" height="9.0" fill="#000" stroke="#fff" stroke-width="0.7"/>
<rect x="1009.4" y="832.7" width="9.0" height="9.0" fill="#000" stroke="#fff" stroke-width="0.7"/>
<rect x="993.3" y="834.1" width="9.0" height="9.0" fill="#000" stroke="#fff" stroke-width="0.7"/>
<rect x="1002.6" y="835.5" width="9.0" height="9.0" fill="#000" stroke="#fff" stroke-width="0.7"/>
<rect x="1018.7" y="841.9" width="9.0" height="9.0" fill="#000" stroke="#fff" stroke-width="0.7"/>
<rect x="984.1" y="845.0" width="9.0" height="9.0" fill="#000" stroke="#fff" stroke-width="0.7"/>
<rect x="966.3" y="845.1" width="9.0" height="9.0" fill="#000" stroke="#fff" stroke-width="0.7"/>
<rect x="991.6" y="849.8" width="9.0" height="9.0" fill="#000" stroke="#fff" stroke-width="0.7"/>
<rect x="1011.1" y="851.3" width="9.0" height="9.0" fill="#000" stroke="#fff" stroke-width="0.7"/>
<rect x="975.9" y="851.5" width="9.0" height="9.0" fill="#000" stroke="#fff" stroke-width="0.7"/>
<rect x="967.1" y="856.9" width="9.0" height="9.0" fill="#000" stroke="#fff" stroke-width="0.7"/>
<rect x="1000.4" y="857.0" width="9.0" height="9.0" fill="#000" stroke="#fff" stroke-width="0.7"/>
<rect x="984.6" y="857.5" width="9.0" height="9.0" fill="#000" stroke="#fff" stroke-width="0.7"/>
<rect x="991.5" y="862.9" width="9.0" height="9.0" fill="#000" stroke="#fff" stroke-width="0.7"/>
<rect x="974.4" y="864.0" width="9.0" height="9.0" fill="#000" stroke="#fff" stroke-width="0.7"/>
<rect x="1019.0" y="866.9" width="9.0" height="9.0" fill="#000" stroke="#fff" stroke-width="0.7"/>
<rect x="1011.6" y="867.1" width="9.0" height="9.0" fill="#000" stroke="#fff" stroke-width="0.7"/>
<rect x="984.5" y="870.9" width="9.0" height="9.0" fill="#000" stroke="#fff" stroke-width="0.7"/>
<rect x="1002.9" y="871.2" width="9.0" height="9.0" fill="#000" stroke="#fff" stroke-width="0.7"/>
<rect x="965.2" y="874.5" width="9.0" height="9.0" fill="#000" stroke="#fff" stroke-width="0.7"/>
<rect x="1018.4" y="875.3" width="9.0" height="9.0" fill="#000" stroke="#fff" stroke-width="0.7"/>
<rect x="973.5" y="877.5" width="9.0" height="9.0" fill="#000" stroke="#fff" stroke-width="0.7"/>
<rect x="1002.6" y="880.1" width="9.0" height="9.0" fill="#000" stroke="#fff" stroke-width="0.7"/>
<rect x="982.8" y="882.9" width="9.0" height="9.0" fill="#000" stroke="#fff" stroke-width="0.7"/>
<rect x="993.7" y="883.3" width="9.0" height="9.0" fill="#000" stroke="#fff" stroke-width="0.7"/>
<rect x="1011.8" y="885.0" width="9.0" height="9.0" fill="#000" stroke="#fff" stroke-width="0.7"/>
<rect x="1002.3" y="891.4" width="9.0" height="9.0" fill="#000" stroke="#fff" stroke-width="0.7"/>
<rect x="975.0" y="891.6" width="9.0" height="9.0" fill="#000" stroke="#fff" stroke-width="0.7"/>
<rect x="983.4" y="896.7" width="9.0" height="9.0" fill="#000" stroke="#fff" stroke-width="0.7"/>
<rect x="1011.4" y="897.0" width="9.0" height="9.0" fill="#000" stroke="#fff" stroke-width="0.7"/>
<rect x="994.1" y="897.4" width="9.0" height="9.0" fill="#000" stroke="#fff" stroke-width="0.7"/>
<rect x="974.2" y="904.1" width="9.0" height="9.0" fill="#000" stroke="#fff" stroke-width="0.7"/>
<rect x="1002.9" y="904.2" width="9.0" height="9.0" fill="#000" stroke="#fff" stroke-width="0.7"/>
<rect x="984.9" y="910.1" width="9.0" height="9.0" fill="#000" stroke="#fff" stroke-width="0.7"/>
<rect x="993.8" y="913.2" width="9.0" height="9.0" fill="#000" stroke="#fff" stroke-width="0.7"/>
<rect x="966.1" y="913.4" width="9.0" height="9.0" fill="#000" stroke="#fff" stroke-width="0.7"/>
<rect x="1011.6" y="913.6" width="9.0" height="9.0" fill="#000" stroke="#fff" stroke-width="0.7"/>
<rect x="974.6" y="916.0" width="9.0" height="9.0" fill="#000" stroke="#fff" stroke-width="0.7"/>
<rect x="1003.4" y="922.8" width="9.0" height="9.0" fill="#000" stroke="#fff" stroke-width="0.7"/>
<rect x="1020.4" y="923.4" width="9.0" height="9.0" fill="#000" stroke="#fff" stroke-width="0.7"/>
<rect x="1011.8" y="924.1" width="9.0" height="9.0" fill="#000" stroke="#fff" stroke-width="0.7"/>
<rect x="992.7" y="926.3" width="9.0" height="9.0" fill="#000" stroke="#fff" stroke-width="0.7"/>
<rect x="975.5" y="927.9" width="9.0" height="9.0" fill="#000" stroke="#fff" stroke-width="0.7"/>
<rect x="982.9" y="932.7" width="9.0" height="9.0" fill="#000" stroke="#fff" stroke-width="0.7"/>
<rect x="965.6" y="934.3" width="9.0" height="9.0" fill="#000" stroke="#fff" stroke-width="0.7"/>
<rect x="1000.4" y="937.1" width="9.0" height="9.0" fill="#000" stroke="#fff" stroke-width="0.7"/>
<rect x="973.6" y="941.2" width="9.0" height="9.0" fill="#000" stroke="#fff" stroke-width="0.7"/>
<rect x="992.8" y="942.3" width="9.0" height="9.0" fill="#000" stroke="#fff" stroke-width="0.7"/>
<rect x="1012.1" y="944.8" width="9.0" height="9.0" fill="#000" stroke="#fff" stroke-width="0.7"/>
<rect x="983.9" y="948.4" width="9.0" height="9.0" fill="#000" stroke="#fff" stroke-width="0.7"/>
<rect x="1019.3" y="948.6" width="9.0" height="9.0" fill="#000" stroke="#fff" stroke-width="0.7"/>
<rect x="1002.0" y="950.7" width="9.0" height="9.0" fill="#000" stroke="#fff" stroke-width="0.7"/>
<rect x="1009.8" y="956.5" width="9.0" height="9.0" fill="#000" stroke="#fff" stroke-width="0.7"/>
<rect x="976.2" y="957.9" width="9.0" height="9.0" fill="#000" stroke="#fff" stroke-width="0.7"/>
<rect x="992.1" y="962.5" width="9.0" height="9.0" fill="#000" stroke="#fff" stroke-width="0.7"/>
<rect x="984.7" y="963.0" width="9.0" height="9.0" fill="#000" stroke="#fff" stroke-width="0.7"/>
<rect x="1003.1" y="968.5" width="9.0" height="9.0" fill="#000" stroke="#fff" stroke-width="0.7"/>
<rect x="1010.7" y="969.9" width="9.0" height="9.0" fill="#000" stroke="#fff" stroke-width="0.7"/>
<rect x="993.2" y="981.9" width="9.0" height="9.0" fill="#000" stroke="#fff" stroke-width="0.7"/>
<rect x="1001.1" y="983.0" width="9.0" height="9.0" fill="#000" stroke="#fff" stroke-width="0.7"/>
<rect x="984.1" y="984.7" width="9.0" height="9.0" fill="#000" stroke="#fff" stroke-width="0.7"/>
<rect x="1009.9" y="984.7" width="9.0" height="9.0" fill="#000" stroke="#fff" stroke-width="0.7"/>
<rect x="993.2" y="674.7" width="9.0" height="9.0" fill="#000" stroke="#fff" stroke-width="0.7"/>
<rect x="968.4" y="784.9" width="58.0" height="136.0" fill="none" stroke="#2a2a2a" stroke-width="2.7"/>
<line x1="997.4" y1="679.2" x2="997.4" y2="784.9" stroke="#222" stroke-width="3.4" />
<line x1="997.4" y1="920.9" x2="997.4" y2="1007.0" stroke="#222" stroke-width="3.4" />
<line x1="981.9" y1="679.2" x2="1012.9" y2="679.2" stroke="#000" stroke-width="6" />
<line x1="981.9" y1="1007.0" x2="1012.9" y2="1007.0" stroke="#000" stroke-width="6" />
<line x1="948.4" y1="859.6" x2="1046.4" y2="859.6" stroke="#000" stroke-width="7.4" />
<rect x="1126.8" y="794.8" width="58.0" height="116.1" fill="#e3e3e3" stroke="none" stroke-width="0"/>
<path d="M1141.6,977.5H1152.1L1146.8,987.0Z" fill="#fff" stroke="#222" stroke-width="1.1" stroke-linejoin="miter"/>
<path d="M1151.6,577.2H1162.1L1156.8,586.8Z" fill="#fff" stroke="#222" stroke-width="1.1" stroke-linejoin="miter"/>
<path d="M1149.3,621.4H1159.8L1154.5,630.9Z" fill="#fff" stroke="#222" stroke-width="1.1" stroke-linejoin="miter"/>
<path d="M1151.5,635.3H1162.0L1156.7,644.8Z" fill="#fff" stroke="#222" stroke-width="1.1" stroke-linejoin="miter"/>
<path d="M1151.0,662.9H1161.5L1156.2,672.4Z" fill="#fff" stroke="#222" stroke-width="1.1" stroke-linejoin="miter"/>
<path d="M1160.5,672.1H1171.0L1165.7,681.6Z" fill="#fff" stroke="#222" stroke-width="1.1" stroke-linejoin="miter"/>
<path d="M1150.8,675.9H1161.3L1156.1,685.4Z" fill="#fff" stroke="#222" stroke-width="1.1" stroke-linejoin="miter"/>
<path d="M1140.7,680.3H1151.2L1146.0,689.8Z" fill="#fff" stroke="#222" stroke-width="1.1" stroke-linejoin="miter"/>
<path d="M1152.0,689.6H1162.5L1157.2,699.1Z" fill="#fff" stroke="#222" stroke-width="1.1" stroke-linejoin="miter"/>
<path d="M1149.9,710.6H1160.4L1155.1,720.1Z" fill="#fff" stroke="#222" stroke-width="1.1" stroke-linejoin="miter"/>
<path d="M1142.0,716.5H1152.5L1147.2,726.0Z" fill="#fff" stroke="#222" stroke-width="1.1" stroke-linejoin="miter"/>
<path d="M1158.7,725.3H1169.2L1163.9,734.8Z" fill="#fff" stroke="#222" stroke-width="1.1" stroke-linejoin="miter"/>
<path d="M1149.4,731.6H1159.9L1154.6,741.1Z" fill="#fff" stroke="#222" stroke-width="1.1" stroke-linejoin="miter"/>
<path d="M1150.3,744.5H1160.8L1155.6,754.0Z" fill="#fff" stroke="#222" stroke-width="1.1" stroke-linejoin="miter"/>
<path d="M1159.6,750.5H1170.1L1164.9,760.0Z" fill="#fff" stroke="#222" stroke-width="1.1" stroke-linejoin="miter"/>
<path d="M1140.4,761.0H1150.9L1145.7,770.5Z" fill="#fff" stroke="#222" stroke-width="1.1" stroke-linejoin="miter"/>
<path d="M1150.1,764.6H1160.6L1155.3,774.1Z" fill="#fff" stroke="#222" stroke-width="1.1" stroke-linejoin="miter"/>
<path d="M1159.4,775.5H1169.9L1164.7,785.0Z" fill="#fff" stroke="#222" stroke-width="1.1" stroke-linejoin="miter"/>
<path d="M1150.4,792.6H1160.9L1155.7,802.1Z" fill="#fff" stroke="#222" stroke-width="1.1" stroke-linejoin="miter"/>
<path d="M1141.4,793.8H1151.9L1146.6,803.3Z" fill="#fff" stroke="#222" stroke-width="1.1" stroke-linejoin="miter"/>
<path d="M1161.4,796.4H1171.9L1166.6,805.9Z" fill="#fff" stroke="#222" stroke-width="1.1" stroke-linejoin="miter"/>
<path d="M1170.1,799.0H1180.6L1175.3,808.5Z" fill="#fff" stroke="#222" stroke-width="1.1" stroke-linejoin="miter"/>
<path d="M1130.7,802.7H1141.2L1136.0,812.2Z" fill="#fff" stroke="#222" stroke-width="1.1" stroke-linejoin="miter"/>
<path d="M1151.7,803.6H1162.2L1157.0,813.1Z" fill="#fff" stroke="#222" stroke-width="1.1" stroke-linejoin="miter"/>
<path d="M1141.5,808.3H1152.0L1146.8,817.8Z" fill="#fff" stroke="#222" stroke-width="1.1" stroke-linejoin="miter"/>
<path d="M1168.7,811.7H1179.2L1174.0,821.2Z" fill="#fff" stroke="#222" stroke-width="1.1" stroke-linejoin="miter"/>
<path d="M1161.5,812.6H1172.0L1166.7,822.1Z" fill="#fff" stroke="#222" stroke-width="1.1" stroke-linejoin="miter"/>
<path d="M1150.5,813.3H1161.0L1155.7,822.8Z" fill="#fff" stroke="#222" stroke-width="1.1" stroke-linejoin="miter"/>
<path d="M1131.3,819.1H1141.8L1136.6,828.6Z" fill="#fff" stroke="#222" stroke-width="1.1" stroke-linejoin="miter"/>
<path d="M1141.0,821.4H1151.5L1146.2,830.9Z" fill="#fff" stroke="#222" stroke-width="1.1" stroke-linejoin="miter"/>
<path d="M1150.0,825.8H1160.5L1155.2,835.3Z" fill="#fff" stroke="#222" stroke-width="1.1" stroke-linejoin="miter"/>
<path d="M1126.7,826.8H1137.2L1131.9,836.3Z" fill="#fff" stroke="#222" stroke-width="1.1" stroke-linejoin="miter"/>
<path d="M1168.8,827.7H1179.3L1174.0,837.2Z" fill="#fff" stroke="#222" stroke-width="1.1" stroke-linejoin="miter"/>
<path d="M1161.2,834.2H1171.7L1166.4,843.7Z" fill="#fff" stroke="#222" stroke-width="1.1" stroke-linejoin="miter"/>
<path d="M1139.8,835.6H1150.3L1145.1,845.1Z" fill="#fff" stroke="#222" stroke-width="1.1" stroke-linejoin="miter"/>
<path d="M1151.7,837.1H1162.2L1157.0,846.6Z" fill="#fff" stroke="#222" stroke-width="1.1" stroke-linejoin="miter"/>
<path d="M1161.2,841.7H1171.7L1166.4,851.2Z" fill="#fff" stroke="#222" stroke-width="1.1" stroke-linejoin="miter"/>
<path d="M1133.0,843.5H1143.5L1138.3,853.0Z" fill="#fff" stroke="#222" stroke-width="1.1" stroke-linejoin="miter"/>
<path d="M1170.9,844.2H1181.4L1176.2,853.7Z" fill="#fff" stroke="#222" stroke-width="1.1" stroke-linejoin="miter"/>
<path d="M1150.6,851.6H1161.1L1155.8,861.1Z" fill="#fff" stroke="#222" stroke-width="1.1" stroke-linejoin="miter"/>
<path d="M1130.4,856.1H1140.9L1135.7,865.6Z" fill="#fff" stroke="#222" stroke-width="1.1" stroke-linejoin="miter"/>
<path d="M1168.1,857.8H1178.6L1173.4,867.3Z" fill="#fff" stroke="#222" stroke-width="1.1" stroke-linejoin="miter"/>
<path d="M1160.1,859.2H1170.6L1165.4,868.7Z" fill="#fff" stroke="#222" stroke-width="1.1" stroke-linejoin="miter"/>
<path d="M1141.0,862.6H1151.5L1146.2,872.1Z" fill="#fff" stroke="#222" stroke-width="1.1" stroke-linejoin="miter"/>
<path d="M1174.8,863.2H1185.3L1180.0,872.7Z" fill="#fff" stroke="#222" stroke-width="1.1" stroke-linejoin="miter"/>
<path d="M1126.3,867.0H1136.8L1131.5,876.5Z" fill="#fff" stroke="#222" stroke-width="1.1" stroke-linejoin="miter"/>
<path d="M1149.7,871.3H1160.2L1154.9,880.8Z" fill="#fff" stroke="#222" stroke-width="1.1" stroke-linejoin="miter"/>
<path d="M1141.5,874.3H1152.0L1146.8,883.8Z" fill="#fff" stroke="#222" stroke-width="1.1" stroke-linejoin="miter"/>
<path d="M1159.6,879.8H1170.1L1164.8,889.3Z" fill="#fff" stroke="#222" stroke-width="1.1" stroke-linejoin="miter"/>
<path d="M1170.4,885.2H1180.9L1175.6,894.7Z" fill="#fff" stroke="#222" stroke-width="1.1" stroke-linejoin="miter"/>
<path d="M1141.6,888.0H1152.1L1146.9,897.5Z" fill="#fff" stroke="#222" stroke-width="1.1" stroke-linejoin="miter"/>
<path d="M1131.0,888.5H1141.5L1136.3,898.0Z" fill="#fff" stroke="#222" stroke-width="1.1" stroke-linejoin="miter"/>
<path d="M1151.3,890.6H1161.8L1156.6,900.1Z" fill="#fff" stroke="#222" stroke-width="1.1" stroke-linejoin="miter"/>
<path d="M1160.4,894.0H1170.9L1165.7,903.5Z" fill="#fff" stroke="#222" stroke-width="1.1" stroke-linejoin="miter"/>
<path d="M1141.9,900.7H1152.4L1147.1,910.2Z" fill="#fff" stroke="#222" stroke-width="1.1" stroke-linejoin="miter"/>
<path d="M1131.4,904.4H1141.9L1136.7,913.9Z" fill="#fff" stroke="#222" stroke-width="1.1" stroke-linejoin="miter"/>
<path d="M1149.9,905.8H1160.4L1155.1,915.3Z" fill="#fff" stroke="#222" stroke-width="1.1" stroke-linejoin="miter"/>
<path d="M1161.3,906.2H1171.8L1166.6,915.7Z" fill="#fff" stroke="#222" stroke-width="1.1" stroke-linejoin="miter"/>
<path d="M1168.9,911.4H1179.4L1174.2,920.9Z" fill="#fff" stroke="#222" stroke-width="1.1" stroke-linejoin="miter"/>
<path d="M1130.1,917.6H1140.6L1135.3,927.1Z" fill="#fff" stroke="#222" stroke-width="1.1" stroke-linejoin="miter"/>
<path d="M1151.8,918.2H1162.3L1157.0,927.7Z" fill="#fff" stroke="#222" stroke-width="1.1" stroke-linejoin="miter"/>
<path d="M1139.6,921.4H1150.1L1144.9,930.9Z" fill="#fff" stroke="#222" stroke-width="1.1" stroke-linejoin="miter"/>
<path d="M1160.9,924.7H1171.4L1166.1,934.2Z" fill="#fff" stroke="#222" stroke-width="1.1" stroke-linejoin="miter"/>
<path d="M1168.8,930.8H1179.3L1174.1,940.3Z" fill="#fff" stroke="#222" stroke-width="1.1" stroke-linejoin="miter"/>
<path d="M1140.1,933.8H1150.6L1145.3,943.3Z" fill="#fff" stroke="#222" stroke-width="1.1" stroke-linejoin="miter"/>
<path d="M1151.0,934.1H1161.5L1156.2,943.6Z" fill="#fff" stroke="#222" stroke-width="1.1" stroke-linejoin="miter"/>
<path d="M1159.5,939.7H1170.0L1164.8,949.2Z" fill="#fff" stroke="#222" stroke-width="1.1" stroke-linejoin="miter"/>
<path d="M1133.0,941.1H1143.5L1138.2,950.6Z" fill="#fff" stroke="#222" stroke-width="1.1" stroke-linejoin="miter"/>
<path d="M1141.4,948.1H1151.9L1146.6,957.6Z" fill="#fff" stroke="#222" stroke-width="1.1" stroke-linejoin="miter"/>
<path d="M1168.2,948.4H1178.7L1173.5,957.9Z" fill="#fff" stroke="#222" stroke-width="1.1" stroke-linejoin="miter"/>
<path d="M1160.8,950.3H1171.3L1166.0,959.8Z" fill="#fff" stroke="#222" stroke-width="1.1" stroke-linejoin="miter"/>
<path d="M1150.9,957.7H1161.4L1156.1,967.2Z" fill="#fff" stroke="#222" stroke-width="1.1" stroke-linejoin="miter"/>
<path d="M1159.9,961.7H1170.4L1165.2,971.2Z" fill="#fff" stroke="#222" stroke-width="1.1" stroke-linejoin="miter"/>
<path d="M1150.9,977.5H1161.4L1156.1,987.0Z" fill="#fff" stroke="#222" stroke-width="1.1" stroke-linejoin="miter"/>
<path d="M1140.9,577.2H1151.4L1146.2,586.8Z" fill="#fff" stroke="#222" stroke-width="1.1" stroke-linejoin="miter"/>
<rect x="1126.8" y="794.8" width="58.0" height="116.1" fill="none" stroke="#2a2a2a" stroke-width="2.7"/>
<line x1="1155.8" y1="582.0" x2="1155.8" y2="794.8" stroke="#222" stroke-width="3.4" />
<line x1="1155.8" y1="910.9" x2="1155.8" y2="982.2" stroke="#222" stroke-width="3.4" />
<line x1="1140.3" y1="582.0" x2="1171.3" y2="582.0" stroke="#000" stroke-width="6" />
<line x1="1140.3" y1="982.2" x2="1171.3" y2="982.2" stroke="#000" stroke-width="6" />
<line x1="1106.8" y1="847.6" x2="1204.8" y2="847.6" stroke="#000" stroke-width="7.4" />
<rect x="1222.5" y="773.9" width="58.0" height="128.6" fill="#ff0000" stroke="none" stroke-width="0"/>
<path d="M1247.8,996.1H1257.4L1252.6,1005.1Z" fill="#000" stroke="#fff" stroke-width="0.6"/>
<path d="M1247.7,657.5H1257.3L1252.5,666.5Z" fill="#000" stroke="#fff" stroke-width="0.6"/>
<path d="M1237.3,665.1H1246.9L1242.1,674.1Z" fill="#000" stroke="#fff" stroke-width="0.6"/>
<path d="M1245.3,678.5H1254.9L1250.1,687.5Z" fill="#000" stroke="#fff" stroke-width="0.6"/>
<path d="M1265.2,683.0H1274.8L1270.0,692.0Z" fill="#000" stroke="#fff" stroke-width="0.6"/>
<path d="M1236.8,683.9H1246.4L1241.6,692.9Z" fill="#000" stroke="#fff" stroke-width="0.6"/>
<path d="M1256.5,690.7H1266.1L1261.3,699.7Z" fill="#000" stroke="#fff" stroke-width="0.6"/>
<path d="M1247.7,698.0H1257.3L1252.5,707.0Z" fill="#000" stroke="#fff" stroke-width="0.6"/>
<path d="M1237.2,705.4H1246.8L1242.0,714.4Z" fill="#000" stroke="#fff" stroke-width="0.6"/>
<path d="M1256.1,707.4H1265.7L1260.9,716.4Z" fill="#000" stroke="#fff" stroke-width="0.6"/>
<path d="M1219.5,711.0H1229.1L1224.3,720.0Z" fill="#000" stroke="#fff" stroke-width="0.6"/>
<path d="M1265.6,714.4H1275.2L1270.4,723.4Z" fill="#000" stroke="#fff" stroke-width="0.6"/>
<path d="M1246.9,714.6H1256.5L1251.7,723.6Z" fill="#000" stroke="#fff" stroke-width="0.6"/>
<path d="M1229.9,720.8H1239.5L1234.7,729.8Z" fill="#000" stroke="#fff" stroke-width="0.6"/>
<path d="M1238.1,721.1H1247.7L1242.9,730.1Z" fill="#000" stroke="#fff" stroke-width="0.6"/>
<path d="M1264.4,729.8H1274.0L1269.2,738.8Z" fill="#000" stroke="#fff" stroke-width="0.6"/>
<path d="M1256.5,731.6H1266.1L1261.3,740.6Z" fill="#000" stroke="#fff" stroke-width="0.6"/>
<path d="M1246.8,739.6H1256.4L1251.6,748.6Z" fill="#000" stroke="#fff" stroke-width="0.6"/>
<path d="M1256.9,743.3H1266.5L1261.7,752.3Z" fill="#000" stroke="#fff" stroke-width="0.6"/>
<path d="M1264.4,746.6H1274.0L1269.2,755.6Z" fill="#000" stroke="#fff" stroke-width="0.6"/>
<path d="M1228.3,748.1H1237.9L1233.1,757.1Z" fill="#000" stroke="#fff" stroke-width="0.6"/>
<path d="M1238.1,748.4H1247.7L1242.9,757.4Z" fill="#000" stroke="#fff" stroke-width="0.6"/>
<path d="M1218.6,753.6H1228.2L1223.4,762.6Z" fill="#000" stroke="#fff" stroke-width="0.6"/>
<path d="M1247.2,756.7H1256.8L1252.0,765.7Z" fill="#000" stroke="#fff" stroke-width="0.6"/>
<path d="M1236.6,760.4H1246.2L1241.4,769.4Z" fill="#000" stroke="#fff" stroke-width="0.6"/>
<path d="M1228.9,765.5H1238.5L1233.7,774.5Z" fill="#000" stroke="#fff" stroke-width="0.6"/>
<path d="M1254.3,766.7H1263.9L1259.1,775.7Z" fill="#000" stroke="#fff" stroke-width="0.6"/>
<path d="M1263.5,772.6H1273.1L1268.3,781.6Z" fill="#000" stroke="#fff" stroke-width="0.6"/>
<path d="M1272.3,773.3H1281.9L1277.1,782.3Z" fill="#000" stroke="#fff" stroke-width="0.6"/>
<path d="M1247.8,774.2H1257.4L1252.6,783.2Z" fill="#000" stroke="#fff" stroke-width="0.6"/>
<path d="M1237.1,782.8H1246.7L1241.9,791.8Z" fill="#000" stroke="#fff" stroke-width="0.6"/>
<path d="M1229.4,783.6H1239.0L1234.2,792.6Z" fill="#000" stroke="#fff" stroke-width="0.6"/>
<path d="M1220.2,784.0H1229.8L1225.0,793.0Z" fill="#000" stroke="#fff" stroke-width="0.6"/>
<path d="M1266.1,787.0H1275.7L1270.9,796.0Z" fill="#000" stroke="#fff" stroke-width="0.6"/>
<path d="M1256.4,791.0H1266.0L1261.2,800.0Z" fill="#000" stroke="#fff" stroke-width="0.6"/>
<path d="M1246.2,792.8H1255.8L1251.0,801.8Z" fill="#000" stroke="#fff" stroke-width="0.6"/>
<path d="M1264.7,800.1H1274.3L1269.5,809.1Z" fill="#000" stroke="#fff" stroke-width="0.6"/>
<path d="M1238.4,801.0H1248.0L1243.2,810.0Z" fill="#000" stroke="#fff" stroke-width="0.6"/>
<path d="M1255.9,802.4H1265.5L1260.7,811.4Z" fill="#000" stroke="#fff" stroke-width="0.6"/>
<path d="M1228.4,805.7H1238.0L1233.2,814.7Z" fill="#000" stroke="#fff" stroke-width="0.6"/>
<path d="M1245.8,805.7H1255.4L1250.6,814.7Z" fill="#000" stroke="#fff" stroke-width="0.6"/>
<path d="M1237.7,812.3H1247.3L1242.5,821.3Z" fill="#000" stroke="#fff" stroke-width="0.6"/>
<path d="M1254.9,814.7H1264.5L1259.7,823.7Z" fill="#000" stroke="#fff" stroke-width="0.6"/>
<path d="M1220.8,818.7H1230.4L1225.6,827.7Z" fill="#000" stroke="#fff" stroke-width="0.6"/>
<path d="M1245.6,820.7H1255.2L1250.4,829.7Z" fill="#000" stroke="#fff" stroke-width="0.6"/>
<path d="M1254.8,826.0H1264.4L1259.6,835.0Z" fill="#000" stroke="#fff" stroke-width="0.6"/>
<path d="M1265.3,826.8H1274.9L1270.1,835.8Z" fill="#000" stroke="#fff" stroke-width="0.6"/>
<path d="M1237.1,828.5H1246.7L1241.9,837.5Z" fill="#000" stroke="#fff" stroke-width="0.6"/>
<path d="M1229.9,829.6H1239.5L1234.7,838.6Z" fill="#000" stroke="#fff" stroke-width="0.6"/>
<path d="M1246.6,832.1H1256.2L1251.4,841.1Z" fill="#000" stroke="#fff" stroke-width="0.6"/>
<path d="M1272.9,832.6H1282.5L1277.7,841.6Z" fill="#000" stroke="#fff" stroke-width="0.6"/>
<path d="M1255.1,840.2H1264.7L1259.9,849.2Z" fill="#000" stroke="#fff" stroke-width="0.6"/>
<path d="M1237.5,841.0H1247.1L1242.3,850.0Z" fill="#000" stroke="#fff" stroke-width="0.6"/>
<path d="M1228.8,842.6H1238.4L1233.6,851.6Z" fill="#000" stroke="#fff" stroke-width="0.6"/>
<path d="M1247.9,847.5H1257.5L1252.7,856.5Z" fill="#000" stroke="#fff" stroke-width="0.6"/>
<path d="M1227.8,848.9H1237.4L1232.6,857.9Z" fill="#000" stroke="#fff" stroke-width="0.6"/>
<path d="M1263.4,849.1H1273.0L1268.2,858.1Z" fill="#000" stroke="#fff" stroke-width="0.6"/>
<path d="M1220.0,849.1H1229.6L1224.8,858.1Z" fill="#000" stroke="#fff" stroke-width="0.6"/>
<path d="M1274.3,850.2H1283.9L1279.1,859.2Z" fill="#000" stroke="#fff" stroke-width="0.6"/>
<path d="M1238.3,853.1H1247.9L1243.1,862.1Z" fill="#000" stroke="#fff" stroke-width="0.6"/>
<path d="M1255.5,854.9H1265.1L1260.3,863.9Z" fill="#000" stroke="#fff" stroke-width="0.6"/>
<path d="M1263.7,858.0H1273.3L1268.5,867.0Z" fill="#000" stroke="#fff" stroke-width="0.6"/>
<path d="M1218.4,859.7H1228.0L1223.2,868.7Z" fill="#000" stroke="#fff" stroke-width="0.6"/>
<path d="M1238.0,860.9H1247.6L1242.8,869.9Z" fill="#000" stroke="#fff" stroke-width="0.6"/>
<path d="M1228.0,863.0H1237.6L1232.8,872.0Z" fill="#000" stroke="#fff" stroke-width="0.6"/>
<path d="M1264.2,865.4H1273.8L1269.0,874.4Z" fill="#000" stroke="#fff" stroke-width="0.6"/>
<path d="M1246.0,866.2H1255.6L1250.8,875.2Z" fill="#000" stroke="#fff" stroke-width="0.6"/>
<path d="M1273.3,867.6H1282.9L1278.1,876.6Z" fill="#000" stroke="#fff" stroke-width="0.6"/>
<path d="M1254.3,868.8H1263.9L1259.1,877.8Z" fill="#000" stroke="#fff" stroke-width="0.6"/>
<path d="M1237.4,871.3H1247.0L1242.2,880.3Z" fill="#000" stroke="#fff" stroke-width="0.6"/>
<path d="M1220.3,871.5H1229.9L1225.1,880.5Z" fill="#000" stroke="#fff" stroke-width="0.6"/>
<path d="M1229.1,876.9H1238.7L1233.9,885.9Z" fill="#000" stroke="#fff" stroke-width="0.6"/>
<path d="M1274.6,877.4H1284.2L1279.4,886.4Z" fill="#000" stroke="#fff" stroke-width="0.6"/>
<path d="M1265.9,877.7H1275.5L1270.7,886.7Z" fill="#000" stroke="#fff" stroke-width="0.6"/>
<path d="M1229.0,884.0H1238.6L1233.8,893.0Z" fill="#000" stroke="#fff" stroke-width="0.6"/>
<path d="M1247.6,884.9H1257.2L1252.4,893.9Z" fill="#000" stroke="#fff" stroke-width="0.6"/>
<path d="M1239.1,885.0H1248.7L1243.9,894.0Z" fill="#000" stroke="#fff" stroke-width="0.6"/>
<path d="M1219.6,885.6H1229.2L1224.4,894.6Z" fill="#000" stroke="#fff" stroke-width="0.6"/>
<path d="M1256.6,888.6H1266.2L1261.4,897.6Z" fill="#000" stroke="#fff" stroke-width="0.6"/>
<path d="M1237.1,891.6H1246.7L1241.9,900.6Z" fill="#000" stroke="#fff" stroke-width="0.6"/>
<path d="M1264.7,892.5H1274.3L1269.5,901.5Z" fill="#000" stroke="#fff" stroke-width="0.6"/>
<path d="M1229.9,896.9H1239.5L1234.7,905.9Z" fill="#000" stroke="#fff" stroke-width="0.6"/>
<path d="M1274.9,896.9H1284.5L1279.7,905.9Z" fill="#000" stroke="#fff" stroke-width="0.6"/>
<path d="M1248.0,901.5H1257.6L1252.8,910.5Z" fill="#000" stroke="#fff" stroke-width="0.6"/>
<path d="M1254.2,902.2H1263.8L1259.0,911.2Z" fill="#000" stroke="#fff" stroke-width="0.6"/>
<path d="M1236.9,904.4H1246.5L1241.7,913.4Z" fill="#000" stroke="#fff" stroke-width="0.6"/>
<path d="M1229.6,909.1H1239.2L1234.4,918.1Z" fill="#000" stroke="#fff" stroke-width="0.6"/>
<path d="M1274.4,912.8H1284.0L1279.2,921.8Z" fill="#000" stroke="#fff" stroke-width="0.6"/>
<path d="M1264.7,915.6H1274.3L1269.5,924.6Z" fill="#000" stroke="#fff" stroke-width="0.6"/>
<path d="M1255.6,916.6H1265.2L1260.4,925.6Z" fill="#000" stroke="#fff" stroke-width="0.6"/>
<path d="M1239.2,917.1H1248.8L1244.0,926.1Z" fill="#000" stroke="#fff" stroke-width="0.6"/>
<path d="M1246.3,922.3H1255.9L1251.1,931.3Z" fill="#000" stroke="#fff" stroke-width="0.6"/>
<path d="M1228.2,926.2H1237.8L1233.0,935.2Z" fill="#000" stroke="#fff" stroke-width="0.6"/>
<path d="M1256.3,931.0H1265.9L1261.1,940.0Z" fill="#000" stroke="#fff" stroke-width="0.6"/>
<path d="M1265.5,932.0H1275.1L1270.3,941.0Z" fill="#000" stroke="#fff" stroke-width="0.6"/>
<path d="M1239.0,932.6H1248.6L1243.8,941.6Z" fill="#000" stroke="#fff" stroke-width="0.6"/>
<path d="M1248.1,936.2H1257.7L1252.9,945.2Z" fill="#000" stroke="#fff" stroke-width="0.6"/>
<path d="M1273.5,941.2H1283.1L1278.3,950.2Z" fill="#000" stroke="#fff" stroke-width="0.6"/>
<path d="M1219.5,941.5H1229.1L1224.3,950.5Z" fill="#000" stroke="#fff" stroke-width="0.6"/>
<path d="M1227.4,944.9H1237.0L1232.2,953.9Z" fill="#000" stroke="#fff" stroke-width="0.6"/>
<path d="M1238.4,948.0H1248.0L1243.2,957.0Z" fill="#000" stroke="#fff" stroke-width="0.6"/>
<path d="M1248.2,949.5H1257.8L1253.0,958.5Z" fill="#000" stroke="#fff" stroke-width="0.6"/>
<path d="M1256.2,952.6H1265.8L1261.0,961.6Z" fill="#000" stroke="#fff" stroke-width="0.6"/>
<path d="M1227.5,957.4H1237.1L1232.3,966.4Z" fill="#000" stroke="#fff" stroke-width="0.6"/>
<path d="M1265.0,964.8H1274.6L1269.8,973.8Z" fill="#000" stroke="#fff" stroke-width="0.6"/>
<path d="M1247.2,967.6H1256.8L1252.0,976.6Z" fill="#000" stroke="#fff" stroke-width="0.6"/>
<path d="M1238.4,971.7H1248.0L1243.2,980.7Z" fill="#000" stroke="#fff" stroke-width="0.6"/>
<path d="M1257.0,973.7H1266.6L1261.8,982.7Z" fill="#000" stroke="#fff" stroke-width="0.6"/>
<path d="M1246.6,984.2H1256.2L1251.4,993.2Z" fill="#000" stroke="#fff" stroke-width="0.6"/>
<path d="M1246.3,642.3H1255.9L1251.1,651.3Z" fill="#000" stroke="#fff" stroke-width="0.6"/>
<rect x="1222.5" y="773.9" width="58.0" height="128.6" fill="none" stroke="#2a2a2a" stroke-width="2.7"/>
<line x1="1251.5" y1="646.8" x2="1251.5" y2="773.9" stroke="#222" stroke-width="3.4" />
<line x1="1251.5" y1="902.5" x2="1251.5" y2="1000.6" stroke="#222" stroke-width="3.4" />
<line x1="1236.0" y1="646.8" x2="1267.0" y2="646.8" stroke="#000" stroke-width="6" />
<line x1="1236.0" y1="1000.6" x2="1267.0" y2="1000.6" stroke="#000" stroke-width="6" />
<line x1="1202.5" y1="851.1" x2="1300.5" y2="851.1" stroke="#000" stroke-width="7.4" />
<g transform="translate(899.12,562.10) scale(1,1.05)"><text font-size="24.3" font-weight="bold" fill="#262626" >p=0.0357</text></g>
<line x1="904.2" y1="569.6" x2="998.9" y2="569.6" stroke="#111" stroke-width="3" />
<line x1="165.0" y1="1225.3" x2="165.0" y2="1704.3" stroke="#000" stroke-width="3.6" />
<line x1="145.5" y1="1702.3" x2="642.3" y2="1702.3" stroke="#000" stroke-width="4.4" />
<line x1="145.5" y1="1227.3" x2="165.0" y2="1227.3" stroke="#000" stroke-width="4.2" />
<g transform="translate(99.24,1240.30) scale(1,1.05)"><text font-size="36" font-weight="bold" fill="#000" > 5</text><path transform="translate(0.00,0) scale(0.01758,-0.01758)" d="M478 0V1170L140 959V1180L493 1409H759V0Z" fill="#000"/></g>
<line x1="145.5" y1="1385.4" x2="165.0" y2="1385.4" stroke="#000" stroke-width="4.2" />
<g transform="translate(99.08,1398.50) scale(1,1.05)"><text font-size="36" font-weight="bold" fill="#000" > 0</text><path transform="translate(0.00,0) scale(0.01758,-0.01758)" d="M478 0V1170L140 959V1180L493 1409H759V0Z" fill="#000"/></g>
<line x1="145.5" y1="1542.6" x2="165.0" y2="1542.6" stroke="#000" stroke-width="4.2" />
<g transform="translate(116.82,1555.40) scale(1,1.05)"><text font-size="36" font-weight="bold" fill="#000" >5</text></g>
<line x1="145.5" y1="1702.3" x2="165.0" y2="1702.3" stroke="#000" stroke-width="4.2" />
<g transform="translate(116.66,1715.50) scale(1,1.05)"><text font-size="36" font-weight="bold" fill="#000" >0</text></g>
<line x1="228.5" y1="1702.3" x2="228.5" y2="1722.3" stroke="#000" stroke-width="4.6" />
<g transform="translate(213.06,1757.50) scale(1,1.05)"><text font-size="42" font-weight="bold" fill="#262626" >C</text></g>
<line x1="323.2" y1="1702.3" x2="323.2" y2="1722.3" stroke="#000" stroke-width="4.6" />
<g transform="translate(295.48,1757.50) scale(1,1.05)"><text font-size="42" font-weight="bold" fill="#262626" >AF</text></g>
<line x1="481.9" y1="1702.3" x2="481.9" y2="1722.3" stroke="#000" stroke-width="4.6" />
<g transform="translate(466.46,1757.50) scale(1,1.05)"><text font-size="42" font-weight="bold" fill="#262626" >C</text></g>
<line x1="577.2" y1="1702.3" x2="577.2" y2="1722.3" stroke="#000" stroke-width="4.6" />
<g transform="translate(549.48,1757.50) scale(1,1.05)"><text font-size="42" font-weight="bold" fill="#262626" >AF</text></g>
<g transform="translate(244.15,1213.80) scale(1,1.05)"><text font-size="48.5" font-weight="bold" fill="#262626" >LA</text></g>
<g transform="translate(493.95,1213.80) scale(1,1.05)"><text font-size="48.5" font-weight="bold" fill="#262626" >RA</text></g>
<rect x="199.3" y="1556.5" width="58.0" height="51.2" fill="#e3e3e3" stroke="none" stroke-width="0"/>
<rect x="222.7" y="1668.2" width="9.5" height="9.5" rx="0.8" fill="#fff" stroke="#2a2a2a" stroke-width="1.1"/>
<rect x="232.6" y="1396.2" width="9.5" height="9.5" rx="0.8" fill="#fff" stroke="#2a2a2a" stroke-width="1.1"/>
<rect x="223.8" y="1468.5" width="9.5" height="9.5" rx="0.8" fill="#fff" stroke="#2a2a2a" stroke-width="1.1"/>
<rect x="213.7" y="1479.8" width="9.5" height="9.5" rx="0.8" fill="#fff" stroke="#2a2a2a" stroke-width="1.1"/>
<rect x="224.7" y="1483.5" width="9.5" height="9.5" rx="0.8" fill="#fff" stroke="#2a2a2a" stroke-width="1.1"/>
<rect x="224.6" y="1490.4" width="9.5" height="9.5" rx="0.8" fill="#fff" stroke="#2a2a2a" stroke-width="1.1"/>
<rect x="223.7" y="1496.6" width="9.5" height="9.5" rx="0.8" fill="#fff" stroke="#2a2a2a" stroke-width="1.1"/>
<rect x="231.6" y="1508.0" width="9.5" height="9.5" rx="0.8" fill="#fff" stroke="#2a2a2a" stroke-width="1.1"/>
<rect x="222.6" y="1510.1" width="9.5" height="9.5" rx="0.8" fill="#fff" stroke="#2a2a2a" stroke-width="1.1"/>
<rect x="224.2" y="1521.3" width="9.5" height="9.5" rx="0.8" fill="#fff" stroke="#2a2a2a" stroke-width="1.1"/>
<rect x="231.6" y="1522.4" width="9.5" height="9.5" rx="0.8" fill="#fff" stroke="#2a2a2a" stroke-width="1.1"/>
<rect x="232.9" y="1529.8" width="9.5" height="9.5" rx="0.8" fill="#fff" stroke="#2a2a2a" stroke-width="1.1"/>
<rect x="224.9" y="1532.6" width="9.5" height="9.5" rx="0.8" fill="#fff" stroke="#2a2a2a" stroke-width="1.1"/>
<rect x="234.0" y="1537.1" width="9.5" height="9.5" rx="0.8" fill="#fff" stroke="#2a2a2a" stroke-width="1.1"/>
<rect x="224.9" y="1538.8" width="9.5" height="9.5" rx="0.8" fill="#fff" stroke="#2a2a2a" stroke-width="1.1"/>
<rect x="214.2" y="1540.8" width="9.5" height="9.5" rx="0.8" fill="#fff" stroke="#2a2a2a" stroke-width="1.1"/>
<rect x="222.6" y="1547.4" width="9.5" height="9.5" rx="0.8" fill="#fff" stroke="#2a2a2a" stroke-width="1.1"/>
<rect x="214.8" y="1553.1" width="9.5" height="9.5" rx="0.8" fill="#fff" stroke="#2a2a2a" stroke-width="1.1"/>
<rect x="225.0" y="1554.0" width="9.5" height="9.5" rx="0.8" fill="#fff" stroke="#2a2a2a" stroke-width="1.1"/>
<rect x="231.6" y="1554.7" width="9.5" height="9.5" rx="0.8" fill="#fff" stroke="#2a2a2a" stroke-width="1.1"/>
<rect x="204.7" y="1557.0" width="9.5" height="9.5" rx="0.8" fill="#fff" stroke="#2a2a2a" stroke-width="1.1"/>
<rect x="242.2" y="1557.7" width="9.5" height="9.5" rx="0.8" fill="#fff" stroke="#2a2a2a" stroke-width="1.1"/>
<rect x="250.2" y="1558.4" width="9.5" height="9.5" rx="0.8" fill="#fff" stroke="#2a2a2a" stroke-width="1.1"/>
<rect x="214.0" y="1558.9" width="9.5" height="9.5" rx="0.8" fill="#fff" stroke="#2a2a2a" stroke-width="1.1"/>
<rect x="224.7" y="1559.9" width="9.5" height="9.5" rx="0.8" fill="#fff" stroke="#2a2a2a" stroke-width="1.1"/>
<rect x="195.1" y="1561.9" width="9.5" height="9.5" rx="0.8" fill="#fff" stroke="#2a2a2a" stroke-width="1.1"/>
<rect x="232.1" y="1562.3" width="9.5" height="9.5" rx="0.8" fill="#fff" stroke="#2a2a2a" stroke-width="1.1"/>
<rect x="205.2" y="1563.0" width="9.5" height="9.5" rx="0.8" fill="#fff" stroke="#2a2a2a" stroke-width="1.1"/>
<rect x="242.7" y="1564.3" width="9.5" height="9.5" rx="0.8" fill="#fff" stroke="#2a2a2a" stroke-width="1.1"/>
<rect x="214.6" y="1565.3" width="9.5" height="9.5" rx="0.8" fill="#fff" stroke="#2a2a2a" stroke-width="1.1"/>
<rect x="197.2" y="1566.9" width="9.5" height="9.5" rx="0.8" fill="#fff" stroke="#2a2a2a" stroke-width="1.1"/>
<rect x="222.6" y="1567.3" width="9.5" height="9.5" rx="0.8" fill="#fff" stroke="#2a2a2a" stroke-width="1.1"/>
<rect x="205.0" y="1568.1" width="9.5" height="9.5" rx="0.8" fill="#fff" stroke="#2a2a2a" stroke-width="1.1"/>
<rect x="250.5" y="1568.5" width="9.5" height="9.5" rx="0.8" fill="#fff" stroke="#2a2a2a" stroke-width="1.1"/>
<rect x="232.7" y="1569.3" width="9.5" height="9.5" rx="0.8" fill="#fff" stroke="#2a2a2a" stroke-width="1.1"/>
<rect x="240.6" y="1569.7" width="9.5" height="9.5" rx="0.8" fill="#fff" stroke="#2a2a2a" stroke-width="1.1"/>
<rect x="215.0" y="1571.8" width="9.5" height="9.5" rx="0.8" fill="#fff" stroke="#2a2a2a" stroke-width="1.1"/>
<rect x="222.3" y="1573.0" width="9.5" height="9.5" rx="0.8" fill="#fff" stroke="#2a2a2a" stroke-width="1.1"/>
<rect x="232.6" y="1575.6" width="9.5" height="9.5" rx="0.8" fill="#fff" stroke="#2a2a2a" stroke-width="1.1"/>
<rect x="215.1" y="1577.5" width="9.5" height="9.5" rx="0.8" fill="#fff" stroke="#2a2a2a" stroke-width="1.1"/>
<rect x="224.1" y="1578.8" width="9.5" height="9.5" rx="0.8" fill="#fff" stroke="#2a2a2a" stroke-width="1.1"/>
<rect x="232.6" y="1581.4" width="9.5" height="9.5" rx="0.8" fill="#fff" stroke="#2a2a2a" stroke-width="1.1"/>
<rect x="205.2" y="1581.4" width="9.5" height="9.5" rx="0.8" fill="#fff" stroke="#2a2a2a" stroke-width="1.1"/>
<rect x="241.9" y="1581.5" width="9.5" height="9.5" rx="0.8" fill="#fff" stroke="#2a2a2a" stroke-width="1.1"/>
<rect x="214.9" y="1583.5" width="9.5" height="9.5" rx="0.8" fill="#fff" stroke="#2a2a2a" stroke-width="1.1"/>
<rect x="223.7" y="1587.5" width="9.5" height="9.5" rx="0.8" fill="#fff" stroke="#2a2a2a" stroke-width="1.1"/>
<rect x="204.2" y="1588.7" width="9.5" height="9.5" rx="0.8" fill="#fff" stroke="#2a2a2a" stroke-width="1.1"/>
<rect x="240.8" y="1590.5" width="9.5" height="9.5" rx="0.8" fill="#fff" stroke="#2a2a2a" stroke-width="1.1"/>
<rect x="213.9" y="1592.5" width="9.5" height="9.5" rx="0.8" fill="#fff" stroke="#2a2a2a" stroke-width="1.1"/>
<rect x="233.1" y="1592.9" width="9.5" height="9.5" rx="0.8" fill="#fff" stroke="#2a2a2a" stroke-width="1.1"/>
<rect x="222.1" y="1595.8" width="9.5" height="9.5" rx="0.8" fill="#fff" stroke="#2a2a2a" stroke-width="1.1"/>
<rect x="204.6" y="1595.8" width="9.5" height="9.5" rx="0.8" fill="#fff" stroke="#2a2a2a" stroke-width="1.1"/>
<rect x="223.1" y="1601.0" width="9.5" height="9.5" rx="0.8" fill="#fff" stroke="#2a2a2a" stroke-width="1.1"/>
<rect x="232.0" y="1605.0" width="9.5" height="9.5" rx="0.8" fill="#fff" stroke="#2a2a2a" stroke-width="1.1"/>
<rect x="213.6" y="1606.0" width="9.5" height="9.5" rx="0.8" fill="#fff" stroke="#2a2a2a" stroke-width="1.1"/>
<rect x="242.7" y="1606.8" width="9.5" height="9.5" rx="0.8" fill="#fff" stroke="#2a2a2a" stroke-width="1.1"/>
<rect x="205.6" y="1608.0" width="9.5" height="9.5" rx="0.8" fill="#fff" stroke="#2a2a2a" stroke-width="1.1"/>
<rect x="225.0" y="1609.9" width="9.5" height="9.5" rx="0.8" fill="#fff" stroke="#2a2a2a" stroke-width="1.1"/>
<rect x="233.8" y="1610.3" width="9.5" height="9.5" rx="0.8" fill="#fff" stroke="#2a2a2a" stroke-width="1.1"/>
<rect x="214.2" y="1613.9" width="9.5" height="9.5" rx="0.8" fill="#fff" stroke="#2a2a2a" stroke-width="1.1"/>
<rect x="232.4" y="1616.6" width="9.5" height="9.5" rx="0.8" fill="#fff" stroke="#2a2a2a" stroke-width="1.1"/>
<rect x="222.1" y="1618.2" width="9.5" height="9.5" rx="0.8" fill="#fff" stroke="#2a2a2a" stroke-width="1.1"/>
<rect x="240.1" y="1619.2" width="9.5" height="9.5" rx="0.8" fill="#fff" stroke="#2a2a2a" stroke-width="1.1"/>
<rect x="213.3" y="1621.6" width="9.5" height="9.5" rx="0.8" fill="#fff" stroke="#2a2a2a" stroke-width="1.1"/>
<rect x="222.3" y="1625.7" width="9.5" height="9.5" rx="0.8" fill="#fff" stroke="#2a2a2a" stroke-width="1.1"/>
<rect x="231.4" y="1628.1" width="9.5" height="9.5" rx="0.8" fill="#fff" stroke="#2a2a2a" stroke-width="1.1"/>
<rect x="224.9" y="1631.4" width="9.5" height="9.5" rx="0.8" fill="#fff" stroke="#2a2a2a" stroke-width="1.1"/>
<rect x="222.2" y="1638.8" width="9.5" height="9.5" rx="0.8" fill="#fff" stroke="#2a2a2a" stroke-width="1.1"/>
<rect x="213.2" y="1651.5" width="9.5" height="9.5" rx="0.8" fill="#fff" stroke="#2a2a2a" stroke-width="1.1"/>
<rect x="224.3" y="1655.3" width="9.5" height="9.5" rx="0.8" fill="#fff" stroke="#2a2a2a" stroke-width="1.1"/>
<rect x="222.2" y="1396.2" width="9.5" height="9.5" rx="0.8" fill="#fff" stroke="#2a2a2a" stroke-width="1.1"/>
<rect x="199.3" y="1556.5" width="58.0" height="51.2" fill="none" stroke="#2a2a2a" stroke-width="2.7"/>
<line x1="228.3" y1="1400.9" x2="228.3" y2="1556.5" stroke="#222" stroke-width="3.4" />
<line x1="228.3" y1="1607.7" x2="228.3" y2="1672.9" stroke="#222" stroke-width="3.4" />
<line x1="212.8" y1="1400.9" x2="243.8" y2="1400.9" stroke="#000" stroke-width="6" />
<line x1="212.8" y1="1672.9" x2="243.8" y2="1672.9" stroke="#000" stroke-width="6" />
<line x1="179.3" y1="1575.0" x2="277.3" y2="1575.0" stroke="#000" stroke-width="7.4" />
<rect x="293.6" y="1571.5" width="58.0" height="52.7" fill="#ff0000" stroke="none" stroke-width="0"/>
<rect x="319.3" y="1685.0" width="9.0" height="9.0" fill="#000" stroke="#fff" stroke-width="0.7"/>
<rect x="317.9" y="1509.9" width="9.0" height="9.0" fill="#000" stroke="#fff" stroke-width="0.7"/>
<rect x="318.0" y="1524.2" width="9.0" height="9.0" fill="#000" stroke="#fff" stroke-width="0.7"/>
<rect x="326.4" y="1524.7" width="9.0" height="9.0" fill="#000" stroke="#fff" stroke-width="0.7"/>
<rect x="336.6" y="1527.6" width="9.0" height="9.0" fill="#000" stroke="#fff" stroke-width="0.7"/>
<rect x="308.7" y="1528.1" width="9.0" height="9.0" fill="#000" stroke="#fff" stroke-width="0.7"/>
<rect x="318.8" y="1534.3" width="9.0" height="9.0" fill="#000" stroke="#fff" stroke-width="0.7"/>
<rect x="310.1" y="1539.3" width="9.0" height="9.0" fill="#000" stroke="#fff" stroke-width="0.7"/>
<rect x="326.6" y="1539.4" width="9.0" height="9.0" fill="#000" stroke="#fff" stroke-width="0.7"/>
<rect x="336.8" y="1541.4" width="9.0" height="9.0" fill="#000" stroke="#fff" stroke-width="0.7"/>
<rect x="317.4" y="1543.3" width="9.0" height="9.0" fill="#000" stroke="#fff" stroke-width="0.7"/>
<rect x="327.2" y="1546.4" width="9.0" height="9.0" fill="#000" stroke="#fff" stroke-width="0.7"/>
<rect x="317.2" y="1548.3" width="9.0" height="9.0" fill="#000" stroke="#fff" stroke-width="0.7"/>
<rect x="308.5" y="1549.8" width="9.0" height="9.0" fill="#000" stroke="#fff" stroke-width="0.7"/>
<rect x="299.6" y="1551.3" width="9.0" height="9.0" fill="#000" stroke="#fff" stroke-width="0.7"/>
<rect x="318.8" y="1554.0" width="9.0" height="9.0" fill="#000" stroke="#fff" stroke-width="0.7"/>
<rect x="307.7" y="1554.9" width="9.0" height="9.0" fill="#000" stroke="#fff" stroke-width="0.7"/>
<rect x="336.1" y="1555.6" width="9.0" height="9.0" fill="#000" stroke="#fff" stroke-width="0.7"/>
<rect x="326.1" y="1555.8" width="9.0" height="9.0" fill="#000" stroke="#fff" stroke-width="0.7"/>
<rect x="299.3" y="1558.6" width="9.0" height="9.0" fill="#000" stroke="#fff" stroke-width="0.7"/>
<rect x="335.6" y="1560.7" width="9.0" height="9.0" fill="#000" stroke="#fff" stroke-width="0.7"/>
<rect x="317.2" y="1561.1" width="9.0" height="9.0" fill="#000" stroke="#fff" stroke-width="0.7"/>
<rect x="326.7" y="1561.2" width="9.0" height="9.0" fill="#000" stroke="#fff" stroke-width="0.7"/>
<rect x="301.1" y="1564.2" width="9.0" height="9.0" fill="#000" stroke="#fff" stroke-width="0.7"/>
<rect x="310.3" y="1564.7" width="9.0" height="9.0" fill="#000" stroke="#fff" stroke-width="0.7"/>
<rect x="345.5" y="1566.3" width="9.0" height="9.0" fill="#000" stroke="#fff" stroke-width="0.7"/>
<rect x="317.8" y="1569.0" width="9.0" height="9.0" fill="#000" stroke="#fff" stroke-width="0.7"/>
<rect x="337.1" y="1569.4" width="9.0" height="9.0" fill="#000" stroke="#fff" stroke-width="0.7"/>
<rect x="308.1" y="1570.4" width="9.0" height="9.0" fill="#000" stroke="#fff" stroke-width="0.7"/>
<rect x="327.3" y="1570.6" width="9.0" height="9.0" fill="#000" stroke="#fff" stroke-width="0.7"/>
<rect x="290.4" y="1573.8" width="9.0" height="9.0" fill="#000" stroke="#fff" stroke-width="0.7"/>
<rect x="301.2" y="1574.2" width="9.0" height="9.0" fill="#000" stroke="#fff" stroke-width="0.7"/>
<rect x="319.5" y="1575.3" width="9.0" height="9.0" fill="#000" stroke="#fff" stroke-width="0.7"/>
<rect x="344.0" y="1576.0" width="9.0" height="9.0" fill="#000" stroke="#fff" stroke-width="0.7"/>
<rect x="310.3" y="1576.1" width="9.0" height="9.0" fill="#000" stroke="#fff" stroke-width="0.7"/>
<rect x="326.0" y="1577.0" width="9.0" height="9.0" fill="#000" stroke="#fff" stroke-width="0.7"/>
<rect x="335.3" y="1578.6" width="9.0" height="9.0" fill="#000" stroke="#fff" stroke-width="0.7"/>
<rect x="291.4" y="1581.1" width="9.0" height="9.0" fill="#000" stroke="#fff" stroke-width="0.7"/>
<rect x="309.7" y="1581.2" width="9.0" height="9.0" fill="#000" stroke="#fff" stroke-width="0.7"/>
<rect x="300.0" y="1583.1" width="9.0" height="9.0" fill="#000" stroke="#fff" stroke-width="0.7"/>
<rect x="319.0" y="1583.6" width="9.0" height="9.0" fill="#000" stroke="#fff" stroke-width="0.7"/>
<rect x="345.3" y="1583.9" width="9.0" height="9.0" fill="#000" stroke="#fff" stroke-width="0.7"/>
<rect x="334.7" y="1585.5" width="9.0" height="9.0" fill="#000" stroke="#fff" stroke-width="0.7"/>
<rect x="317.1" y="1586.4" width="9.0" height="9.0" fill="#000" stroke="#fff" stroke-width="0.7"/>
<rect x="291.0" y="1586.8" width="9.0" height="9.0" fill="#000" stroke="#fff" stroke-width="0.7"/>
<rect x="327.4" y="1587.2" width="9.0" height="9.0" fill="#000" stroke="#fff" stroke-width="0.7"/>
<rect x="308.9" y="1587.6" width="9.0" height="9.0" fill="#000" stroke="#fff" stroke-width="0.7"/>
<rect x="335.5" y="1588.4" width="9.0" height="9.0" fill="#000" stroke="#fff" stroke-width="0.7"/>
<rect x="300.7" y="1590.8" width="9.0" height="9.0" fill="#000" stroke="#fff" stroke-width="0.7"/>
<rect x="344.8" y="1590.9" width="9.0" height="9.0" fill="#000" stroke="#fff" stroke-width="0.7"/>
<rect x="291.0" y="1591.7" width="9.0" height="9.0" fill="#000" stroke="#fff" stroke-width="0.7"/>
<rect x="308.0" y="1592.9" width="9.0" height="9.0" fill="#000" stroke="#fff" stroke-width="0.7"/>
<rect x="316.6" y="1593.2" width="9.0" height="9.0" fill="#000" stroke="#fff" stroke-width="0.7"/>
<rect x="328.5" y="1594.2" width="9.0" height="9.0" fill="#000" stroke="#fff" stroke-width="0.7"/>
<rect x="335.8" y="1594.5" width="9.0" height="9.0" fill="#000" stroke="#fff" stroke-width="0.7"/>
<rect x="346.4" y="1595.4" width="9.0" height="9.0" fill="#000" stroke="#fff" stroke-width="0.7"/>
<rect x="300.0" y="1596.3" width="9.0" height="9.0" fill="#000" stroke="#fff" stroke-width="0.7"/>
<rect x="290.5" y="1597.0" width="9.0" height="9.0" fill="#000" stroke="#fff" stroke-width="0.7"/>
<rect x="325.7" y="1597.6" width="9.0" height="9.0" fill="#000" stroke="#fff" stroke-width="0.7"/>
<rect x="308.5" y="1598.0" width="9.0" height="9.0" fill="#000" stroke="#fff" stroke-width="0.7"/>
<rect x="319.1" y="1599.7" width="9.0" height="9.0" fill="#000" stroke="#fff" stroke-width="0.7"/>
<rect x="299.7" y="1601.8" width="9.0" height="9.0" fill="#000" stroke="#fff" stroke-width="0.7"/>
<rect x="334.6" y="1601.9" width="9.0" height="9.0" fill="#000" stroke="#fff" stroke-width="0.7"/>
<rect x="326.5" y="1603.2" width="9.0" height="9.0" fill="#000" stroke="#fff" stroke-width="0.7"/>
<rect x="289.7" y="1603.4" width="9.0" height="9.0" fill="#000" stroke="#fff" stroke-width="0.7"/>
<rect x="309.9" y="1604.4" width="9.0" height="9.0" fill="#000" stroke="#fff" stroke-width="0.7"/>
<rect x="316.8" y="1605.1" width="9.0" height="9.0" fill="#000" stroke="#fff" stroke-width="0.7"/>
<rect x="299.3" y="1607.6" width="9.0" height="9.0" fill="#000" stroke="#fff" stroke-width="0.7"/>
<rect x="345.9" y="1607.7" width="9.0" height="9.0" fill="#000" stroke="#fff" stroke-width="0.7"/>
<rect x="335.9" y="1608.3" width="9.0" height="9.0" fill="#000" stroke="#fff" stroke-width="0.7"/>
<rect x="327.5" y="1609.3" width="9.0" height="9.0" fill="#000" stroke="#fff" stroke-width="0.7"/>
<rect x="319.1" y="1610.1" width="9.0" height="9.0" fill="#000" stroke="#fff" stroke-width="0.7"/>
<rect x="290.8" y="1612.2" width="9.0" height="9.0" fill="#000" stroke="#fff" stroke-width="0.7"/>
<rect x="300.9" y="1612.6" width="9.0" height="9.0" fill="#000" stroke="#fff" stroke-width="0.7"/>
<rect x="308.8" y="1613.7" width="9.0" height="9.0" fill="#000" stroke="#fff" stroke-width="0.7"/>
<rect x="336.9" y="1616.8" width="9.0" height="9.0" fill="#000" stroke="#fff" stroke-width="0.7"/>
<rect x="327.5" y="1618.7" width="9.0" height="9.0" fill="#000" stroke="#fff" stroke-width="0.7"/>
<rect x="343.9" y="1618.8" width="9.0" height="9.0" fill="#000" stroke="#fff" stroke-width="0.7"/>
<rect x="300.6" y="1618.9" width="9.0" height="9.0" fill="#000" stroke="#fff" stroke-width="0.7"/>
<rect x="290.6" y="1619.8" width="9.0" height="9.0" fill="#000" stroke="#fff" stroke-width="0.7"/>
<rect x="308.1" y="1620.0" width="9.0" height="9.0" fill="#000" stroke="#fff" stroke-width="0.7"/>
<rect x="317.7" y="1621.5" width="9.0" height="9.0" fill="#000" stroke="#fff" stroke-width="0.7"/>
<rect x="326.5" y="1623.8" width="9.0" height="9.0" fill="#000" stroke="#fff" stroke-width="0.7"/>
<rect x="345.4" y="1624.4" width="9.0" height="9.0" fill="#000" stroke="#fff" stroke-width="0.7"/>
<rect x="299.5" y="1624.8" width="9.0" height="9.0" fill="#000" stroke="#fff" stroke-width="0.7"/>
<rect x="292.3" y="1626.6" width="9.0" height="9.0" fill="#000" stroke="#fff" stroke-width="0.7"/>
<rect x="337.0" y="1627.0" width="9.0" height="9.0" fill="#000" stroke="#fff" stroke-width="0.7"/>
<rect x="310.5" y="1629.5" width="9.0" height="9.0" fill="#000" stroke="#fff" stroke-width="0.7"/>
<rect x="317.2" y="1630.4" width="9.0" height="9.0" fill="#000" stroke="#fff" stroke-width="0.7"/>
<rect x="344.3" y="1630.8" width="9.0" height="9.0" fill="#000" stroke="#fff" stroke-width="0.7"/>
<rect x="300.1" y="1631.1" width="9.0" height="9.0" fill="#000" stroke="#fff" stroke-width="0.7"/>
<rect x="327.7" y="1633.2" width="9.0" height="9.0" fill="#000" stroke="#fff" stroke-width="0.7"/>
<rect x="307.6" y="1634.8" width="9.0" height="9.0" fill="#000" stroke="#fff" stroke-width="0.7"/>
<rect x="317.5" y="1635.9" width="9.0" height="9.0" fill="#000" stroke="#fff" stroke-width="0.7"/>
<rect x="308.7" y="1639.9" width="9.0" height="9.0" fill="#000" stroke="#fff" stroke-width="0.7"/>
<rect x="318.1" y="1641.3" width="9.0" height="9.0" fill="#000" stroke="#fff" stroke-width="0.7"/>
<rect x="335.9" y="1642.1" width="9.0" height="9.0" fill="#000" stroke="#fff" stroke-width="0.7"/>
<rect x="309.7" y="1645.6" width="9.0" height="9.0" fill="#000" stroke="#fff" stroke-width="0.7"/>
<rect x="326.3" y="1646.8" width="9.0" height="9.0" fill="#000" stroke="#fff" stroke-width="0.7"/>
<rect x="319.3" y="1646.8" width="9.0" height="9.0" fill="#000" stroke="#fff" stroke-width="0.7"/>
<rect x="298.8" y="1649.7" width="9.0" height="9.0" fill="#000" stroke="#fff" stroke-width="0.7"/>
<rect x="318.2" y="1660.3" width="9.0" height="9.0" fill="#000" stroke="#fff" stroke-width="0.7"/>
<rect x="327.8" y="1661.0" width="9.0" height="9.0" fill="#000" stroke="#fff" stroke-width="0.7"/>
<rect x="317.1" y="1671.5" width="9.0" height="9.0" fill="#000" stroke="#fff" stroke-width="0.7"/>
<rect x="318.9" y="1486.8" width="9.0" height="9.0" fill="#000" stroke="#fff" stroke-width="0.7"/>
<rect x="293.6" y="1571.5" width="58.0" height="52.7" fill="none" stroke="#2a2a2a" stroke-width="2.7"/>
<line x1="322.6" y1="1491.3" x2="322.6" y2="1571.5" stroke="#222" stroke-width="3.4" />
<line x1="322.6" y1="1624.2" x2="322.6" y2="1689.5" stroke="#222" stroke-width="3.4" />
<line x1="307.1" y1="1491.3" x2="338.1" y2="1491.3" stroke="#000" stroke-width="6" />
<line x1="307.1" y1="1689.5" x2="338.1" y2="1689.5" stroke="#000" stroke-width="6" />
<line x1="273.6" y1="1597.6" x2="371.6" y2="1597.6" stroke="#000" stroke-width="7.4" />
<rect x="452.7" y="1570.5" width="58.0" height="59.7" fill="#e3e3e3" stroke="none" stroke-width="0"/>
<path d="M476.0,1673.2H486.5L481.3,1682.7Z" fill="#fff" stroke="#222" stroke-width="1.1" stroke-linejoin="miter"/>
<path d="M475.7,1444.9H486.2L481.0,1454.4Z" fill="#fff" stroke="#222" stroke-width="1.1" stroke-linejoin="miter"/>
<path d="M487.4,1477.4H497.9L492.7,1486.9Z" fill="#fff" stroke="#222" stroke-width="1.1" stroke-linejoin="miter"/>
<path d="M477.7,1480.3H488.2L482.9,1489.8Z" fill="#fff" stroke="#222" stroke-width="1.1" stroke-linejoin="miter"/>
<path d="M477.7,1487.8H488.2L482.9,1497.3Z" fill="#fff" stroke="#222" stroke-width="1.1" stroke-linejoin="miter"/>
<path d="M476.5,1499.9H487.0L481.8,1509.4Z" fill="#fff" stroke="#222" stroke-width="1.1" stroke-linejoin="miter"/>
<path d="M475.7,1506.7H486.2L481.0,1516.2Z" fill="#fff" stroke="#222" stroke-width="1.1" stroke-linejoin="miter"/>
<path d="M476.1,1522.2H486.6L481.3,1531.7Z" fill="#fff" stroke="#222" stroke-width="1.1" stroke-linejoin="miter"/>
<path d="M467.4,1527.2H477.9L472.6,1536.7Z" fill="#fff" stroke="#222" stroke-width="1.1" stroke-linejoin="miter"/>
<path d="M486.0,1530.2H496.5L491.2,1539.7Z" fill="#fff" stroke="#222" stroke-width="1.1" stroke-linejoin="miter"/>
<path d="M476.6,1532.6H487.1L481.9,1542.1Z" fill="#fff" stroke="#222" stroke-width="1.1" stroke-linejoin="miter"/>
<path d="M467.2,1534.5H477.7L472.4,1544.0Z" fill="#fff" stroke="#222" stroke-width="1.1" stroke-linejoin="miter"/>
<path d="M485.1,1537.1H495.6L490.3,1546.6Z" fill="#fff" stroke="#222" stroke-width="1.1" stroke-linejoin="miter"/>
<path d="M475.5,1547.6H486.0L480.7,1557.1Z" fill="#fff" stroke="#222" stroke-width="1.1" stroke-linejoin="miter"/>
<path d="M467.0,1554.4H477.5L472.3,1563.9Z" fill="#fff" stroke="#222" stroke-width="1.1" stroke-linejoin="miter"/>
<path d="M476.4,1554.7H486.9L481.6,1564.2Z" fill="#fff" stroke="#222" stroke-width="1.1" stroke-linejoin="miter"/>
<path d="M484.6,1556.4H495.1L489.9,1565.9Z" fill="#fff" stroke="#222" stroke-width="1.1" stroke-linejoin="miter"/>
<path d="M477.1,1559.9H487.6L482.3,1569.4Z" fill="#fff" stroke="#222" stroke-width="1.1" stroke-linejoin="miter"/>
<path d="M458.4,1566.1H468.9L463.7,1575.6Z" fill="#fff" stroke="#222" stroke-width="1.1" stroke-linejoin="miter"/>
<path d="M477.7,1566.9H488.2L483.0,1576.4Z" fill="#fff" stroke="#222" stroke-width="1.1" stroke-linejoin="miter"/>
<path d="M466.4,1567.0H476.9L471.7,1576.5Z" fill="#fff" stroke="#222" stroke-width="1.1" stroke-linejoin="miter"/>
<path d="M494.0,1568.6H504.5L499.3,1578.1Z" fill="#fff" stroke="#222" stroke-width="1.1" stroke-linejoin="miter"/>
<path d="M487.4,1568.9H497.9L492.6,1578.4Z" fill="#fff" stroke="#222" stroke-width="1.1" stroke-linejoin="miter"/>
<path d="M452.0,1571.7H462.5L457.2,1581.2Z" fill="#fff" stroke="#222" stroke-width="1.1" stroke-linejoin="miter"/>
<path d="M463.4,1571.7H473.9L468.6,1581.2Z" fill="#fff" stroke="#222" stroke-width="1.1" stroke-linejoin="miter"/>
<path d="M476.4,1572.4H486.9L481.6,1581.9Z" fill="#fff" stroke="#222" stroke-width="1.1" stroke-linejoin="miter"/>
<path d="M499.5,1573.1H510.0L504.7,1582.6Z" fill="#fff" stroke="#222" stroke-width="1.1" stroke-linejoin="miter"/>
<path d="M466.3,1574.4H476.8L471.6,1583.9Z" fill="#fff" stroke="#222" stroke-width="1.1" stroke-linejoin="miter"/>
<path d="M486.0,1574.7H496.5L491.2,1584.2Z" fill="#fff" stroke="#222" stroke-width="1.1" stroke-linejoin="miter"/>
<path d="M453.7,1576.2H464.2L459.0,1585.7Z" fill="#fff" stroke="#222" stroke-width="1.1" stroke-linejoin="miter"/>
<path d="M496.8,1576.3H507.3L502.0,1585.8Z" fill="#fff" stroke="#222" stroke-width="1.1" stroke-linejoin="miter"/>
<path d="M477.1,1578.6H487.6L482.3,1588.1Z" fill="#fff" stroke="#222" stroke-width="1.1" stroke-linejoin="miter"/>
<path d="M487.4,1578.8H497.9L492.7,1588.3Z" fill="#fff" stroke="#222" stroke-width="1.1" stroke-linejoin="miter"/>
<path d="M457.8,1579.7H468.3L463.1,1589.2Z" fill="#fff" stroke="#222" stroke-width="1.1" stroke-linejoin="miter"/>
<path d="M476.8,1580.1H487.3L482.0,1589.6Z" fill="#fff" stroke="#222" stroke-width="1.1" stroke-linejoin="miter"/>
<path d="M466.8,1580.2H477.3L472.1,1589.7Z" fill="#fff" stroke="#222" stroke-width="1.1" stroke-linejoin="miter"/>
<path d="M491.9,1580.5H502.4L497.1,1590.0Z" fill="#fff" stroke="#222" stroke-width="1.1" stroke-linejoin="miter"/>
<path d="M499.8,1580.9H510.3L505.0,1590.4Z" fill="#fff" stroke="#222" stroke-width="1.1" stroke-linejoin="miter"/>
<path d="M451.3,1581.5H461.8L456.6,1591.0Z" fill="#fff" stroke="#222" stroke-width="1.1" stroke-linejoin="miter"/>
<path d="M476.5,1586.7H487.0L481.7,1596.2Z" fill="#fff" stroke="#222" stroke-width="1.1" stroke-linejoin="miter"/>
<path d="M467.8,1587.6H478.3L473.0,1597.1Z" fill="#fff" stroke="#222" stroke-width="1.1" stroke-linejoin="miter"/>
<path d="M486.6,1588.3H497.1L491.9,1597.8Z" fill="#fff" stroke="#222" stroke-width="1.1" stroke-linejoin="miter"/>
<path d="M495.7,1591.2H506.2L500.9,1600.7Z" fill="#fff" stroke="#222" stroke-width="1.1" stroke-linejoin="miter"/>
<path d="M476.3,1592.4H486.8L481.5,1601.9Z" fill="#fff" stroke="#222" stroke-width="1.1" stroke-linejoin="miter"/>
<path d="M467.1,1595.2H477.6L472.4,1604.7Z" fill="#fff" stroke="#222" stroke-width="1.1" stroke-linejoin="miter"/>
<path d="M485.1,1595.3H495.6L490.3,1604.8Z" fill="#fff" stroke="#222" stroke-width="1.1" stroke-linejoin="miter"/>
<path d="M496.5,1600.1H507.0L501.8,1609.6Z" fill="#fff" stroke="#222" stroke-width="1.1" stroke-linejoin="miter"/>
<path d="M477.3,1602.2H487.8L482.6,1611.7Z" fill="#fff" stroke="#222" stroke-width="1.1" stroke-linejoin="miter"/>
<path d="M475.5,1607.7H486.0L480.8,1617.2Z" fill="#fff" stroke="#222" stroke-width="1.1" stroke-linejoin="miter"/>
<path d="M486.3,1608.6H496.8L491.5,1618.1Z" fill="#fff" stroke="#222" stroke-width="1.1" stroke-linejoin="miter"/>
<path d="M465.7,1611.5H476.2L470.9,1621.0Z" fill="#fff" stroke="#222" stroke-width="1.1" stroke-linejoin="miter"/>
<path d="M477.2,1614.2H487.7L482.4,1623.7Z" fill="#fff" stroke="#222" stroke-width="1.1" stroke-linejoin="miter"/>
<path d="M485.3,1615.3H495.8L490.5,1624.8Z" fill="#fff" stroke="#222" stroke-width="1.1" stroke-linejoin="miter"/>
<path d="M466.6,1621.4H477.1L471.9,1630.9Z" fill="#fff" stroke="#222" stroke-width="1.1" stroke-linejoin="miter"/>
<path d="M495.9,1622.0H506.4L501.2,1631.5Z" fill="#fff" stroke="#222" stroke-width="1.1" stroke-linejoin="miter"/>
<path d="M456.7,1623.2H467.2L462.0,1632.7Z" fill="#fff" stroke="#222" stroke-width="1.1" stroke-linejoin="miter"/>
<path d="M486.4,1624.8H496.9L491.7,1634.3Z" fill="#fff" stroke="#222" stroke-width="1.1" stroke-linejoin="miter"/>
<path d="M476.7,1625.0H487.2L481.9,1634.5Z" fill="#fff" stroke="#222" stroke-width="1.1" stroke-linejoin="miter"/>
<path d="M467.5,1626.3H478.0L472.8,1635.8Z" fill="#fff" stroke="#222" stroke-width="1.1" stroke-linejoin="miter"/>
<path d="M458.1,1629.3H468.6L463.3,1638.8Z" fill="#fff" stroke="#222" stroke-width="1.1" stroke-linejoin="miter"/>
<path d="M486.6,1630.1H497.1L491.8,1639.6Z" fill="#fff" stroke="#222" stroke-width="1.1" stroke-linejoin="miter"/>
<path d="M500.8,1630.4H511.3L506.0,1639.9Z" fill="#fff" stroke="#222" stroke-width="1.1" stroke-linejoin="miter"/>
<path d="M476.8,1634.1H487.3L482.1,1643.6Z" fill="#fff" stroke="#222" stroke-width="1.1" stroke-linejoin="miter"/>
<path d="M468.2,1634.6H478.7L473.4,1644.1Z" fill="#fff" stroke="#222" stroke-width="1.1" stroke-linejoin="miter"/>
<path d="M496.9,1635.3H507.4L502.1,1644.8Z" fill="#fff" stroke="#222" stroke-width="1.1" stroke-linejoin="miter"/>
<path d="M486.3,1637.0H496.8L491.5,1646.5Z" fill="#fff" stroke="#222" stroke-width="1.1" stroke-linejoin="miter"/>
<path d="M457.8,1637.7H468.3L463.1,1647.2Z" fill="#fff" stroke="#222" stroke-width="1.1" stroke-linejoin="miter"/>
<path d="M476.9,1640.0H487.4L482.1,1649.5Z" fill="#fff" stroke="#222" stroke-width="1.1" stroke-linejoin="miter"/>
<path d="M467.0,1643.7H477.5L472.2,1653.2Z" fill="#fff" stroke="#222" stroke-width="1.1" stroke-linejoin="miter"/>
<path d="M485.0,1644.2H495.5L490.3,1653.7Z" fill="#fff" stroke="#222" stroke-width="1.1" stroke-linejoin="miter"/>
<path d="M475.0,1646.9H485.5L480.2,1656.4Z" fill="#fff" stroke="#222" stroke-width="1.1" stroke-linejoin="miter"/>
<path d="M467.5,1649.3H478.0L472.8,1658.8Z" fill="#fff" stroke="#222" stroke-width="1.1" stroke-linejoin="miter"/>
<path d="M486.6,1650.6H497.1L491.8,1660.1Z" fill="#fff" stroke="#222" stroke-width="1.1" stroke-linejoin="miter"/>
<path d="M475.9,1659.1H486.4L481.2,1668.6Z" fill="#fff" stroke="#222" stroke-width="1.1" stroke-linejoin="miter"/>
<path d="M475.3,1397.2H485.8L480.5,1406.8Z" fill="#fff" stroke="#222" stroke-width="1.1" stroke-linejoin="miter"/>
<rect x="452.7" y="1570.5" width="58.0" height="59.7" fill="none" stroke="#2a2a2a" stroke-width="2.7"/>
<line x1="481.7" y1="1402.0" x2="481.7" y2="1570.5" stroke="#222" stroke-width="3.4" />
<line x1="481.7" y1="1630.2" x2="481.7" y2="1677.9" stroke="#222" stroke-width="3.4" />
<line x1="466.2" y1="1402.0" x2="497.2" y2="1402.0" stroke="#000" stroke-width="6" />
<line x1="466.2" y1="1677.9" x2="497.2" y2="1677.9" stroke="#000" stroke-width="6" />
<line x1="432.7" y1="1586.6" x2="530.7" y2="1586.6" stroke="#000" stroke-width="7.4" />
<rect x="548.0" y="1526.4" width="58.0" height="81.3" fill="#ff0000" stroke="none" stroke-width="0"/>
<path d="M571.2,1666.4H580.8L576.0,1675.4Z" fill="#000" stroke="#fff" stroke-width="0.6"/>
<path d="M570.8,1399.3H580.4L575.6,1408.3Z" fill="#000" stroke="#fff" stroke-width="0.6"/>
<path d="M572.9,1415.1H582.5L577.7,1424.1Z" fill="#000" stroke="#fff" stroke-width="0.6"/>
<path d="M582.6,1434.7H592.2L587.4,1443.7Z" fill="#000" stroke="#fff" stroke-width="0.6"/>
<path d="M571.9,1436.8H581.5L576.7,1445.8Z" fill="#000" stroke="#fff" stroke-width="0.6"/>
<path d="M562.5,1438.5H572.1L567.3,1447.5Z" fill="#000" stroke="#fff" stroke-width="0.6"/>
<path d="M571.6,1447.3H581.2L576.4,1456.3Z" fill="#000" stroke="#fff" stroke-width="0.6"/>
<path d="M564.6,1461.7H574.2L569.4,1470.7Z" fill="#000" stroke="#fff" stroke-width="0.6"/>
<path d="M573.4,1466.5H583.0L578.2,1475.5Z" fill="#000" stroke="#fff" stroke-width="0.6"/>
<path d="M582.4,1468.8H592.0L587.2,1477.8Z" fill="#000" stroke="#fff" stroke-width="0.6"/>
<path d="M562.6,1470.7H572.2L567.4,1479.7Z" fill="#000" stroke="#fff" stroke-width="0.6"/>
<path d="M555.5,1471.3H565.1L560.3,1480.3Z" fill="#000" stroke="#fff" stroke-width="0.6"/>
<path d="M571.7,1479.7H581.3L576.5,1488.7Z" fill="#000" stroke="#fff" stroke-width="0.6"/>
<path d="M564.2,1489.2H573.8L569.0,1498.2Z" fill="#000" stroke="#fff" stroke-width="0.6"/>
<path d="M570.7,1492.7H580.3L575.5,1501.7Z" fill="#000" stroke="#fff" stroke-width="0.6"/>
<path d="M582.2,1493.6H591.8L587.0,1502.6Z" fill="#000" stroke="#fff" stroke-width="0.6"/>
<path d="M553.5,1494.8H563.1L558.3,1503.8Z" fill="#000" stroke="#fff" stroke-width="0.6"/>
<path d="M562.6,1495.7H572.2L567.4,1504.7Z" fill="#000" stroke="#fff" stroke-width="0.6"/>
<path d="M573.1,1501.9H582.7L577.9,1510.9Z" fill="#000" stroke="#fff" stroke-width="0.6"/>
<path d="M580.2,1502.1H589.8L585.0,1511.1Z" fill="#000" stroke="#fff" stroke-width="0.6"/>
<path d="M591.6,1506.1H601.2L596.4,1515.1Z" fill="#000" stroke="#fff" stroke-width="0.6"/>
<path d="M562.2,1506.6H571.8L567.0,1515.6Z" fill="#000" stroke="#fff" stroke-width="0.6"/>
<path d="M562.2,1512.2H571.8L567.0,1521.2Z" fill="#000" stroke="#fff" stroke-width="0.6"/>
<path d="M572.7,1512.7H582.3L577.5,1521.7Z" fill="#000" stroke="#fff" stroke-width="0.6"/>
<path d="M580.1,1513.8H589.7L584.9,1522.8Z" fill="#000" stroke="#fff" stroke-width="0.6"/>
<path d="M590.6,1516.6H600.2L595.4,1525.6Z" fill="#000" stroke="#fff" stroke-width="0.6"/>
<path d="M572.7,1519.7H582.3L577.5,1528.7Z" fill="#000" stroke="#fff" stroke-width="0.6"/>
<path d="M580.9,1521.1H590.5L585.7,1530.1Z" fill="#000" stroke="#fff" stroke-width="0.6"/>
<path d="M564.4,1522.0H574.0L569.2,1531.0Z" fill="#000" stroke="#fff" stroke-width="0.6"/>
<path d="M572.2,1526.3H581.8L577.0,1535.3Z" fill="#000" stroke="#fff" stroke-width="0.6"/>
<path d="M564.5,1529.5H574.1L569.3,1538.5Z" fill="#000" stroke="#fff" stroke-width="0.6"/>
<path d="M571.7,1531.9H581.3L576.5,1540.9Z" fill="#000" stroke="#fff" stroke-width="0.6"/>
<path d="M590.6,1532.4H600.2L595.4,1541.4Z" fill="#000" stroke="#fff" stroke-width="0.6"/>
<path d="M563.1,1535.1H572.7L567.9,1544.1Z" fill="#000" stroke="#fff" stroke-width="0.6"/>
<path d="M580.6,1536.5H590.2L585.4,1545.5Z" fill="#000" stroke="#fff" stroke-width="0.6"/>
<path d="M554.8,1538.5H564.4L559.6,1547.5Z" fill="#000" stroke="#fff" stroke-width="0.6"/>
<path d="M564.5,1540.5H574.1L569.3,1549.5Z" fill="#000" stroke="#fff" stroke-width="0.6"/>
<path d="M600.4,1541.8H610.0L605.2,1550.8Z" fill="#000" stroke="#fff" stroke-width="0.6"/>
<path d="M571.8,1543.4H581.4L576.6,1552.4Z" fill="#000" stroke="#fff" stroke-width="0.6"/>
<path d="M591.6,1545.7H601.2L596.4,1554.7Z" fill="#000" stroke="#fff" stroke-width="0.6"/>
<path d="M580.9,1545.9H590.5L585.7,1554.9Z" fill="#000" stroke="#fff" stroke-width="0.6"/>
<path d="M562.7,1547.8H572.3L567.5,1556.8Z" fill="#000" stroke="#fff" stroke-width="0.6"/>
<path d="M543.8,1549.3H553.4L548.6,1558.3Z" fill="#000" stroke="#fff" stroke-width="0.6"/>
<path d="M573.3,1551.0H582.9L578.1,1560.0Z" fill="#000" stroke="#fff" stroke-width="0.6"/>
<path d="M553.0,1552.3H562.6L557.8,1561.3Z" fill="#000" stroke="#fff" stroke-width="0.6"/>
<path d="M582.6,1554.6H592.2L587.4,1563.6Z" fill="#000" stroke="#fff" stroke-width="0.6"/>
<path d="M562.3,1554.8H571.9L567.1,1563.8Z" fill="#000" stroke="#fff" stroke-width="0.6"/>
<path d="M591.1,1556.3H600.7L595.9,1565.3Z" fill="#000" stroke="#fff" stroke-width="0.6"/>
<path d="M570.9,1556.6H580.5L575.7,1565.6Z" fill="#000" stroke="#fff" stroke-width="0.6"/>
<path d="M554.4,1560.3H564.0L559.2,1569.3Z" fill="#000" stroke="#fff" stroke-width="0.6"/>
<path d="M564.4,1560.4H574.0L569.2,1569.4Z" fill="#000" stroke="#fff" stroke-width="0.6"/>
<path d="M598.8,1560.8H608.4L603.6,1569.8Z" fill="#000" stroke="#fff" stroke-width="0.6"/>
<path d="M581.2,1562.8H590.8L586.0,1571.8Z" fill="#000" stroke="#fff" stroke-width="0.6"/>
<path d="M591.2,1564.7H600.8L596.0,1573.7Z" fill="#000" stroke="#fff" stroke-width="0.6"/>
<path d="M571.6,1566.3H581.2L576.4,1575.3Z" fill="#000" stroke="#fff" stroke-width="0.6"/>
<path d="M554.0,1567.0H563.6L558.8,1576.0Z" fill="#000" stroke="#fff" stroke-width="0.6"/>
<path d="M545.4,1567.7H555.0L550.2,1576.7Z" fill="#000" stroke="#fff" stroke-width="0.6"/>
<path d="M580.4,1568.0H590.0L585.2,1577.0Z" fill="#000" stroke="#fff" stroke-width="0.6"/>
<path d="M562.8,1570.2H572.4L567.6,1579.2Z" fill="#000" stroke="#fff" stroke-width="0.6"/>
<path d="M590.6,1571.3H600.2L595.4,1580.3Z" fill="#000" stroke="#fff" stroke-width="0.6"/>
<path d="M599.7,1571.4H609.3L604.5,1580.4Z" fill="#000" stroke="#fff" stroke-width="0.6"/>
<path d="M572.2,1571.4H581.8L577.0,1580.4Z" fill="#000" stroke="#fff" stroke-width="0.6"/>
<path d="M555.2,1572.6H564.8L560.0,1581.6Z" fill="#000" stroke="#fff" stroke-width="0.6"/>
<path d="M582.2,1574.6H591.8L587.0,1583.6Z" fill="#000" stroke="#fff" stroke-width="0.6"/>
<path d="M573.1,1578.2H582.7L577.9,1587.2Z" fill="#000" stroke="#fff" stroke-width="0.6"/>
<path d="M544.3,1578.3H553.9L549.1,1587.3Z" fill="#000" stroke="#fff" stroke-width="0.6"/>
<path d="M591.0,1579.1H600.6L595.8,1588.1Z" fill="#000" stroke="#fff" stroke-width="0.6"/>
<path d="M563.4,1579.9H573.0L568.2,1588.9Z" fill="#000" stroke="#fff" stroke-width="0.6"/>
<path d="M554.1,1581.9H563.7L558.9,1590.9Z" fill="#000" stroke="#fff" stroke-width="0.6"/>
<path d="M580.7,1583.0H590.3L585.5,1592.0Z" fill="#000" stroke="#fff" stroke-width="0.6"/>
<path d="M572.8,1583.3H582.4L577.6,1592.3Z" fill="#000" stroke="#fff" stroke-width="0.6"/>
<path d="M553.3,1587.0H562.9L558.1,1596.0Z" fill="#000" stroke="#fff" stroke-width="0.6"/>
<path d="M588.9,1587.6H598.5L593.7,1596.6Z" fill="#000" stroke="#fff" stroke-width="0.6"/>
<path d="M582.5,1589.0H592.1L587.3,1598.0Z" fill="#000" stroke="#fff" stroke-width="0.6"/>
<path d="M571.1,1590.9H580.7L575.9,1599.9Z" fill="#000" stroke="#fff" stroke-width="0.6"/>
<path d="M562.7,1591.4H572.3L567.5,1600.4Z" fill="#000" stroke="#fff" stroke-width="0.6"/>
<path d="M590.3,1593.9H599.9L595.1,1602.9Z" fill="#000" stroke="#fff" stroke-width="0.6"/>
<path d="M582.5,1596.4H592.1L587.3,1605.4Z" fill="#000" stroke="#fff" stroke-width="0.6"/>
<path d="M546.7,1596.6H556.3L551.5,1605.6Z" fill="#000" stroke="#fff" stroke-width="0.6"/>
<path d="M563.5,1597.3H573.1L568.3,1606.3Z" fill="#000" stroke="#fff" stroke-width="0.6"/>
<path d="M572.6,1598.8H582.2L577.4,1607.8Z" fill="#000" stroke="#fff" stroke-width="0.6"/>
<path d="M554.7,1599.9H564.3L559.5,1608.9Z" fill="#000" stroke="#fff" stroke-width="0.6"/>
<path d="M589.9,1603.8H599.5L594.7,1612.8Z" fill="#000" stroke="#fff" stroke-width="0.6"/>
<path d="M564.7,1604.0H574.3L569.5,1613.0Z" fill="#000" stroke="#fff" stroke-width="0.6"/>
<path d="M543.8,1604.2H553.4L548.6,1613.2Z" fill="#000" stroke="#fff" stroke-width="0.6"/>
<path d="M582.3,1606.7H591.9L587.1,1615.7Z" fill="#000" stroke="#fff" stroke-width="0.6"/>
<path d="M573.1,1607.0H582.7L577.9,1616.0Z" fill="#000" stroke="#fff" stroke-width="0.6"/>
<path d="M563.8,1608.1H573.4L568.6,1617.1Z" fill="#000" stroke="#fff" stroke-width="0.6"/>
<path d="M555.5,1608.9H565.1L560.3,1617.9Z" fill="#000" stroke="#fff" stroke-width="0.6"/>
<path d="M600.0,1610.0H609.6L604.8,1619.0Z" fill="#000" stroke="#fff" stroke-width="0.6"/>
<path d="M589.7,1610.1H599.3L594.5,1619.1Z" fill="#000" stroke="#fff" stroke-width="0.6"/>
<path d="M581.6,1611.7H591.2L586.4,1620.7Z" fill="#000" stroke="#fff" stroke-width="0.6"/>
<path d="M573.0,1613.1H582.6L577.8,1622.1Z" fill="#000" stroke="#fff" stroke-width="0.6"/>
<path d="M564.1,1613.7H573.7L568.9,1622.7Z" fill="#000" stroke="#fff" stroke-width="0.6"/>
<path d="M599.0,1615.5H608.6L603.8,1624.5Z" fill="#000" stroke="#fff" stroke-width="0.6"/>
<path d="M591.7,1617.7H601.3L596.5,1626.7Z" fill="#000" stroke="#fff" stroke-width="0.6"/>
<path d="M545.2,1617.9H554.8L550.0,1626.9Z" fill="#000" stroke="#fff" stroke-width="0.6"/>
<path d="M554.8,1619.8H564.4L559.6,1628.8Z" fill="#000" stroke="#fff" stroke-width="0.6"/>
<path d="M572.3,1620.6H581.9L577.1,1629.6Z" fill="#000" stroke="#fff" stroke-width="0.6"/>
<path d="M581.3,1621.8H590.9L586.1,1630.8Z" fill="#000" stroke="#fff" stroke-width="0.6"/>
<path d="M564.3,1623.2H573.9L569.1,1632.2Z" fill="#000" stroke="#fff" stroke-width="0.6"/>
<path d="M591.2,1624.5H600.8L596.0,1633.5Z" fill="#000" stroke="#fff" stroke-width="0.6"/>
<path d="M572.0,1625.7H581.6L576.8,1634.7Z" fill="#000" stroke="#fff" stroke-width="0.6"/>
<path d="M570.9,1631.6H580.5L575.7,1640.6Z" fill="#000" stroke="#fff" stroke-width="0.6"/>
<path d="M563.6,1633.6H573.2L568.4,1642.6Z" fill="#000" stroke="#fff" stroke-width="0.6"/>
<path d="M563.4,1641.3H573.0L568.2,1650.3Z" fill="#000" stroke="#fff" stroke-width="0.6"/>
<path d="M572.0,1641.5H581.6L576.8,1650.5Z" fill="#000" stroke="#fff" stroke-width="0.6"/>
<path d="M580.3,1644.5H589.9L585.1,1653.5Z" fill="#000" stroke="#fff" stroke-width="0.6"/>
<path d="M572.0,1647.5H581.6L576.8,1656.5Z" fill="#000" stroke="#fff" stroke-width="0.6"/>
<path d="M572.2,1358.8H581.8L577.0,1367.8Z" fill="#000" stroke="#fff" stroke-width="0.6"/>
<rect x="548.0" y="1526.4" width="58.0" height="81.3" fill="none" stroke="#2a2a2a" stroke-width="2.7"/>
<line x1="577.0" y1="1363.3" x2="577.0" y2="1526.4" stroke="#222" stroke-width="3.4" />
<line x1="577.0" y1="1607.7" x2="577.0" y2="1670.9" stroke="#222" stroke-width="3.4" />
<line x1="561.5" y1="1363.3" x2="592.5" y2="1363.3" stroke="#000" stroke-width="6" />
<line x1="561.5" y1="1670.9" x2="592.5" y2="1670.9" stroke="#000" stroke-width="6" />
<line x1="528.0" y1="1570.5" x2="626.0" y2="1570.5" stroke="#000" stroke-width="7.4" />
<g transform="translate(389.82,1300.60) scale(1,1.05)"><text font-size="24.3" font-weight="bold" fill="#9a9a9a" >p=0.0099</text></g>
<line x1="322.6" y1="1306.6" x2="579.5" y2="1306.6" stroke="#8a8a8a" stroke-width="2.4" />
<g transform="translate(477.62,1343.20) scale(1,1.05)"><text font-size="24.3" font-weight="bold" fill="#262626" >p=0.0452</text></g>
<line x1="480.7" y1="1349.3" x2="578.0" y2="1349.3" stroke="#111" stroke-width="3" />
<g transform="translate(66.10,1564.42) rotate(-90) scale(1,1.05)"><text font-size="42" font-weight="bold" fill="#262626">V</text></g>
<g transform="translate(74.60,1536.45) rotate(-90) scale(1,1.05)"><text font-size="21.5" font-weight="bold" fill="#262626">short</text></g>
<g transform="translate(66.48,1471.80) rotate(-90) scale(1,1.05)"><text font-size="42" font-weight="bold" fill="#262626">(<tspan font-weight="normal">μ</tspan>m/s)</text></g>
<line x1="838.8" y1="1223.7" x2="838.8" y2="1704.3" stroke="#000" stroke-width="3.6" />
<line x1="819.3" y1="1702.3" x2="1317.8" y2="1702.3" stroke="#000" stroke-width="4.4" />
<line x1="819.3" y1="1225.7" x2="838.8" y2="1225.7" stroke="#000" stroke-width="4.2" />
<g transform="translate(774.94,1240.10) scale(1,1.05)"><text font-size="36" font-weight="bold" fill="#000" > 5</text><path transform="translate(0.00,0) scale(0.01758,-0.01758)" d="M478 0V1170L140 959V1180L493 1409H759V0Z" fill="#000"/></g>
<line x1="819.3" y1="1384.3" x2="838.8" y2="1384.3" stroke="#000" stroke-width="4.2" />
<g transform="translate(775.18,1398.50) scale(1,1.05)"><text font-size="36" font-weight="bold" fill="#000" > 0</text><path transform="translate(0.00,0) scale(0.01758,-0.01758)" d="M478 0V1170L140 959V1180L493 1409H759V0Z" fill="#000"/></g>
<line x1="819.3" y1="1542.6" x2="838.8" y2="1542.6" stroke="#000" stroke-width="4.2" />
<g transform="translate(792.92,1555.40) scale(1,1.05)"><text font-size="36" font-weight="bold" fill="#000" >5</text></g>
<line x1="819.3" y1="1702.3" x2="838.8" y2="1702.3" stroke="#000" stroke-width="4.2" />
<g transform="translate(792.56,1715.40) scale(1,1.05)"><text font-size="36" font-weight="bold" fill="#000" >0</text></g>
<line x1="902.7" y1="1702.3" x2="902.7" y2="1722.3" stroke="#000" stroke-width="4.6" />
<g transform="translate(887.27,1757.50) scale(1,1.05)"><text font-size="42" font-weight="bold" fill="#262626" >C</text></g>
<line x1="997.4" y1="1702.3" x2="997.4" y2="1722.3" stroke="#000" stroke-width="4.6" />
<g transform="translate(969.68,1757.50) scale(1,1.05)"><text font-size="42" font-weight="bold" fill="#262626" >AF</text></g>
<line x1="1155.8" y1="1702.3" x2="1155.8" y2="1722.3" stroke="#000" stroke-width="4.6" />
<g transform="translate(1140.37,1757.50) scale(1,1.05)"><text font-size="42" font-weight="bold" fill="#262626" >C</text></g>
<line x1="1251.5" y1="1702.3" x2="1251.5" y2="1722.3" stroke="#000" stroke-width="4.6" />
<g transform="translate(1223.78,1757.50) scale(1,1.05)"><text font-size="42" font-weight="bold" fill="#262626" >AF</text></g>
<g transform="translate(919.55,1213.60) scale(1,1.05)"><text font-size="48.5" font-weight="bold" fill="#262626" >LA</text></g>
<g transform="translate(1168.95,1213.60) scale(1,1.05)"><text font-size="48.5" font-weight="bold" fill="#262626" >RA</text></g>
<rect x="873.7" y="1585.9" width="58.0" height="55.8" fill="#e3e3e3" stroke="none" stroke-width="0"/>
<rect x="899.0" y="1676.8" width="9.5" height="9.5" rx="0.8" fill="#fff" stroke="#2a2a2a" stroke-width="1.1"/>
<rect x="897.1" y="1484.5" width="9.5" height="9.5" rx="0.8" fill="#fff" stroke="#2a2a2a" stroke-width="1.1"/>
<rect x="887.5" y="1491.3" width="9.5" height="9.5" rx="0.8" fill="#fff" stroke="#2a2a2a" stroke-width="1.1"/>
<rect x="899.3" y="1491.9" width="9.5" height="9.5" rx="0.8" fill="#fff" stroke="#2a2a2a" stroke-width="1.1"/>
<rect x="897.9" y="1505.8" width="9.5" height="9.5" rx="0.8" fill="#fff" stroke="#2a2a2a" stroke-width="1.1"/>
<rect x="888.0" y="1528.7" width="9.5" height="9.5" rx="0.8" fill="#fff" stroke="#2a2a2a" stroke-width="1.1"/>
<rect x="898.1" y="1531.3" width="9.5" height="9.5" rx="0.8" fill="#fff" stroke="#2a2a2a" stroke-width="1.1"/>
<rect x="890.1" y="1539.2" width="9.5" height="9.5" rx="0.8" fill="#fff" stroke="#2a2a2a" stroke-width="1.1"/>
<rect x="898.5" y="1539.4" width="9.5" height="9.5" rx="0.8" fill="#fff" stroke="#2a2a2a" stroke-width="1.1"/>
<rect x="896.7" y="1546.3" width="9.5" height="9.5" rx="0.8" fill="#fff" stroke="#2a2a2a" stroke-width="1.1"/>
<rect x="907.1" y="1549.8" width="9.5" height="9.5" rx="0.8" fill="#fff" stroke="#2a2a2a" stroke-width="1.1"/>
<rect x="897.2" y="1555.6" width="9.5" height="9.5" rx="0.8" fill="#fff" stroke="#2a2a2a" stroke-width="1.1"/>
<rect x="897.7" y="1567.0" width="9.5" height="9.5" rx="0.8" fill="#fff" stroke="#2a2a2a" stroke-width="1.1"/>
<rect x="906.9" y="1567.4" width="9.5" height="9.5" rx="0.8" fill="#fff" stroke="#2a2a2a" stroke-width="1.1"/>
<rect x="898.1" y="1573.1" width="9.5" height="9.5" rx="0.8" fill="#fff" stroke="#2a2a2a" stroke-width="1.1"/>
<rect x="888.5" y="1576.2" width="9.5" height="9.5" rx="0.8" fill="#fff" stroke="#2a2a2a" stroke-width="1.1"/>
<rect x="897.9" y="1579.6" width="9.5" height="9.5" rx="0.8" fill="#fff" stroke="#2a2a2a" stroke-width="1.1"/>
<rect x="915.7" y="1580.4" width="9.5" height="9.5" rx="0.8" fill="#fff" stroke="#2a2a2a" stroke-width="1.1"/>
<rect x="906.8" y="1584.7" width="9.5" height="9.5" rx="0.8" fill="#fff" stroke="#2a2a2a" stroke-width="1.1"/>
<rect x="889.4" y="1585.1" width="9.5" height="9.5" rx="0.8" fill="#fff" stroke="#2a2a2a" stroke-width="1.1"/>
<rect x="897.3" y="1585.8" width="9.5" height="9.5" rx="0.8" fill="#fff" stroke="#2a2a2a" stroke-width="1.1"/>
<rect x="916.9" y="1588.3" width="9.5" height="9.5" rx="0.8" fill="#fff" stroke="#2a2a2a" stroke-width="1.1"/>
<rect x="899.1" y="1590.9" width="9.5" height="9.5" rx="0.8" fill="#fff" stroke="#2a2a2a" stroke-width="1.1"/>
<rect x="889.9" y="1591.2" width="9.5" height="9.5" rx="0.8" fill="#fff" stroke="#2a2a2a" stroke-width="1.1"/>
<rect x="905.8" y="1594.2" width="9.5" height="9.5" rx="0.8" fill="#fff" stroke="#2a2a2a" stroke-width="1.1"/>
<rect x="915.4" y="1595.8" width="9.5" height="9.5" rx="0.8" fill="#fff" stroke="#2a2a2a" stroke-width="1.1"/>
<rect x="896.7" y="1596.0" width="9.5" height="9.5" rx="0.8" fill="#fff" stroke="#2a2a2a" stroke-width="1.1"/>
<rect x="889.7" y="1596.5" width="9.5" height="9.5" rx="0.8" fill="#fff" stroke="#2a2a2a" stroke-width="1.1"/>
<rect x="881.0" y="1598.9" width="9.5" height="9.5" rx="0.8" fill="#fff" stroke="#2a2a2a" stroke-width="1.1"/>
<rect x="907.9" y="1600.0" width="9.5" height="9.5" rx="0.8" fill="#fff" stroke="#2a2a2a" stroke-width="1.1"/>
<rect x="914.9" y="1600.9" width="9.5" height="9.5" rx="0.8" fill="#fff" stroke="#2a2a2a" stroke-width="1.1"/>
<rect x="887.8" y="1601.7" width="9.5" height="9.5" rx="0.8" fill="#fff" stroke="#2a2a2a" stroke-width="1.1"/>
<rect x="872.1" y="1601.8" width="9.5" height="9.5" rx="0.8" fill="#fff" stroke="#2a2a2a" stroke-width="1.1"/>
<rect x="897.4" y="1603.7" width="9.5" height="9.5" rx="0.8" fill="#fff" stroke="#2a2a2a" stroke-width="1.1"/>
<rect x="879.4" y="1604.8" width="9.5" height="9.5" rx="0.8" fill="#fff" stroke="#2a2a2a" stroke-width="1.1"/>
<rect x="908.1" y="1608.5" width="9.5" height="9.5" rx="0.8" fill="#fff" stroke="#2a2a2a" stroke-width="1.1"/>
<rect x="889.6" y="1609.1" width="9.5" height="9.5" rx="0.8" fill="#fff" stroke="#2a2a2a" stroke-width="1.1"/>
<rect x="916.6" y="1610.0" width="9.5" height="9.5" rx="0.8" fill="#fff" stroke="#2a2a2a" stroke-width="1.1"/>
<rect x="896.9" y="1611.6" width="9.5" height="9.5" rx="0.8" fill="#fff" stroke="#2a2a2a" stroke-width="1.1"/>
<rect x="924.3" y="1612.7" width="9.5" height="9.5" rx="0.8" fill="#fff" stroke="#2a2a2a" stroke-width="1.1"/>
<rect x="906.1" y="1613.6" width="9.5" height="9.5" rx="0.8" fill="#fff" stroke="#2a2a2a" stroke-width="1.1"/>
<rect x="888.6" y="1614.2" width="9.5" height="9.5" rx="0.8" fill="#fff" stroke="#2a2a2a" stroke-width="1.1"/>
<rect x="896.9" y="1616.8" width="9.5" height="9.5" rx="0.8" fill="#fff" stroke="#2a2a2a" stroke-width="1.1"/>
<rect x="880.8" y="1616.9" width="9.5" height="9.5" rx="0.8" fill="#fff" stroke="#2a2a2a" stroke-width="1.1"/>
<rect x="917.3" y="1620.2" width="9.5" height="9.5" rx="0.8" fill="#fff" stroke="#2a2a2a" stroke-width="1.1"/>
<rect x="888.9" y="1621.1" width="9.5" height="9.5" rx="0.8" fill="#fff" stroke="#2a2a2a" stroke-width="1.1"/>
<rect x="906.9" y="1621.3" width="9.5" height="9.5" rx="0.8" fill="#fff" stroke="#2a2a2a" stroke-width="1.1"/>
<rect x="878.8" y="1623.9" width="9.5" height="9.5" rx="0.8" fill="#fff" stroke="#2a2a2a" stroke-width="1.1"/>
<rect x="897.9" y="1625.2" width="9.5" height="9.5" rx="0.8" fill="#fff" stroke="#2a2a2a" stroke-width="1.1"/>
<rect x="905.9" y="1627.2" width="9.5" height="9.5" rx="0.8" fill="#fff" stroke="#2a2a2a" stroke-width="1.1"/>
<rect x="889.1" y="1629.1" width="9.5" height="9.5" rx="0.8" fill="#fff" stroke="#2a2a2a" stroke-width="1.1"/>
<rect x="898.4" y="1630.7" width="9.5" height="9.5" rx="0.8" fill="#fff" stroke="#2a2a2a" stroke-width="1.1"/>
<rect x="888.5" y="1637.2" width="9.5" height="9.5" rx="0.8" fill="#fff" stroke="#2a2a2a" stroke-width="1.1"/>
<rect x="896.8" y="1637.8" width="9.5" height="9.5" rx="0.8" fill="#fff" stroke="#2a2a2a" stroke-width="1.1"/>
<rect x="907.5" y="1638.7" width="9.5" height="9.5" rx="0.8" fill="#fff" stroke="#2a2a2a" stroke-width="1.1"/>
<rect x="870.5" y="1639.0" width="9.5" height="9.5" rx="0.8" fill="#fff" stroke="#2a2a2a" stroke-width="1.1"/>
<rect x="916.0" y="1639.5" width="9.5" height="9.5" rx="0.8" fill="#fff" stroke="#2a2a2a" stroke-width="1.1"/>
<rect x="880.9" y="1641.2" width="9.5" height="9.5" rx="0.8" fill="#fff" stroke="#2a2a2a" stroke-width="1.1"/>
<rect x="925.6" y="1642.8" width="9.5" height="9.5" rx="0.8" fill="#fff" stroke="#2a2a2a" stroke-width="1.1"/>
<rect x="869.9" y="1644.3" width="9.5" height="9.5" rx="0.8" fill="#fff" stroke="#2a2a2a" stroke-width="1.1"/>
<rect x="897.8" y="1644.3" width="9.5" height="9.5" rx="0.8" fill="#fff" stroke="#2a2a2a" stroke-width="1.1"/>
<rect x="888.8" y="1646.2" width="9.5" height="9.5" rx="0.8" fill="#fff" stroke="#2a2a2a" stroke-width="1.1"/>
<rect x="905.7" y="1647.3" width="9.5" height="9.5" rx="0.8" fill="#fff" stroke="#2a2a2a" stroke-width="1.1"/>
<rect x="915.5" y="1650.1" width="9.5" height="9.5" rx="0.8" fill="#fff" stroke="#2a2a2a" stroke-width="1.1"/>
<rect x="897.5" y="1652.5" width="9.5" height="9.5" rx="0.8" fill="#fff" stroke="#2a2a2a" stroke-width="1.1"/>
<rect x="906.4" y="1654.1" width="9.5" height="9.5" rx="0.8" fill="#fff" stroke="#2a2a2a" stroke-width="1.1"/>
<rect x="881.4" y="1654.5" width="9.5" height="9.5" rx="0.8" fill="#fff" stroke="#2a2a2a" stroke-width="1.1"/>
<rect x="890.0" y="1657.1" width="9.5" height="9.5" rx="0.8" fill="#fff" stroke="#2a2a2a" stroke-width="1.1"/>
<rect x="898.9" y="1658.8" width="9.5" height="9.5" rx="0.8" fill="#fff" stroke="#2a2a2a" stroke-width="1.1"/>
<rect x="889.7" y="1662.9" width="9.5" height="9.5" rx="0.8" fill="#fff" stroke="#2a2a2a" stroke-width="1.1"/>
<rect x="898.7" y="1431.7" width="9.5" height="9.5" rx="0.8" fill="#fff" stroke="#2a2a2a" stroke-width="1.1"/>
<rect x="873.7" y="1585.9" width="58.0" height="55.8" fill="none" stroke="#2a2a2a" stroke-width="2.7"/>
<line x1="902.7" y1="1436.4" x2="902.7" y2="1585.9" stroke="#222" stroke-width="3.4" />
<line x1="902.7" y1="1641.7" x2="902.7" y2="1681.6" stroke="#222" stroke-width="3.4" />
<line x1="887.2" y1="1436.4" x2="918.2" y2="1436.4" stroke="#000" stroke-width="6" />
<line x1="887.2" y1="1681.6" x2="918.2" y2="1681.6" stroke="#000" stroke-width="6" />
<line x1="853.7" y1="1611.8" x2="951.7" y2="1611.8" stroke="#000" stroke-width="7.4" />
<rect x="968.4" y="1604.3" width="58.0" height="49.9" fill="#ff0000" stroke="none" stroke-width="0"/>
<rect x="993.7" y="1691.0" width="9.0" height="9.0" fill="#000" stroke="#fff" stroke-width="0.7"/>
<rect x="991.5" y="1525.4" width="9.0" height="9.0" fill="#000" stroke="#fff" stroke-width="0.7"/>
<rect x="991.4" y="1536.5" width="9.0" height="9.0" fill="#000" stroke="#fff" stroke-width="0.7"/>
<rect x="992.4" y="1545.2" width="9.0" height="9.0" fill="#000" stroke="#fff" stroke-width="0.7"/>
<rect x="985.0" y="1556.3" width="9.0" height="9.0" fill="#000" stroke="#fff" stroke-width="0.7"/>
<rect x="992.8" y="1556.8" width="9.0" height="9.0" fill="#000" stroke="#fff" stroke-width="0.7"/>
<rect x="1002.8" y="1560.1" width="9.0" height="9.0" fill="#000" stroke="#fff" stroke-width="0.7"/>
<rect x="993.3" y="1567.1" width="9.0" height="9.0" fill="#000" stroke="#fff" stroke-width="0.7"/>
<rect x="982.9" y="1570.2" width="9.0" height="9.0" fill="#000" stroke="#fff" stroke-width="0.7"/>
<rect x="1000.7" y="1573.1" width="9.0" height="9.0" fill="#000" stroke="#fff" stroke-width="0.7"/>
<rect x="994.0" y="1576.2" width="9.0" height="9.0" fill="#000" stroke="#fff" stroke-width="0.7"/>
<rect x="975.2" y="1576.9" width="9.0" height="9.0" fill="#000" stroke="#fff" stroke-width="0.7"/>
<rect x="983.8" y="1577.0" width="9.0" height="9.0" fill="#000" stroke="#fff" stroke-width="0.7"/>
<rect x="1001.6" y="1578.4" width="9.0" height="9.0" fill="#000" stroke="#fff" stroke-width="0.7"/>
<rect x="984.1" y="1582.6" width="9.0" height="9.0" fill="#000" stroke="#fff" stroke-width="0.7"/>
<rect x="994.2" y="1582.8" width="9.0" height="9.0" fill="#000" stroke="#fff" stroke-width="0.7"/>
<rect x="973.7" y="1583.0" width="9.0" height="9.0" fill="#000" stroke="#fff" stroke-width="0.7"/>
<rect x="1000.5" y="1587.9" width="9.0" height="9.0" fill="#000" stroke="#fff" stroke-width="0.7"/>
<rect x="1010.7" y="1590.7" width="9.0" height="9.0" fill="#000" stroke="#fff" stroke-width="0.7"/>
<rect x="993.4" y="1590.8" width="9.0" height="9.0" fill="#000" stroke="#fff" stroke-width="0.7"/>
<rect x="974.3" y="1592.8" width="9.0" height="9.0" fill="#000" stroke="#fff" stroke-width="0.7"/>
<rect x="1001.9" y="1593.4" width="9.0" height="9.0" fill="#000" stroke="#fff" stroke-width="0.7"/>
<rect x="982.5" y="1594.1" width="9.0" height="9.0" fill="#000" stroke="#fff" stroke-width="0.7"/>
<rect x="1010.5" y="1597.4" width="9.0" height="9.0" fill="#000" stroke="#fff" stroke-width="0.7"/>
<rect x="991.6" y="1598.3" width="9.0" height="9.0" fill="#000" stroke="#fff" stroke-width="0.7"/>
<rect x="964.9" y="1598.4" width="9.0" height="9.0" fill="#000" stroke="#fff" stroke-width="0.7"/>
<rect x="976.0" y="1599.7" width="9.0" height="9.0" fill="#000" stroke="#fff" stroke-width="0.7"/>
<rect x="1020.4" y="1601.2" width="9.0" height="9.0" fill="#000" stroke="#fff" stroke-width="0.7"/>
<rect x="1002.7" y="1603.4" width="9.0" height="9.0" fill="#000" stroke="#fff" stroke-width="0.7"/>
<rect x="984.4" y="1603.7" width="9.0" height="9.0" fill="#000" stroke="#fff" stroke-width="0.7"/>
<rect x="992.8" y="1604.4" width="9.0" height="9.0" fill="#000" stroke="#fff" stroke-width="0.7"/>
<rect x="975.3" y="1605.8" width="9.0" height="9.0" fill="#000" stroke="#fff" stroke-width="0.7"/>
<rect x="1020.1" y="1608.5" width="9.0" height="9.0" fill="#000" stroke="#fff" stroke-width="0.7"/>
<rect x="967.3" y="1609.2" width="9.0" height="9.0" fill="#000" stroke="#fff" stroke-width="0.7"/>
<rect x="982.5" y="1609.3" width="9.0" height="9.0" fill="#000" stroke="#fff" stroke-width="0.7"/>
<rect x="975.3" y="1611.7" width="9.0" height="9.0" fill="#000" stroke="#fff" stroke-width="0.7"/>
<rect x="1001.4" y="1612.1" width="9.0" height="9.0" fill="#000" stroke="#fff" stroke-width="0.7"/>
<rect x="993.9" y="1612.9" width="9.0" height="9.0" fill="#000" stroke="#fff" stroke-width="0.7"/>
<rect x="1009.7" y="1613.3" width="9.0" height="9.0" fill="#000" stroke="#fff" stroke-width="0.7"/>
<rect x="984.1" y="1615.8" width="9.0" height="9.0" fill="#000" stroke="#fff" stroke-width="0.7"/>
<rect x="1020.5" y="1616.1" width="9.0" height="9.0" fill="#000" stroke="#fff" stroke-width="0.7"/>
<rect x="1002.8" y="1617.6" width="9.0" height="9.0" fill="#000" stroke="#fff" stroke-width="0.7"/>
<rect x="975.0" y="1618.0" width="9.0" height="9.0" fill="#000" stroke="#fff" stroke-width="0.7"/>
<rect x="966.7" y="1618.9" width="9.0" height="9.0" fill="#000" stroke="#fff" stroke-width="0.7"/>
<rect x="992.2" y="1619.7" width="9.0" height="9.0" fill="#000" stroke="#fff" stroke-width="0.7"/>
<rect x="1011.8" y="1620.6" width="9.0" height="9.0" fill="#000" stroke="#fff" stroke-width="0.7"/>
<rect x="982.6" y="1621.3" width="9.0" height="9.0" fill="#000" stroke="#fff" stroke-width="0.7"/>
<rect x="1001.1" y="1621.7" width="9.0" height="9.0" fill="#000" stroke="#fff" stroke-width="0.7"/>
<rect x="975.5" y="1623.1" width="9.0" height="9.0" fill="#000" stroke="#fff" stroke-width="0.7"/>
<rect x="1021.3" y="1624.6" width="9.0" height="9.0" fill="#000" stroke="#fff" stroke-width="0.7"/>
<rect x="993.8" y="1624.8" width="9.0" height="9.0" fill="#000" stroke="#fff" stroke-width="0.7"/>
<rect x="1003.1" y="1625.6" width="9.0" height="9.0" fill="#000" stroke="#fff" stroke-width="0.7"/>
<rect x="984.8" y="1626.3" width="9.0" height="9.0" fill="#000" stroke="#fff" stroke-width="0.7"/>
<rect x="965.5" y="1627.9" width="9.0" height="9.0" fill="#000" stroke="#fff" stroke-width="0.7"/>
<rect x="992.0" y="1628.1" width="9.0" height="9.0" fill="#000" stroke="#fff" stroke-width="0.7"/>
<rect x="973.9" y="1628.3" width="9.0" height="9.0" fill="#000" stroke="#fff" stroke-width="0.7"/>
<rect x="1012.1" y="1629.2" width="9.0" height="9.0" fill="#000" stroke="#fff" stroke-width="0.7"/>
<rect x="983.4" y="1630.5" width="9.0" height="9.0" fill="#000" stroke="#fff" stroke-width="0.7"/>
<rect x="1020.2" y="1630.6" width="9.0" height="9.0" fill="#000" stroke="#fff" stroke-width="0.7"/>
<rect x="1002.0" y="1630.6" width="9.0" height="9.0" fill="#000" stroke="#fff" stroke-width="0.7"/>
<rect x="1010.1" y="1632.7" width="9.0" height="9.0" fill="#000" stroke="#fff" stroke-width="0.7"/>
<rect x="965.4" y="1632.9" width="9.0" height="9.0" fill="#000" stroke="#fff" stroke-width="0.7"/>
<rect x="1020.2" y="1634.3" width="9.0" height="9.0" fill="#000" stroke="#fff" stroke-width="0.7"/>
<rect x="993.0" y="1634.4" width="9.0" height="9.0" fill="#000" stroke="#fff" stroke-width="0.7"/>
<rect x="974.7" y="1634.4" width="9.0" height="9.0" fill="#000" stroke="#fff" stroke-width="0.7"/>
<rect x="1019.8" y="1637.2" width="9.0" height="9.0" fill="#000" stroke="#fff" stroke-width="0.7"/>
<rect x="1009.5" y="1637.6" width="9.0" height="9.0" fill="#000" stroke="#fff" stroke-width="0.7"/>
<rect x="983.3" y="1637.9" width="9.0" height="9.0" fill="#000" stroke="#fff" stroke-width="0.7"/>
<rect x="1002.3" y="1638.6" width="9.0" height="9.0" fill="#000" stroke="#fff" stroke-width="0.7"/>
<rect x="966.2" y="1640.2" width="9.0" height="9.0" fill="#000" stroke="#fff" stroke-width="0.7"/>
<rect x="976.2" y="1640.6" width="9.0" height="9.0" fill="#000" stroke="#fff" stroke-width="0.7"/>
<rect x="1021.3" y="1640.9" width="9.0" height="9.0" fill="#000" stroke="#fff" stroke-width="0.7"/>
<rect x="994.1" y="1642.4" width="9.0" height="9.0" fill="#000" stroke="#fff" stroke-width="0.7"/>
<rect x="1009.8" y="1643.2" width="9.0" height="9.0" fill="#000" stroke="#fff" stroke-width="0.7"/>
<rect x="983.9" y="1643.9" width="9.0" height="9.0" fill="#000" stroke="#fff" stroke-width="0.7"/>
<rect x="1001.7" y="1645.4" width="9.0" height="9.0" fill="#000" stroke="#fff" stroke-width="0.7"/>
<rect x="976.4" y="1646.2" width="9.0" height="9.0" fill="#000" stroke="#fff" stroke-width="0.7"/>
<rect x="1010.6" y="1649.3" width="9.0" height="9.0" fill="#000" stroke="#fff" stroke-width="0.7"/>
<rect x="1020.7" y="1650.3" width="9.0" height="9.0" fill="#000" stroke="#fff" stroke-width="0.7"/>
<rect x="994.4" y="1650.4" width="9.0" height="9.0" fill="#000" stroke="#fff" stroke-width="0.7"/>
<rect x="1003.1" y="1651.1" width="9.0" height="9.0" fill="#000" stroke="#fff" stroke-width="0.7"/>
<rect x="983.8" y="1651.4" width="9.0" height="9.0" fill="#000" stroke="#fff" stroke-width="0.7"/>
<rect x="991.5" y="1652.3" width="9.0" height="9.0" fill="#000" stroke="#fff" stroke-width="0.7"/>
<rect x="973.9" y="1652.6" width="9.0" height="9.0" fill="#000" stroke="#fff" stroke-width="0.7"/>
<rect x="965.6" y="1653.2" width="9.0" height="9.0" fill="#000" stroke="#fff" stroke-width="0.7"/>
<rect x="1019.5" y="1654.4" width="9.0" height="9.0" fill="#000" stroke="#fff" stroke-width="0.7"/>
<rect x="974.3" y="1654.7" width="9.0" height="9.0" fill="#000" stroke="#fff" stroke-width="0.7"/>
<rect x="1009.9" y="1654.7" width="9.0" height="9.0" fill="#000" stroke="#fff" stroke-width="0.7"/>
<rect x="992.2" y="1656.7" width="9.0" height="9.0" fill="#000" stroke="#fff" stroke-width="0.7"/>
<rect x="983.6" y="1656.8" width="9.0" height="9.0" fill="#000" stroke="#fff" stroke-width="0.7"/>
<rect x="1000.6" y="1657.3" width="9.0" height="9.0" fill="#000" stroke="#fff" stroke-width="0.7"/>
<rect x="1019.9" y="1659.4" width="9.0" height="9.0" fill="#000" stroke="#fff" stroke-width="0.7"/>
<rect x="967.1" y="1659.7" width="9.0" height="9.0" fill="#000" stroke="#fff" stroke-width="0.7"/>
<rect x="1010.0" y="1660.7" width="9.0" height="9.0" fill="#000" stroke="#fff" stroke-width="0.7"/>
<rect x="983.5" y="1662.0" width="9.0" height="9.0" fill="#000" stroke="#fff" stroke-width="0.7"/>
<rect x="973.8" y="1662.1" width="9.0" height="9.0" fill="#000" stroke="#fff" stroke-width="0.7"/>
<rect x="1001.9" y="1664.7" width="9.0" height="9.0" fill="#000" stroke="#fff" stroke-width="0.7"/>
<rect x="993.1" y="1664.7" width="9.0" height="9.0" fill="#000" stroke="#fff" stroke-width="0.7"/>
<rect x="984.7" y="1665.7" width="9.0" height="9.0" fill="#000" stroke="#fff" stroke-width="0.7"/>
<rect x="975.5" y="1669.9" width="9.0" height="9.0" fill="#000" stroke="#fff" stroke-width="0.7"/>
<rect x="993.3" y="1670.0" width="9.0" height="9.0" fill="#000" stroke="#fff" stroke-width="0.7"/>
<rect x="983.1" y="1672.2" width="9.0" height="9.0" fill="#000" stroke="#fff" stroke-width="0.7"/>
<rect x="1000.7" y="1674.7" width="9.0" height="9.0" fill="#000" stroke="#fff" stroke-width="0.7"/>
<rect x="993.9" y="1677.9" width="9.0" height="9.0" fill="#000" stroke="#fff" stroke-width="0.7"/>
<rect x="993.9" y="1506.7" width="9.0" height="9.0" fill="#000" stroke="#fff" stroke-width="0.7"/>
<rect x="968.4" y="1604.3" width="58.0" height="49.9" fill="none" stroke="#2a2a2a" stroke-width="2.7"/>
<line x1="997.4" y1="1511.2" x2="997.4" y2="1604.3" stroke="#222" stroke-width="3.4" />
<line x1="997.4" y1="1654.2" x2="997.4" y2="1695.5" stroke="#222" stroke-width="3.4" />
<line x1="981.9" y1="1511.2" x2="1012.9" y2="1511.2" stroke="#000" stroke-width="6" />
<line x1="981.9" y1="1695.5" x2="1012.9" y2="1695.5" stroke="#000" stroke-width="6" />
<line x1="948.4" y1="1630.7" x2="1046.4" y2="1630.7" stroke="#000" stroke-width="7.4" />
<rect x="1126.8" y="1590.9" width="58.0" height="47.3" fill="#e3e3e3" stroke="none" stroke-width="0"/>
<path d="M1149.2,1682.2H1159.7L1154.4,1691.8Z" fill="#fff" stroke="#222" stroke-width="1.1" stroke-linejoin="miter"/>
<path d="M1141.2,1499.9H1151.7L1146.4,1509.4Z" fill="#fff" stroke="#222" stroke-width="1.1" stroke-linejoin="miter"/>
<path d="M1149.7,1504.1H1160.2L1155.0,1513.6Z" fill="#fff" stroke="#222" stroke-width="1.1" stroke-linejoin="miter"/>
<path d="M1142.4,1505.2H1152.9L1147.6,1514.7Z" fill="#fff" stroke="#222" stroke-width="1.1" stroke-linejoin="miter"/>
<path d="M1151.6,1520.0H1162.1L1156.8,1529.5Z" fill="#fff" stroke="#222" stroke-width="1.1" stroke-linejoin="miter"/>
<path d="M1158.9,1538.1H1169.4L1164.1,1547.6Z" fill="#fff" stroke="#222" stroke-width="1.1" stroke-linejoin="miter"/>
<path d="M1149.3,1541.9H1159.8L1154.5,1551.4Z" fill="#fff" stroke="#222" stroke-width="1.1" stroke-linejoin="miter"/>
<path d="M1132.8,1552.2H1143.3L1138.0,1561.7Z" fill="#fff" stroke="#222" stroke-width="1.1" stroke-linejoin="miter"/>
<path d="M1159.5,1552.4H1170.0L1164.8,1561.9Z" fill="#fff" stroke="#222" stroke-width="1.1" stroke-linejoin="miter"/>
<path d="M1150.0,1552.6H1160.5L1155.3,1562.1Z" fill="#fff" stroke="#222" stroke-width="1.1" stroke-linejoin="miter"/>
<path d="M1140.0,1555.3H1150.5L1145.2,1564.8Z" fill="#fff" stroke="#222" stroke-width="1.1" stroke-linejoin="miter"/>
<path d="M1159.6,1568.1H1170.1L1164.8,1577.6Z" fill="#fff" stroke="#222" stroke-width="1.1" stroke-linejoin="miter"/>
<path d="M1151.2,1568.5H1161.7L1156.5,1578.0Z" fill="#fff" stroke="#222" stroke-width="1.1" stroke-linejoin="miter"/>
<path d="M1140.9,1570.2H1151.4L1146.1,1579.7Z" fill="#fff" stroke="#222" stroke-width="1.1" stroke-linejoin="miter"/>
<path d="M1130.9,1572.5H1141.4L1136.2,1582.0Z" fill="#fff" stroke="#222" stroke-width="1.1" stroke-linejoin="miter"/>
<path d="M1151.6,1577.2H1162.1L1156.8,1586.7Z" fill="#fff" stroke="#222" stroke-width="1.1" stroke-linejoin="miter"/>
<path d="M1140.7,1578.7H1151.2L1145.9,1588.2Z" fill="#fff" stroke="#222" stroke-width="1.1" stroke-linejoin="miter"/>
<path d="M1152.0,1584.3H1162.5L1157.3,1593.8Z" fill="#fff" stroke="#222" stroke-width="1.1" stroke-linejoin="miter"/>
<path d="M1140.2,1586.6H1150.7L1145.4,1596.1Z" fill="#fff" stroke="#222" stroke-width="1.1" stroke-linejoin="miter"/>
<path d="M1170.7,1586.7H1181.2L1175.9,1596.2Z" fill="#fff" stroke="#222" stroke-width="1.1" stroke-linejoin="miter"/>
<path d="M1126.7,1587.4H1137.2L1131.9,1596.9Z" fill="#fff" stroke="#222" stroke-width="1.1" stroke-linejoin="miter"/>
<path d="M1150.8,1589.9H1161.3L1156.0,1599.4Z" fill="#fff" stroke="#222" stroke-width="1.1" stroke-linejoin="miter"/>
<path d="M1130.2,1589.9H1140.7L1135.5,1599.4Z" fill="#fff" stroke="#222" stroke-width="1.1" stroke-linejoin="miter"/>
<path d="M1159.6,1591.1H1170.1L1164.9,1600.6Z" fill="#fff" stroke="#222" stroke-width="1.1" stroke-linejoin="miter"/>
<path d="M1170.4,1591.6H1180.9L1175.6,1601.1Z" fill="#fff" stroke="#222" stroke-width="1.1" stroke-linejoin="miter"/>
<path d="M1141.5,1591.7H1152.0L1146.7,1601.2Z" fill="#fff" stroke="#222" stroke-width="1.1" stroke-linejoin="miter"/>
<path d="M1150.8,1593.5H1161.3L1156.0,1603.0Z" fill="#fff" stroke="#222" stroke-width="1.1" stroke-linejoin="miter"/>
<path d="M1175.1,1595.2H1185.6L1180.4,1604.7Z" fill="#fff" stroke="#222" stroke-width="1.1" stroke-linejoin="miter"/>
<path d="M1151.6,1595.6H1162.1L1156.8,1605.1Z" fill="#fff" stroke="#222" stroke-width="1.1" stroke-linejoin="miter"/>
<path d="M1130.5,1595.8H1141.0L1135.7,1605.3Z" fill="#fff" stroke="#222" stroke-width="1.1" stroke-linejoin="miter"/>
<path d="M1169.6,1596.6H1180.1L1174.9,1606.1Z" fill="#fff" stroke="#222" stroke-width="1.1" stroke-linejoin="miter"/>
<path d="M1160.6,1597.2H1171.1L1165.9,1606.7Z" fill="#fff" stroke="#222" stroke-width="1.1" stroke-linejoin="miter"/>
<path d="M1135.9,1598.1H1146.4L1141.1,1607.6Z" fill="#fff" stroke="#222" stroke-width="1.1" stroke-linejoin="miter"/>
<path d="M1140.8,1598.3H1151.3L1146.1,1607.8Z" fill="#fff" stroke="#222" stroke-width="1.1" stroke-linejoin="miter"/>
<path d="M1126.6,1598.8H1137.1L1131.9,1608.3Z" fill="#fff" stroke="#222" stroke-width="1.1" stroke-linejoin="miter"/>
<path d="M1175.1,1599.0H1185.6L1180.3,1608.5Z" fill="#fff" stroke="#222" stroke-width="1.1" stroke-linejoin="miter"/>
<path d="M1149.5,1601.0H1160.0L1154.8,1610.5Z" fill="#fff" stroke="#222" stroke-width="1.1" stroke-linejoin="miter"/>
<path d="M1169.0,1601.9H1179.5L1174.3,1611.4Z" fill="#fff" stroke="#222" stroke-width="1.1" stroke-linejoin="miter"/>
<path d="M1159.1,1602.5H1169.6L1164.3,1612.0Z" fill="#fff" stroke="#222" stroke-width="1.1" stroke-linejoin="miter"/>
<path d="M1130.4,1604.4H1140.9L1135.7,1613.9Z" fill="#fff" stroke="#222" stroke-width="1.1" stroke-linejoin="miter"/>
<path d="M1142.2,1604.5H1152.7L1147.4,1614.0Z" fill="#fff" stroke="#222" stroke-width="1.1" stroke-linejoin="miter"/>
<path d="M1169.9,1605.2H1180.4L1175.1,1614.7Z" fill="#fff" stroke="#222" stroke-width="1.1" stroke-linejoin="miter"/>
<path d="M1150.7,1606.4H1161.2L1156.0,1615.9Z" fill="#fff" stroke="#222" stroke-width="1.1" stroke-linejoin="miter"/>
<path d="M1141.4,1610.0H1151.9L1146.7,1619.5Z" fill="#fff" stroke="#222" stroke-width="1.1" stroke-linejoin="miter"/>
<path d="M1130.7,1610.4H1141.2L1136.0,1619.9Z" fill="#fff" stroke="#222" stroke-width="1.1" stroke-linejoin="miter"/>
<path d="M1161.4,1610.6H1171.9L1166.7,1620.1Z" fill="#fff" stroke="#222" stroke-width="1.1" stroke-linejoin="miter"/>
<path d="M1168.6,1613.9H1179.1L1173.9,1623.4Z" fill="#fff" stroke="#222" stroke-width="1.1" stroke-linejoin="miter"/>
<path d="M1149.8,1616.7H1160.3L1155.1,1626.2Z" fill="#fff" stroke="#222" stroke-width="1.1" stroke-linejoin="miter"/>
<path d="M1141.5,1617.4H1152.0L1146.7,1626.9Z" fill="#fff" stroke="#222" stroke-width="1.1" stroke-linejoin="miter"/>
<path d="M1160.5,1621.8H1171.0L1165.7,1631.3Z" fill="#fff" stroke="#222" stroke-width="1.1" stroke-linejoin="miter"/>
<path d="M1150.3,1621.8H1160.8L1155.6,1631.3Z" fill="#fff" stroke="#222" stroke-width="1.1" stroke-linejoin="miter"/>
<path d="M1139.6,1623.5H1150.1L1144.9,1633.0Z" fill="#fff" stroke="#222" stroke-width="1.1" stroke-linejoin="miter"/>
<path d="M1131.6,1626.7H1142.1L1136.8,1636.2Z" fill="#fff" stroke="#222" stroke-width="1.1" stroke-linejoin="miter"/>
<path d="M1160.6,1626.9H1171.1L1165.9,1636.4Z" fill="#fff" stroke="#222" stroke-width="1.1" stroke-linejoin="miter"/>
<path d="M1151.0,1627.2H1161.5L1156.3,1636.7Z" fill="#fff" stroke="#222" stroke-width="1.1" stroke-linejoin="miter"/>
<path d="M1160.8,1631.9H1171.3L1166.0,1641.4Z" fill="#fff" stroke="#222" stroke-width="1.1" stroke-linejoin="miter"/>
<path d="M1140.1,1633.5H1150.6L1145.3,1643.0Z" fill="#fff" stroke="#222" stroke-width="1.1" stroke-linejoin="miter"/>
<path d="M1149.2,1633.6H1159.7L1154.5,1643.1Z" fill="#fff" stroke="#222" stroke-width="1.1" stroke-linejoin="miter"/>
<path d="M1133.0,1634.7H1143.5L1138.3,1644.2Z" fill="#fff" stroke="#222" stroke-width="1.1" stroke-linejoin="miter"/>
<path d="M1160.3,1637.9H1170.8L1165.6,1647.4Z" fill="#fff" stroke="#222" stroke-width="1.1" stroke-linejoin="miter"/>
<path d="M1140.7,1639.0H1151.2L1145.9,1648.5Z" fill="#fff" stroke="#222" stroke-width="1.1" stroke-linejoin="miter"/>
<path d="M1126.2,1639.8H1136.7L1131.5,1649.3Z" fill="#fff" stroke="#222" stroke-width="1.1" stroke-linejoin="miter"/>
<path d="M1151.2,1640.2H1161.7L1156.4,1649.7Z" fill="#fff" stroke="#222" stroke-width="1.1" stroke-linejoin="miter"/>
<path d="M1141.0,1642.6H1151.5L1146.3,1652.1Z" fill="#fff" stroke="#222" stroke-width="1.1" stroke-linejoin="miter"/>
<path d="M1168.6,1642.7H1179.1L1173.9,1652.2Z" fill="#fff" stroke="#222" stroke-width="1.1" stroke-linejoin="miter"/>
<path d="M1130.7,1644.6H1141.2L1136.0,1654.1Z" fill="#fff" stroke="#222" stroke-width="1.1" stroke-linejoin="miter"/>
<path d="M1159.2,1644.8H1169.7L1164.4,1654.3Z" fill="#fff" stroke="#222" stroke-width="1.1" stroke-linejoin="miter"/>
<path d="M1141.0,1647.4H1151.5L1146.3,1656.9Z" fill="#fff" stroke="#222" stroke-width="1.1" stroke-linejoin="miter"/>
<path d="M1169.6,1648.2H1180.1L1174.8,1657.7Z" fill="#fff" stroke="#222" stroke-width="1.1" stroke-linejoin="miter"/>
<path d="M1150.9,1651.7H1161.4L1156.1,1661.2Z" fill="#fff" stroke="#222" stroke-width="1.1" stroke-linejoin="miter"/>
<path d="M1150.6,1656.9H1161.1L1155.8,1666.4Z" fill="#fff" stroke="#222" stroke-width="1.1" stroke-linejoin="miter"/>
<path d="M1160.7,1659.9H1171.2L1165.9,1669.4Z" fill="#fff" stroke="#222" stroke-width="1.1" stroke-linejoin="miter"/>
<path d="M1150.0,1663.2H1160.5L1155.3,1672.7Z" fill="#fff" stroke="#222" stroke-width="1.1" stroke-linejoin="miter"/>
<path d="M1161.0,1666.4H1171.5L1166.2,1675.9Z" fill="#fff" stroke="#222" stroke-width="1.1" stroke-linejoin="miter"/>
<path d="M1151.8,1459.0H1162.3L1157.1,1468.5Z" fill="#fff" stroke="#222" stroke-width="1.1" stroke-linejoin="miter"/>
<rect x="1126.8" y="1590.9" width="58.0" height="47.3" fill="none" stroke="#2a2a2a" stroke-width="2.7"/>
<line x1="1155.8" y1="1463.8" x2="1155.8" y2="1590.9" stroke="#222" stroke-width="3.4" />
<line x1="1155.8" y1="1638.2" x2="1155.8" y2="1687.0" stroke="#222" stroke-width="3.4" />
<line x1="1140.3" y1="1463.8" x2="1171.3" y2="1463.8" stroke="#000" stroke-width="6" />
<line x1="1140.3" y1="1687.0" x2="1171.3" y2="1687.0" stroke="#000" stroke-width="6" />
<line x1="1106.8" y1="1605.8" x2="1204.8" y2="1605.8" stroke="#000" stroke-width="7.4" />
<rect x="1222.5" y="1564.5" width="58.0" height="68.7" fill="#ff0000" stroke="none" stroke-width="0"/>
<path d="M1247.9,1682.5H1257.5L1252.7,1691.5Z" fill="#000" stroke="#fff" stroke-width="0.6"/>
<path d="M1245.4,1361.8H1255.0L1250.2,1370.8Z" fill="#000" stroke="#fff" stroke-width="0.6"/>
<path d="M1247.5,1392.3H1257.1L1252.3,1401.3Z" fill="#000" stroke="#fff" stroke-width="0.6"/>
<path d="M1245.9,1437.7H1255.5L1250.7,1446.7Z" fill="#000" stroke="#fff" stroke-width="0.6"/>
<path d="M1247.6,1448.1H1257.2L1252.4,1457.1Z" fill="#000" stroke="#fff" stroke-width="0.6"/>
<path d="M1246.3,1462.7H1255.9L1251.1,1471.7Z" fill="#000" stroke="#fff" stroke-width="0.6"/>
<path d="M1246.5,1478.4H1256.1L1251.3,1487.4Z" fill="#000" stroke="#fff" stroke-width="0.6"/>
<path d="M1238.6,1485.3H1248.2L1243.4,1494.3Z" fill="#000" stroke="#fff" stroke-width="0.6"/>
<path d="M1245.7,1485.8H1255.3L1250.5,1494.8Z" fill="#000" stroke="#fff" stroke-width="0.6"/>
<path d="M1247.0,1495.3H1256.6L1251.8,1504.3Z" fill="#000" stroke="#fff" stroke-width="0.6"/>
<path d="M1236.4,1500.0H1246.0L1241.2,1509.0Z" fill="#000" stroke="#fff" stroke-width="0.6"/>
<path d="M1246.2,1501.4H1255.8L1251.0,1510.4Z" fill="#000" stroke="#fff" stroke-width="0.6"/>
<path d="M1254.5,1502.4H1264.1L1259.3,1511.4Z" fill="#000" stroke="#fff" stroke-width="0.6"/>
<path d="M1245.6,1508.8H1255.2L1250.4,1517.8Z" fill="#000" stroke="#fff" stroke-width="0.6"/>
<path d="M1247.5,1519.4H1257.1L1252.3,1528.4Z" fill="#000" stroke="#fff" stroke-width="0.6"/>
<path d="M1263.7,1525.4H1273.3L1268.5,1534.4Z" fill="#000" stroke="#fff" stroke-width="0.6"/>
<path d="M1238.1,1528.1H1247.7L1242.9,1537.1Z" fill="#000" stroke="#fff" stroke-width="0.6"/>
<path d="M1256.0,1528.8H1265.6L1260.8,1537.8Z" fill="#000" stroke="#fff" stroke-width="0.6"/>
<path d="M1245.9,1529.1H1255.5L1250.7,1538.1Z" fill="#000" stroke="#fff" stroke-width="0.6"/>
<path d="M1247.8,1535.3H1257.4L1252.6,1544.3Z" fill="#000" stroke="#fff" stroke-width="0.6"/>
<path d="M1246.6,1542.8H1256.2L1251.4,1551.8Z" fill="#000" stroke="#fff" stroke-width="0.6"/>
<path d="M1255.9,1543.0H1265.5L1260.7,1552.0Z" fill="#000" stroke="#fff" stroke-width="0.6"/>
<path d="M1238.9,1547.3H1248.5L1243.7,1556.3Z" fill="#000" stroke="#fff" stroke-width="0.6"/>
<path d="M1256.1,1548.3H1265.7L1260.9,1557.3Z" fill="#000" stroke="#fff" stroke-width="0.6"/>
<path d="M1246.1,1551.8H1255.7L1250.9,1560.8Z" fill="#000" stroke="#fff" stroke-width="0.6"/>
<path d="M1254.5,1554.0H1264.1L1259.3,1563.0Z" fill="#000" stroke="#fff" stroke-width="0.6"/>
<path d="M1255.1,1560.9H1264.7L1259.9,1569.9Z" fill="#000" stroke="#fff" stroke-width="0.6"/>
<path d="M1247.3,1561.8H1256.9L1252.1,1570.8Z" fill="#000" stroke="#fff" stroke-width="0.6"/>
<path d="M1273.9,1563.0H1283.5L1278.7,1572.0Z" fill="#000" stroke="#fff" stroke-width="0.6"/>
<path d="M1228.7,1563.3H1238.3L1233.5,1572.3Z" fill="#000" stroke="#fff" stroke-width="0.6"/>
<path d="M1263.3,1565.9H1272.9L1268.1,1574.9Z" fill="#000" stroke="#fff" stroke-width="0.6"/>
<path d="M1237.0,1566.8H1246.6L1241.8,1575.8Z" fill="#000" stroke="#fff" stroke-width="0.6"/>
<path d="M1254.9,1567.4H1264.5L1259.7,1576.4Z" fill="#000" stroke="#fff" stroke-width="0.6"/>
<path d="M1246.2,1569.7H1255.8L1251.0,1578.7Z" fill="#000" stroke="#fff" stroke-width="0.6"/>
<path d="M1228.2,1571.9H1237.8L1233.0,1580.9Z" fill="#000" stroke="#fff" stroke-width="0.6"/>
<path d="M1236.5,1574.1H1246.1L1241.3,1583.1Z" fill="#000" stroke="#fff" stroke-width="0.6"/>
<path d="M1247.1,1574.8H1256.7L1251.9,1583.8Z" fill="#000" stroke="#fff" stroke-width="0.6"/>
<path d="M1257.1,1579.0H1266.7L1261.9,1588.0Z" fill="#000" stroke="#fff" stroke-width="0.6"/>
<path d="M1265.7,1580.0H1275.3L1270.5,1589.0Z" fill="#000" stroke="#fff" stroke-width="0.6"/>
<path d="M1220.6,1581.5H1230.2L1225.4,1590.5Z" fill="#000" stroke="#fff" stroke-width="0.6"/>
<path d="M1274.6,1582.6H1284.2L1279.4,1591.6Z" fill="#000" stroke="#fff" stroke-width="0.6"/>
<path d="M1245.3,1582.8H1254.9L1250.1,1591.8Z" fill="#000" stroke="#fff" stroke-width="0.6"/>
<path d="M1229.1,1583.6H1238.7L1233.9,1592.6Z" fill="#000" stroke="#fff" stroke-width="0.6"/>
<path d="M1236.9,1584.6H1246.5L1241.7,1593.6Z" fill="#000" stroke="#fff" stroke-width="0.6"/>
<path d="M1257.1,1585.4H1266.7L1261.9,1594.4Z" fill="#000" stroke="#fff" stroke-width="0.6"/>
<path d="M1263.8,1586.0H1273.4L1268.6,1595.0Z" fill="#000" stroke="#fff" stroke-width="0.6"/>
<path d="M1229.9,1589.0H1239.5L1234.7,1598.0Z" fill="#000" stroke="#fff" stroke-width="0.6"/>
<path d="M1238.1,1590.9H1247.7L1242.9,1599.9Z" fill="#000" stroke="#fff" stroke-width="0.6"/>
<path d="M1246.1,1591.8H1255.7L1250.9,1600.8Z" fill="#000" stroke="#fff" stroke-width="0.6"/>
<path d="M1256.3,1592.1H1265.9L1261.1,1601.1Z" fill="#000" stroke="#fff" stroke-width="0.6"/>
<path d="M1272.4,1593.7H1282.0L1277.2,1602.7Z" fill="#000" stroke="#fff" stroke-width="0.6"/>
<path d="M1265.8,1595.4H1275.4L1270.6,1604.4Z" fill="#000" stroke="#fff" stroke-width="0.6"/>
<path d="M1220.5,1596.4H1230.1L1225.3,1605.4Z" fill="#000" stroke="#fff" stroke-width="0.6"/>
<path d="M1255.3,1598.0H1264.9L1260.1,1607.0Z" fill="#000" stroke="#fff" stroke-width="0.6"/>
<path d="M1239.2,1599.3H1248.8L1244.0,1608.3Z" fill="#000" stroke="#fff" stroke-width="0.6"/>
<path d="M1227.7,1600.1H1237.3L1232.5,1609.1Z" fill="#000" stroke="#fff" stroke-width="0.6"/>
<path d="M1272.7,1600.4H1282.3L1277.5,1609.4Z" fill="#000" stroke="#fff" stroke-width="0.6"/>
<path d="M1264.3,1600.6H1273.9L1269.1,1609.6Z" fill="#000" stroke="#fff" stroke-width="0.6"/>
<path d="M1245.6,1601.9H1255.2L1250.4,1610.9Z" fill="#000" stroke="#fff" stroke-width="0.6"/>
<path d="M1218.8,1601.9H1228.4L1223.6,1610.9Z" fill="#000" stroke="#fff" stroke-width="0.6"/>
<path d="M1256.7,1603.3H1266.3L1261.5,1612.3Z" fill="#000" stroke="#fff" stroke-width="0.6"/>
<path d="M1237.4,1603.6H1247.0L1242.2,1612.6Z" fill="#000" stroke="#fff" stroke-width="0.6"/>
<path d="M1228.8,1605.4H1238.4L1233.6,1614.4Z" fill="#000" stroke="#fff" stroke-width="0.6"/>
<path d="M1273.4,1605.4H1283.0L1278.2,1614.4Z" fill="#000" stroke="#fff" stroke-width="0.6"/>
<path d="M1255.2,1607.6H1264.8L1260.0,1616.6Z" fill="#000" stroke="#fff" stroke-width="0.6"/>
<path d="M1264.3,1608.7H1273.9L1269.1,1617.7Z" fill="#000" stroke="#fff" stroke-width="0.6"/>
<path d="M1245.4,1608.7H1255.0L1250.2,1617.7Z" fill="#000" stroke="#fff" stroke-width="0.6"/>
<path d="M1237.0,1611.5H1246.6L1241.8,1620.5Z" fill="#000" stroke="#fff" stroke-width="0.6"/>
<path d="M1218.4,1611.6H1228.0L1223.2,1620.6Z" fill="#000" stroke="#fff" stroke-width="0.6"/>
<path d="M1255.5,1613.0H1265.1L1260.3,1622.0Z" fill="#000" stroke="#fff" stroke-width="0.6"/>
<path d="M1263.4,1614.6H1273.0L1268.2,1623.6Z" fill="#000" stroke="#fff" stroke-width="0.6"/>
<path d="M1229.1,1615.5H1238.7L1233.9,1624.5Z" fill="#000" stroke="#fff" stroke-width="0.6"/>
<path d="M1246.4,1615.6H1256.0L1251.2,1624.6Z" fill="#000" stroke="#fff" stroke-width="0.6"/>
<path d="M1219.1,1615.8H1228.7L1223.9,1624.8Z" fill="#000" stroke="#fff" stroke-width="0.6"/>
<path d="M1238.2,1616.9H1247.8L1243.0,1625.9Z" fill="#000" stroke="#fff" stroke-width="0.6"/>
<path d="M1272.8,1617.5H1282.4L1277.6,1626.5Z" fill="#000" stroke="#fff" stroke-width="0.6"/>
<path d="M1256.3,1621.3H1265.9L1261.1,1630.3Z" fill="#000" stroke="#fff" stroke-width="0.6"/>
<path d="M1237.7,1622.2H1247.3L1242.5,1631.2Z" fill="#000" stroke="#fff" stroke-width="0.6"/>
<path d="M1228.3,1622.6H1237.9L1233.1,1631.6Z" fill="#000" stroke="#fff" stroke-width="0.6"/>
<path d="M1246.5,1623.8H1256.1L1251.3,1632.8Z" fill="#000" stroke="#fff" stroke-width="0.6"/>
<path d="M1265.5,1626.1H1275.1L1270.3,1635.1Z" fill="#000" stroke="#fff" stroke-width="0.6"/>
<path d="M1239.0,1627.4H1248.6L1243.8,1636.4Z" fill="#000" stroke="#fff" stroke-width="0.6"/>
<path d="M1229.5,1627.9H1239.1L1234.3,1636.9Z" fill="#000" stroke="#fff" stroke-width="0.6"/>
<path d="M1255.5,1630.0H1265.1L1260.3,1639.0Z" fill="#000" stroke="#fff" stroke-width="0.6"/>
<path d="M1220.4,1630.6H1230.0L1225.2,1639.6Z" fill="#000" stroke="#fff" stroke-width="0.6"/>
<path d="M1265.6,1631.6H1275.2L1270.4,1640.6Z" fill="#000" stroke="#fff" stroke-width="0.6"/>
<path d="M1275.0,1632.2H1284.6L1279.8,1641.2Z" fill="#000" stroke="#fff" stroke-width="0.6"/>
<path d="M1247.6,1632.2H1257.2L1252.4,1641.2Z" fill="#000" stroke="#fff" stroke-width="0.6"/>
<path d="M1238.7,1633.4H1248.3L1243.5,1642.4Z" fill="#000" stroke="#fff" stroke-width="0.6"/>
<path d="M1229.3,1634.6H1238.9L1234.1,1643.6Z" fill="#000" stroke="#fff" stroke-width="0.6"/>
<path d="M1273.7,1635.1H1283.3L1278.5,1644.1Z" fill="#000" stroke="#fff" stroke-width="0.6"/>
<path d="M1220.1,1635.4H1229.7L1224.9,1644.4Z" fill="#000" stroke="#fff" stroke-width="0.6"/>
<path d="M1264.4,1635.7H1274.0L1269.2,1644.7Z" fill="#000" stroke="#fff" stroke-width="0.6"/>
<path d="M1256.7,1637.5H1266.3L1261.5,1646.5Z" fill="#000" stroke="#fff" stroke-width="0.6"/>
<path d="M1237.3,1638.6H1246.9L1242.1,1647.6Z" fill="#000" stroke="#fff" stroke-width="0.6"/>
<path d="M1247.9,1639.0H1257.5L1252.7,1648.0Z" fill="#000" stroke="#fff" stroke-width="0.6"/>
<path d="M1265.1,1641.3H1274.7L1269.9,1650.3Z" fill="#000" stroke="#fff" stroke-width="0.6"/>
<path d="M1227.8,1641.7H1237.4L1232.6,1650.7Z" fill="#000" stroke="#fff" stroke-width="0.6"/>
<path d="M1238.0,1644.9H1247.6L1242.8,1653.9Z" fill="#000" stroke="#fff" stroke-width="0.6"/>
<path d="M1254.8,1645.5H1264.4L1259.6,1654.5Z" fill="#000" stroke="#fff" stroke-width="0.6"/>
<path d="M1245.9,1647.1H1255.5L1250.7,1656.1Z" fill="#000" stroke="#fff" stroke-width="0.6"/>
<path d="M1264.9,1648.8H1274.5L1269.7,1657.8Z" fill="#000" stroke="#fff" stroke-width="0.6"/>
<path d="M1238.9,1650.4H1248.5L1243.7,1659.4Z" fill="#000" stroke="#fff" stroke-width="0.6"/>
<path d="M1256.6,1652.6H1266.2L1261.4,1661.6Z" fill="#000" stroke="#fff" stroke-width="0.6"/>
<path d="M1229.4,1653.0H1239.0L1234.2,1662.0Z" fill="#000" stroke="#fff" stroke-width="0.6"/>
<path d="M1247.5,1657.0H1257.1L1252.3,1666.0Z" fill="#000" stroke="#fff" stroke-width="0.6"/>
<path d="M1237.6,1660.0H1247.2L1242.4,1669.0Z" fill="#000" stroke="#fff" stroke-width="0.6"/>
<path d="M1245.7,1664.8H1255.3L1250.5,1673.8Z" fill="#000" stroke="#fff" stroke-width="0.6"/>
<path d="M1246.2,1670.1H1255.8L1251.0,1679.1Z" fill="#000" stroke="#fff" stroke-width="0.6"/>
<path d="M1245.5,1346.2H1255.1L1250.3,1355.2Z" fill="#000" stroke="#fff" stroke-width="0.6"/>
<rect x="1222.5" y="1564.5" width="58.0" height="68.7" fill="none" stroke="#2a2a2a" stroke-width="2.7"/>
<line x1="1251.5" y1="1350.7" x2="1251.5" y2="1564.5" stroke="#222" stroke-width="3.4" />
<line x1="1251.5" y1="1633.2" x2="1251.5" y2="1687.0" stroke="#222" stroke-width="3.4" />
<line x1="1236.0" y1="1350.7" x2="1267.0" y2="1350.7" stroke="#000" stroke-width="6" />
<line x1="1236.0" y1="1687.0" x2="1267.0" y2="1687.0" stroke="#000" stroke-width="6" />
<line x1="1202.5" y1="1603.3" x2="1300.5" y2="1603.3" stroke="#000" stroke-width="7.4" />
<g transform="translate(1066.02,1325.80) scale(1,1.05)"><text font-size="24.3" font-weight="bold" fill="#9a9a9a" >p&lt;0.000 </text><path transform="translate(89.84,0) scale(0.01187,-0.01187)" d="M478 0V1170L140 959V1180L493 1409H759V0Z" fill="#9a9a9a"/></g>
<line x1="996.4" y1="1334.3" x2="1253.0" y2="1334.3" stroke="#8a8a8a" stroke-width="2.4" />
<g transform="translate(899.12,1406.50) scale(1,1.05)"><text font-size="24.3" font-weight="bold" fill="#262626" >p=0.0 27</text><path transform="translate(62.81,0) scale(0.01187,-0.01187)" d="M478 0V1170L140 959V1180L493 1409H759V0Z" fill="#262626"/></g>
<line x1="905.2" y1="1419.0" x2="998.9" y2="1419.0" stroke="#111" stroke-width="3" />
<g transform="translate(745.00,1565.12) rotate(-90) scale(1,1.05)"><text font-size="42" font-weight="bold" fill="#262626">V</text></g>
<g transform="translate(752.90,1536.80) rotate(-90) scale(1,1.05)"><text font-size="21.5" font-weight="bold" fill="#262626">rel</text></g>
<g transform="translate(744.70,1499.00) rotate(-90) scale(1,1.05)"><text font-size="42" font-weight="bold" fill="#262626">(<tspan font-weight="normal">μ</tspan>m/s)</text></g>
</svg></body></html>
